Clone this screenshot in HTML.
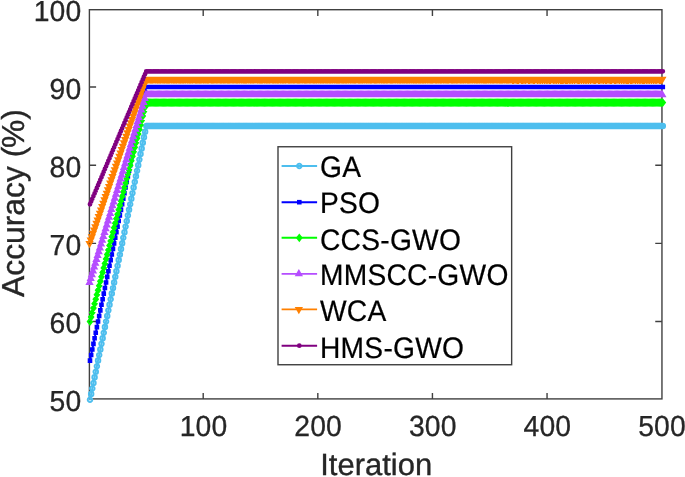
<!DOCTYPE html>
<html lang="en"><head><meta charset="utf-8"><title>Accuracy vs Iteration</title>
<style>html,body{margin:0;padding:0;background:#fff;}body{width:685px;height:477px;overflow:hidden;}svg{display:block;will-change:transform;filter:grayscale(0);}text{font-family:"Liberation Sans",sans-serif;text-rendering:geometricPrecision;}</style></head><body>
<svg width="685" height="477" viewBox="0 0 685 477">
<rect x="0" y="0" width="685" height="477" fill="#ffffff"/>
<defs>
<marker id="m0" markerUnits="userSpaceOnUse" markerWidth="12" markerHeight="12" viewBox="-6 -6 12 12" refX="0" refY="0" overflow="visible"><circle cx="0" cy="0" r="2.35" fill="#4DBEEE" fill-opacity="0.35" stroke="#4DBEEE" stroke-width="1.8"/></marker>
<marker id="m1" markerUnits="userSpaceOnUse" markerWidth="12" markerHeight="12" viewBox="-6 -6 12 12" refX="0" refY="0" overflow="visible"><rect x="-2.3" y="-2.3" width="4.6" height="4.6" fill="#0000FF"/></marker>
<marker id="m2" markerUnits="userSpaceOnUse" markerWidth="12" markerHeight="12" viewBox="-6 -6 12 12" refX="0" refY="0" overflow="visible"><path d="M0,-4.4 L3.4,0 L0,4.4 L-3.4,0 Z" fill="#00FF00"/></marker>
<marker id="m3" markerUnits="userSpaceOnUse" markerWidth="12" markerHeight="12" viewBox="-6 -6 12 12" refX="0" refY="0" overflow="visible"><path d="M-0.45,-4.85 L3.7,2.45 L-4.6,2.45 Z" fill="#B54DFF"/></marker>
<marker id="m4" markerUnits="userSpaceOnUse" markerWidth="12" markerHeight="12" viewBox="-6 -6 12 12" refX="0" refY="0" overflow="visible"><path d="M-0.45,4.85 L3.7,-2.45 L-4.6,-2.45 Z" fill="#FF8000"/></marker>
<marker id="m5" markerUnits="userSpaceOnUse" markerWidth="12" markerHeight="12" viewBox="-6 -6 12 12" refX="0" refY="0" overflow="visible"><circle cx="0" cy="0" r="2.35" fill="#800080"/></marker>
</defs>
<g stroke="#404040" stroke-width="1.4" fill="none">
<rect x="89.4" y="9.7" width="572.55" height="389.20"/>
<path d="M203.20,398.9 V393.10 M203.20,9.7 V16.10"/>
<path d="M317.82,398.9 V393.10 M317.82,9.7 V16.10"/>
<path d="M432.43,398.9 V393.10 M432.43,9.7 V16.10"/>
<path d="M547.05,398.9 V393.10 M547.05,9.7 V16.10"/>
<path d="M89.4,321.54 H96.10 M661.95,321.54 H655.25"/>
<path d="M89.4,243.37 H96.10 M661.95,243.37 H655.25"/>
<path d="M89.4,165.20 H96.10 M661.95,165.20 H655.25"/>
<path d="M89.4,87.03 H96.10 M661.95,87.03 H655.25"/>
</g>
<text transform="translate(203.50,436.30) scale(1,1.025)" style="font-size:28.3px;fill:#262626;text-anchor:middle;stroke:#262626;stroke-width:0.3px;letter-spacing:0.1px;">100</text>
<text transform="translate(318.12,436.30) scale(1,1.025)" style="font-size:28.3px;fill:#262626;text-anchor:middle;stroke:#262626;stroke-width:0.3px;letter-spacing:0.1px;">200</text>
<text transform="translate(432.73,436.30) scale(1,1.025)" style="font-size:28.3px;fill:#262626;text-anchor:middle;stroke:#262626;stroke-width:0.3px;letter-spacing:0.1px;">300</text>
<text transform="translate(547.35,436.30) scale(1,1.025)" style="font-size:28.3px;fill:#262626;text-anchor:middle;stroke:#262626;stroke-width:0.3px;letter-spacing:0.1px;">400</text>
<text transform="translate(661.97,436.30) scale(1,1.025)" style="font-size:28.3px;fill:#262626;text-anchor:middle;stroke:#262626;stroke-width:0.3px;letter-spacing:0.1px;">500</text>
<text transform="translate(81.30,411.00) scale(1,1.025)" style="font-size:28.3px;fill:#262626;text-anchor:end;stroke:#262626;stroke-width:0.3px;letter-spacing:0.1px;">50</text>
<text transform="translate(81.30,333.00) scale(1,1.025)" style="font-size:28.3px;fill:#262626;text-anchor:end;stroke:#262626;stroke-width:0.3px;letter-spacing:0.1px;">60</text>
<text transform="translate(81.30,255.00) scale(1,1.025)" style="font-size:28.3px;fill:#262626;text-anchor:end;stroke:#262626;stroke-width:0.3px;letter-spacing:0.1px;">70</text>
<text transform="translate(81.30,177.00) scale(1,1.025)" style="font-size:28.3px;fill:#262626;text-anchor:end;stroke:#262626;stroke-width:0.3px;letter-spacing:0.1px;">80</text>
<text transform="translate(81.30,99.00) scale(1,1.025)" style="font-size:28.3px;fill:#262626;text-anchor:end;stroke:#262626;stroke-width:0.3px;letter-spacing:0.1px;">90</text>
<text transform="translate(81.30,21.00) scale(1,1.025)" style="font-size:28.3px;fill:#262626;text-anchor:end;stroke:#262626;stroke-width:0.3px;letter-spacing:0.1px;">100</text>
<text transform="translate(376.20,475.20) scale(1,0.99)" style="font-size:31px;fill:#262626;text-anchor:middle;stroke:#262626;stroke-width:0.35px;">Iteration</text>
<text transform="translate(23.50,203.00) rotate(-90)" style="font-size:31.8px;fill:#262626;text-anchor:middle;stroke:#262626;stroke-width:0.35px;">Accuracy (<tspan dx="-1.2">%)</tspan></text>
<polyline fill="none" stroke="#4DBEEE" stroke-width="1.9" points="90.00,399.70 91.15,394.12 92.30,388.53 93.44,382.95 94.59,377.36 95.74,371.78 96.89,366.19 98.04,360.61 99.18,355.03 100.33,349.44 101.48,343.86 102.63,338.27 103.77,332.69 104.92,327.10 106.07,321.52 107.22,315.94 108.37,310.35 109.51,304.77 110.66,299.18 111.81,293.60 112.96,288.01 114.11,282.43 115.25,276.85 116.40,271.26 117.55,265.68 118.70,260.09 119.85,254.51 120.99,248.92 122.14,243.34 123.29,237.76 124.44,232.17 125.58,226.59 126.73,221.00 127.88,215.42 129.03,209.83 130.18,204.25 131.32,198.67 132.47,193.08 133.62,187.50 134.77,181.91 135.92,176.33 137.06,170.74 138.21,165.16 139.36,159.58 140.51,153.99 141.66,148.41 142.80,142.82 143.95,137.24 145.10,131.65 146.25,126.07 147.39,126.07 148.54,126.07 149.69,126.07 150.84,126.07 151.99,126.07 153.13,126.07 154.28,126.07 155.43,126.07 156.58,126.07 157.73,126.07 158.87,126.07 160.02,126.07 161.17,126.07 162.32,126.07 163.47,126.07 164.61,126.07 165.76,126.07 166.91,126.07 168.06,126.07 169.20,126.07 170.35,126.07 171.50,126.07 172.65,126.07 173.80,126.07 174.94,126.07 176.09,126.07 177.24,126.07 178.39,126.07 179.54,126.07 180.68,126.07 181.83,126.07 182.98,126.07 184.13,126.07 185.28,126.07 186.42,126.07 187.57,126.07 188.72,126.07 189.87,126.07 191.01,126.07 192.16,126.07 193.31,126.07 194.46,126.07 195.61,126.07 196.75,126.07 197.90,126.07 199.05,126.07 200.20,126.07 201.35,126.07 202.49,126.07 203.64,126.07 204.79,126.07 205.94,126.07 207.09,126.07 208.23,126.07 209.38,126.07 210.53,126.07 211.68,126.07 212.82,126.07 213.97,126.07 215.12,126.07 216.27,126.07 217.42,126.07 218.56,126.07 219.71,126.07 220.86,126.07 222.01,126.07 223.16,126.07 224.30,126.07 225.45,126.07 226.60,126.07 227.75,126.07 228.90,126.07 230.04,126.07 231.19,126.07 232.34,126.07 233.49,126.07 234.63,126.07 235.78,126.07 236.93,126.07 238.08,126.07 239.23,126.07 240.37,126.07 241.52,126.07 242.67,126.07 243.82,126.07 244.97,126.07 246.11,126.07 247.26,126.07 248.41,126.07 249.56,126.07 250.71,126.07 251.85,126.07 253.00,126.07 254.15,126.07 255.30,126.07 256.44,126.07 257.59,126.07 258.74,126.07 259.89,126.07 261.04,126.07 262.18,126.07 263.33,126.07 264.48,126.07 265.63,126.07 266.78,126.07 267.92,126.07 269.07,126.07 270.22,126.07 271.37,126.07 272.52,126.07 273.66,126.07 274.81,126.07 275.96,126.07 277.11,126.07 278.25,126.07 279.40,126.07 280.55,126.07 281.70,126.07 282.85,126.07 283.99,126.07 285.14,126.07 286.29,126.07 287.44,126.07 288.59,126.07 289.73,126.07 290.88,126.07 292.03,126.07 293.18,126.07 294.33,126.07 295.47,126.07 296.62,126.07 297.77,126.07 298.92,126.07 300.06,126.07 301.21,126.07 302.36,126.07 303.51,126.07 304.66,126.07 305.80,126.07 306.95,126.07 308.10,126.07 309.25,126.07 310.40,126.07 311.54,126.07 312.69,126.07 313.84,126.07 314.99,126.07 316.14,126.07 317.28,126.07 318.43,126.07 319.58,126.07 320.73,126.07 321.87,126.07 323.02,126.07 324.17,126.07 325.32,126.07 326.47,126.07 327.61,126.07 328.76,126.07 329.91,126.07 331.06,126.07 332.21,126.07 333.35,126.07 334.50,126.07 335.65,126.07 336.80,126.07 337.95,126.07 339.09,126.07 340.24,126.07 341.39,126.07 342.54,126.07 343.68,126.07 344.83,126.07 345.98,126.07 347.13,126.07 348.28,126.07 349.42,126.07 350.57,126.07 351.72,126.07 352.87,126.07 354.02,126.07 355.16,126.07 356.31,126.07 357.46,126.07 358.61,126.07 359.76,126.07 360.90,126.07 362.05,126.07 363.20,126.07 364.35,126.07 365.49,126.07 366.64,126.07 367.79,126.07 368.94,126.07 370.09,126.07 371.23,126.07 372.38,126.07 373.53,126.07 374.68,126.07 375.83,126.07 376.97,126.07 378.12,126.07 379.27,126.07 380.42,126.07 381.57,126.07 382.71,126.07 383.86,126.07 385.01,126.07 386.16,126.07 387.31,126.07 388.45,126.07 389.60,126.07 390.75,126.07 391.90,126.07 393.04,126.07 394.19,126.07 395.34,126.07 396.49,126.07 397.64,126.07 398.78,126.07 399.93,126.07 401.08,126.07 402.23,126.07 403.38,126.07 404.52,126.07 405.67,126.07 406.82,126.07 407.97,126.07 409.12,126.07 410.26,126.07 411.41,126.07 412.56,126.07 413.71,126.07 414.85,126.07 416.00,126.07 417.15,126.07 418.30,126.07 419.45,126.07 420.59,126.07 421.74,126.07 422.89,126.07 424.04,126.07 425.19,126.07 426.33,126.07 427.48,126.07 428.63,126.07 429.78,126.07 430.93,126.07 432.07,126.07 433.22,126.07 434.37,126.07 435.52,126.07 436.66,126.07 437.81,126.07 438.96,126.07 440.11,126.07 441.26,126.07 442.40,126.07 443.55,126.07 444.70,126.07 445.85,126.07 447.00,126.07 448.14,126.07 449.29,126.07 450.44,126.07 451.59,126.07 452.74,126.07 453.88,126.07 455.03,126.07 456.18,126.07 457.33,126.07 458.47,126.07 459.62,126.07 460.77,126.07 461.92,126.07 463.07,126.07 464.21,126.07 465.36,126.07 466.51,126.07 467.66,126.07 468.81,126.07 469.95,126.07 471.10,126.07 472.25,126.07 473.40,126.07 474.55,126.07 475.69,126.07 476.84,126.07 477.99,126.07 479.14,126.07 480.28,126.07 481.43,126.07 482.58,126.07 483.73,126.07 484.88,126.07 486.02,126.07 487.17,126.07 488.32,126.07 489.47,126.07 490.62,126.07 491.76,126.07 492.91,126.07 494.06,126.07 495.21,126.07 496.36,126.07 497.50,126.07 498.65,126.07 499.80,126.07 500.95,126.07 502.09,126.07 503.24,126.07 504.39,126.07 505.54,126.07 506.69,126.07 507.83,126.07 508.98,126.07 510.13,126.07 511.28,126.07 512.43,126.07 513.57,126.07 514.72,126.07 515.87,126.07 517.02,126.07 518.17,126.07 519.31,126.07 520.46,126.07 521.61,126.07 522.76,126.07 523.90,126.07 525.05,126.07 526.20,126.07 527.35,126.07 528.50,126.07 529.64,126.07 530.79,126.07 531.94,126.07 533.09,126.07 534.24,126.07 535.38,126.07 536.53,126.07 537.68,126.07 538.83,126.07 539.98,126.07 541.12,126.07 542.27,126.07 543.42,126.07 544.57,126.07 545.71,126.07 546.86,126.07 548.01,126.07 549.16,126.07 550.31,126.07 551.45,126.07 552.60,126.07 553.75,126.07 554.90,126.07 556.05,126.07 557.19,126.07 558.34,126.07 559.49,126.07 560.64,126.07 561.79,126.07 562.93,126.07 564.08,126.07 565.23,126.07 566.38,126.07 567.52,126.07 568.67,126.07 569.82,126.07 570.97,126.07 572.12,126.07 573.26,126.07 574.41,126.07 575.56,126.07 576.71,126.07 577.86,126.07 579.00,126.07 580.15,126.07 581.30,126.07 582.45,126.07 583.60,126.07 584.74,126.07 585.89,126.07 587.04,126.07 588.19,126.07 589.33,126.07 590.48,126.07 591.63,126.07 592.78,126.07 593.93,126.07 595.07,126.07 596.22,126.07 597.37,126.07 598.52,126.07 599.67,126.07 600.81,126.07 601.96,126.07 603.11,126.07 604.26,126.07 605.41,126.07 606.55,126.07 607.70,126.07 608.85,126.07 610.00,126.07 611.14,126.07 612.29,126.07 613.44,126.07 614.59,126.07 615.74,126.07 616.88,126.07 618.03,126.07 619.18,126.07 620.33,126.07 621.48,126.07 622.62,126.07 623.77,126.07 624.92,126.07 626.07,126.07 627.22,126.07 628.36,126.07 629.51,126.07 630.66,126.07 631.81,126.07 632.95,126.07 634.10,126.07 635.25,126.07 636.40,126.07 637.55,126.07 638.69,126.07 639.84,126.07 640.99,126.07 642.14,126.07 643.29,126.07 644.43,126.07 645.58,126.07 646.73,126.07 647.88,126.07 649.03,126.07 650.17,126.07 651.32,126.07 652.47,126.07 653.62,126.07 654.76,126.07 655.91,126.07 657.06,126.07 658.21,126.07 659.36,126.07 660.50,126.07 661.65,126.07 662.80,126.07"/>
<path fill="#4DBEEE" fill-opacity="0.35" stroke="#4DBEEE" stroke-width="1.8" d="M87.65,399.7a2.35,2.35 0 1,0 4.7,0a2.35,2.35 0 1,0 -4.7,0zM88.8,394.12a2.35,2.35 0 1,0 4.7,0a2.35,2.35 0 1,0 -4.7,0zM89.95,388.53a2.35,2.35 0 1,0 4.7,0a2.35,2.35 0 1,0 -4.7,0zM91.09,382.95a2.35,2.35 0 1,0 4.7,0a2.35,2.35 0 1,0 -4.7,0zM92.24,377.36a2.35,2.35 0 1,0 4.7,0a2.35,2.35 0 1,0 -4.7,0zM93.39,371.78a2.35,2.35 0 1,0 4.7,0a2.35,2.35 0 1,0 -4.7,0zM94.54,366.19a2.35,2.35 0 1,0 4.7,0a2.35,2.35 0 1,0 -4.7,0zM95.69,360.61a2.35,2.35 0 1,0 4.7,0a2.35,2.35 0 1,0 -4.7,0zM96.83,355.03a2.35,2.35 0 1,0 4.7,0a2.35,2.35 0 1,0 -4.7,0zM97.98,349.44a2.35,2.35 0 1,0 4.7,0a2.35,2.35 0 1,0 -4.7,0zM99.13,343.86a2.35,2.35 0 1,0 4.7,0a2.35,2.35 0 1,0 -4.7,0zM100.28,338.27a2.35,2.35 0 1,0 4.7,0a2.35,2.35 0 1,0 -4.7,0zM101.42,332.69a2.35,2.35 0 1,0 4.7,0a2.35,2.35 0 1,0 -4.7,0zM102.57,327.1a2.35,2.35 0 1,0 4.7,0a2.35,2.35 0 1,0 -4.7,0zM103.72,321.52a2.35,2.35 0 1,0 4.7,0a2.35,2.35 0 1,0 -4.7,0zM104.87,315.94a2.35,2.35 0 1,0 4.7,0a2.35,2.35 0 1,0 -4.7,0zM106.02,310.35a2.35,2.35 0 1,0 4.7,0a2.35,2.35 0 1,0 -4.7,0zM107.16,304.77a2.35,2.35 0 1,0 4.7,0a2.35,2.35 0 1,0 -4.7,0zM108.31,299.18a2.35,2.35 0 1,0 4.7,0a2.35,2.35 0 1,0 -4.7,0zM109.46,293.6a2.35,2.35 0 1,0 4.7,0a2.35,2.35 0 1,0 -4.7,0zM110.61,288.01a2.35,2.35 0 1,0 4.7,0a2.35,2.35 0 1,0 -4.7,0zM111.76,282.43a2.35,2.35 0 1,0 4.7,0a2.35,2.35 0 1,0 -4.7,0zM112.9,276.85a2.35,2.35 0 1,0 4.7,0a2.35,2.35 0 1,0 -4.7,0zM114.05,271.26a2.35,2.35 0 1,0 4.7,0a2.35,2.35 0 1,0 -4.7,0zM115.2,265.68a2.35,2.35 0 1,0 4.7,0a2.35,2.35 0 1,0 -4.7,0zM116.35,260.09a2.35,2.35 0 1,0 4.7,0a2.35,2.35 0 1,0 -4.7,0zM117.5,254.51a2.35,2.35 0 1,0 4.7,0a2.35,2.35 0 1,0 -4.7,0zM118.64,248.92a2.35,2.35 0 1,0 4.7,0a2.35,2.35 0 1,0 -4.7,0zM119.79,243.34a2.35,2.35 0 1,0 4.7,0a2.35,2.35 0 1,0 -4.7,0zM120.94,237.76a2.35,2.35 0 1,0 4.7,0a2.35,2.35 0 1,0 -4.7,0zM122.09,232.17a2.35,2.35 0 1,0 4.7,0a2.35,2.35 0 1,0 -4.7,0zM123.23,226.59a2.35,2.35 0 1,0 4.7,0a2.35,2.35 0 1,0 -4.7,0zM124.38,221a2.35,2.35 0 1,0 4.7,0a2.35,2.35 0 1,0 -4.7,0zM125.53,215.42a2.35,2.35 0 1,0 4.7,0a2.35,2.35 0 1,0 -4.7,0zM126.68,209.83a2.35,2.35 0 1,0 4.7,0a2.35,2.35 0 1,0 -4.7,0zM127.83,204.25a2.35,2.35 0 1,0 4.7,0a2.35,2.35 0 1,0 -4.7,0zM128.97,198.67a2.35,2.35 0 1,0 4.7,0a2.35,2.35 0 1,0 -4.7,0zM130.12,193.08a2.35,2.35 0 1,0 4.7,0a2.35,2.35 0 1,0 -4.7,0zM131.27,187.5a2.35,2.35 0 1,0 4.7,0a2.35,2.35 0 1,0 -4.7,0zM132.42,181.91a2.35,2.35 0 1,0 4.7,0a2.35,2.35 0 1,0 -4.7,0zM133.57,176.33a2.35,2.35 0 1,0 4.7,0a2.35,2.35 0 1,0 -4.7,0zM134.71,170.74a2.35,2.35 0 1,0 4.7,0a2.35,2.35 0 1,0 -4.7,0zM135.86,165.16a2.35,2.35 0 1,0 4.7,0a2.35,2.35 0 1,0 -4.7,0zM137.01,159.58a2.35,2.35 0 1,0 4.7,0a2.35,2.35 0 1,0 -4.7,0zM138.16,153.99a2.35,2.35 0 1,0 4.7,0a2.35,2.35 0 1,0 -4.7,0zM139.31,148.41a2.35,2.35 0 1,0 4.7,0a2.35,2.35 0 1,0 -4.7,0zM140.45,142.82a2.35,2.35 0 1,0 4.7,0a2.35,2.35 0 1,0 -4.7,0zM141.6,137.24a2.35,2.35 0 1,0 4.7,0a2.35,2.35 0 1,0 -4.7,0zM142.75,131.65a2.35,2.35 0 1,0 4.7,0a2.35,2.35 0 1,0 -4.7,0zM143.9,126.07a2.35,2.35 0 1,0 4.7,0a2.35,2.35 0 1,0 -4.7,0zM145.04,126.07a2.35,2.35 0 1,0 4.7,0a2.35,2.35 0 1,0 -4.7,0zM146.19,126.07a2.35,2.35 0 1,0 4.7,0a2.35,2.35 0 1,0 -4.7,0zM147.34,126.07a2.35,2.35 0 1,0 4.7,0a2.35,2.35 0 1,0 -4.7,0zM148.49,126.07a2.35,2.35 0 1,0 4.7,0a2.35,2.35 0 1,0 -4.7,0zM149.64,126.07a2.35,2.35 0 1,0 4.7,0a2.35,2.35 0 1,0 -4.7,0zM150.78,126.07a2.35,2.35 0 1,0 4.7,0a2.35,2.35 0 1,0 -4.7,0zM151.93,126.07a2.35,2.35 0 1,0 4.7,0a2.35,2.35 0 1,0 -4.7,0zM153.08,126.07a2.35,2.35 0 1,0 4.7,0a2.35,2.35 0 1,0 -4.7,0zM154.23,126.07a2.35,2.35 0 1,0 4.7,0a2.35,2.35 0 1,0 -4.7,0zM155.38,126.07a2.35,2.35 0 1,0 4.7,0a2.35,2.35 0 1,0 -4.7,0zM156.52,126.07a2.35,2.35 0 1,0 4.7,0a2.35,2.35 0 1,0 -4.7,0zM157.67,126.07a2.35,2.35 0 1,0 4.7,0a2.35,2.35 0 1,0 -4.7,0zM158.82,126.07a2.35,2.35 0 1,0 4.7,0a2.35,2.35 0 1,0 -4.7,0zM159.97,126.07a2.35,2.35 0 1,0 4.7,0a2.35,2.35 0 1,0 -4.7,0zM161.12,126.07a2.35,2.35 0 1,0 4.7,0a2.35,2.35 0 1,0 -4.7,0zM162.26,126.07a2.35,2.35 0 1,0 4.7,0a2.35,2.35 0 1,0 -4.7,0zM163.41,126.07a2.35,2.35 0 1,0 4.7,0a2.35,2.35 0 1,0 -4.7,0zM164.56,126.07a2.35,2.35 0 1,0 4.7,0a2.35,2.35 0 1,0 -4.7,0zM165.71,126.07a2.35,2.35 0 1,0 4.7,0a2.35,2.35 0 1,0 -4.7,0zM166.85,126.07a2.35,2.35 0 1,0 4.7,0a2.35,2.35 0 1,0 -4.7,0zM168,126.07a2.35,2.35 0 1,0 4.7,0a2.35,2.35 0 1,0 -4.7,0zM169.15,126.07a2.35,2.35 0 1,0 4.7,0a2.35,2.35 0 1,0 -4.7,0zM170.3,126.07a2.35,2.35 0 1,0 4.7,0a2.35,2.35 0 1,0 -4.7,0zM171.45,126.07a2.35,2.35 0 1,0 4.7,0a2.35,2.35 0 1,0 -4.7,0zM172.59,126.07a2.35,2.35 0 1,0 4.7,0a2.35,2.35 0 1,0 -4.7,0zM173.74,126.07a2.35,2.35 0 1,0 4.7,0a2.35,2.35 0 1,0 -4.7,0zM174.89,126.07a2.35,2.35 0 1,0 4.7,0a2.35,2.35 0 1,0 -4.7,0zM176.04,126.07a2.35,2.35 0 1,0 4.7,0a2.35,2.35 0 1,0 -4.7,0zM177.19,126.07a2.35,2.35 0 1,0 4.7,0a2.35,2.35 0 1,0 -4.7,0zM178.33,126.07a2.35,2.35 0 1,0 4.7,0a2.35,2.35 0 1,0 -4.7,0zM179.48,126.07a2.35,2.35 0 1,0 4.7,0a2.35,2.35 0 1,0 -4.7,0zM180.63,126.07a2.35,2.35 0 1,0 4.7,0a2.35,2.35 0 1,0 -4.7,0zM181.78,126.07a2.35,2.35 0 1,0 4.7,0a2.35,2.35 0 1,0 -4.7,0zM182.93,126.07a2.35,2.35 0 1,0 4.7,0a2.35,2.35 0 1,0 -4.7,0zM184.07,126.07a2.35,2.35 0 1,0 4.7,0a2.35,2.35 0 1,0 -4.7,0zM185.22,126.07a2.35,2.35 0 1,0 4.7,0a2.35,2.35 0 1,0 -4.7,0zM186.37,126.07a2.35,2.35 0 1,0 4.7,0a2.35,2.35 0 1,0 -4.7,0zM187.52,126.07a2.35,2.35 0 1,0 4.7,0a2.35,2.35 0 1,0 -4.7,0zM188.66,126.07a2.35,2.35 0 1,0 4.7,0a2.35,2.35 0 1,0 -4.7,0zM189.81,126.07a2.35,2.35 0 1,0 4.7,0a2.35,2.35 0 1,0 -4.7,0zM190.96,126.07a2.35,2.35 0 1,0 4.7,0a2.35,2.35 0 1,0 -4.7,0zM192.11,126.07a2.35,2.35 0 1,0 4.7,0a2.35,2.35 0 1,0 -4.7,0zM193.26,126.07a2.35,2.35 0 1,0 4.7,0a2.35,2.35 0 1,0 -4.7,0zM194.4,126.07a2.35,2.35 0 1,0 4.7,0a2.35,2.35 0 1,0 -4.7,0zM195.55,126.07a2.35,2.35 0 1,0 4.7,0a2.35,2.35 0 1,0 -4.7,0zM196.7,126.07a2.35,2.35 0 1,0 4.7,0a2.35,2.35 0 1,0 -4.7,0zM197.85,126.07a2.35,2.35 0 1,0 4.7,0a2.35,2.35 0 1,0 -4.7,0zM199,126.07a2.35,2.35 0 1,0 4.7,0a2.35,2.35 0 1,0 -4.7,0zM200.14,126.07a2.35,2.35 0 1,0 4.7,0a2.35,2.35 0 1,0 -4.7,0zM201.29,126.07a2.35,2.35 0 1,0 4.7,0a2.35,2.35 0 1,0 -4.7,0zM202.44,126.07a2.35,2.35 0 1,0 4.7,0a2.35,2.35 0 1,0 -4.7,0zM203.59,126.07a2.35,2.35 0 1,0 4.7,0a2.35,2.35 0 1,0 -4.7,0zM204.74,126.07a2.35,2.35 0 1,0 4.7,0a2.35,2.35 0 1,0 -4.7,0zM205.88,126.07a2.35,2.35 0 1,0 4.7,0a2.35,2.35 0 1,0 -4.7,0zM207.03,126.07a2.35,2.35 0 1,0 4.7,0a2.35,2.35 0 1,0 -4.7,0zM208.18,126.07a2.35,2.35 0 1,0 4.7,0a2.35,2.35 0 1,0 -4.7,0zM209.33,126.07a2.35,2.35 0 1,0 4.7,0a2.35,2.35 0 1,0 -4.7,0zM210.47,126.07a2.35,2.35 0 1,0 4.7,0a2.35,2.35 0 1,0 -4.7,0zM211.62,126.07a2.35,2.35 0 1,0 4.7,0a2.35,2.35 0 1,0 -4.7,0zM212.77,126.07a2.35,2.35 0 1,0 4.7,0a2.35,2.35 0 1,0 -4.7,0zM213.92,126.07a2.35,2.35 0 1,0 4.7,0a2.35,2.35 0 1,0 -4.7,0zM215.07,126.07a2.35,2.35 0 1,0 4.7,0a2.35,2.35 0 1,0 -4.7,0zM216.21,126.07a2.35,2.35 0 1,0 4.7,0a2.35,2.35 0 1,0 -4.7,0zM217.36,126.07a2.35,2.35 0 1,0 4.7,0a2.35,2.35 0 1,0 -4.7,0zM218.51,126.07a2.35,2.35 0 1,0 4.7,0a2.35,2.35 0 1,0 -4.7,0zM219.66,126.07a2.35,2.35 0 1,0 4.7,0a2.35,2.35 0 1,0 -4.7,0zM220.81,126.07a2.35,2.35 0 1,0 4.7,0a2.35,2.35 0 1,0 -4.7,0zM221.95,126.07a2.35,2.35 0 1,0 4.7,0a2.35,2.35 0 1,0 -4.7,0zM223.1,126.07a2.35,2.35 0 1,0 4.7,0a2.35,2.35 0 1,0 -4.7,0zM224.25,126.07a2.35,2.35 0 1,0 4.7,0a2.35,2.35 0 1,0 -4.7,0zM225.4,126.07a2.35,2.35 0 1,0 4.7,0a2.35,2.35 0 1,0 -4.7,0zM226.55,126.07a2.35,2.35 0 1,0 4.7,0a2.35,2.35 0 1,0 -4.7,0zM227.69,126.07a2.35,2.35 0 1,0 4.7,0a2.35,2.35 0 1,0 -4.7,0zM228.84,126.07a2.35,2.35 0 1,0 4.7,0a2.35,2.35 0 1,0 -4.7,0zM229.99,126.07a2.35,2.35 0 1,0 4.7,0a2.35,2.35 0 1,0 -4.7,0zM231.14,126.07a2.35,2.35 0 1,0 4.7,0a2.35,2.35 0 1,0 -4.7,0zM232.28,126.07a2.35,2.35 0 1,0 4.7,0a2.35,2.35 0 1,0 -4.7,0zM233.43,126.07a2.35,2.35 0 1,0 4.7,0a2.35,2.35 0 1,0 -4.7,0zM234.58,126.07a2.35,2.35 0 1,0 4.7,0a2.35,2.35 0 1,0 -4.7,0zM235.73,126.07a2.35,2.35 0 1,0 4.7,0a2.35,2.35 0 1,0 -4.7,0zM236.88,126.07a2.35,2.35 0 1,0 4.7,0a2.35,2.35 0 1,0 -4.7,0zM238.02,126.07a2.35,2.35 0 1,0 4.7,0a2.35,2.35 0 1,0 -4.7,0zM239.17,126.07a2.35,2.35 0 1,0 4.7,0a2.35,2.35 0 1,0 -4.7,0zM240.32,126.07a2.35,2.35 0 1,0 4.7,0a2.35,2.35 0 1,0 -4.7,0zM241.47,126.07a2.35,2.35 0 1,0 4.7,0a2.35,2.35 0 1,0 -4.7,0zM242.62,126.07a2.35,2.35 0 1,0 4.7,0a2.35,2.35 0 1,0 -4.7,0zM243.76,126.07a2.35,2.35 0 1,0 4.7,0a2.35,2.35 0 1,0 -4.7,0zM244.91,126.07a2.35,2.35 0 1,0 4.7,0a2.35,2.35 0 1,0 -4.7,0zM246.06,126.07a2.35,2.35 0 1,0 4.7,0a2.35,2.35 0 1,0 -4.7,0zM247.21,126.07a2.35,2.35 0 1,0 4.7,0a2.35,2.35 0 1,0 -4.7,0zM248.36,126.07a2.35,2.35 0 1,0 4.7,0a2.35,2.35 0 1,0 -4.7,0zM249.5,126.07a2.35,2.35 0 1,0 4.7,0a2.35,2.35 0 1,0 -4.7,0zM250.65,126.07a2.35,2.35 0 1,0 4.7,0a2.35,2.35 0 1,0 -4.7,0zM251.8,126.07a2.35,2.35 0 1,0 4.7,0a2.35,2.35 0 1,0 -4.7,0zM252.95,126.07a2.35,2.35 0 1,0 4.7,0a2.35,2.35 0 1,0 -4.7,0zM254.09,126.07a2.35,2.35 0 1,0 4.7,0a2.35,2.35 0 1,0 -4.7,0zM255.24,126.07a2.35,2.35 0 1,0 4.7,0a2.35,2.35 0 1,0 -4.7,0zM256.39,126.07a2.35,2.35 0 1,0 4.7,0a2.35,2.35 0 1,0 -4.7,0zM257.54,126.07a2.35,2.35 0 1,0 4.7,0a2.35,2.35 0 1,0 -4.7,0zM258.69,126.07a2.35,2.35 0 1,0 4.7,0a2.35,2.35 0 1,0 -4.7,0zM259.83,126.07a2.35,2.35 0 1,0 4.7,0a2.35,2.35 0 1,0 -4.7,0zM260.98,126.07a2.35,2.35 0 1,0 4.7,0a2.35,2.35 0 1,0 -4.7,0zM262.13,126.07a2.35,2.35 0 1,0 4.7,0a2.35,2.35 0 1,0 -4.7,0zM263.28,126.07a2.35,2.35 0 1,0 4.7,0a2.35,2.35 0 1,0 -4.7,0zM264.43,126.07a2.35,2.35 0 1,0 4.7,0a2.35,2.35 0 1,0 -4.7,0zM265.57,126.07a2.35,2.35 0 1,0 4.7,0a2.35,2.35 0 1,0 -4.7,0zM266.72,126.07a2.35,2.35 0 1,0 4.7,0a2.35,2.35 0 1,0 -4.7,0zM267.87,126.07a2.35,2.35 0 1,0 4.7,0a2.35,2.35 0 1,0 -4.7,0zM269.02,126.07a2.35,2.35 0 1,0 4.7,0a2.35,2.35 0 1,0 -4.7,0zM270.17,126.07a2.35,2.35 0 1,0 4.7,0a2.35,2.35 0 1,0 -4.7,0zM271.31,126.07a2.35,2.35 0 1,0 4.7,0a2.35,2.35 0 1,0 -4.7,0zM272.46,126.07a2.35,2.35 0 1,0 4.7,0a2.35,2.35 0 1,0 -4.7,0zM273.61,126.07a2.35,2.35 0 1,0 4.7,0a2.35,2.35 0 1,0 -4.7,0zM274.76,126.07a2.35,2.35 0 1,0 4.7,0a2.35,2.35 0 1,0 -4.7,0zM275.9,126.07a2.35,2.35 0 1,0 4.7,0a2.35,2.35 0 1,0 -4.7,0zM277.05,126.07a2.35,2.35 0 1,0 4.7,0a2.35,2.35 0 1,0 -4.7,0zM278.2,126.07a2.35,2.35 0 1,0 4.7,0a2.35,2.35 0 1,0 -4.7,0zM279.35,126.07a2.35,2.35 0 1,0 4.7,0a2.35,2.35 0 1,0 -4.7,0zM280.5,126.07a2.35,2.35 0 1,0 4.7,0a2.35,2.35 0 1,0 -4.7,0zM281.64,126.07a2.35,2.35 0 1,0 4.7,0a2.35,2.35 0 1,0 -4.7,0zM282.79,126.07a2.35,2.35 0 1,0 4.7,0a2.35,2.35 0 1,0 -4.7,0zM283.94,126.07a2.35,2.35 0 1,0 4.7,0a2.35,2.35 0 1,0 -4.7,0zM285.09,126.07a2.35,2.35 0 1,0 4.7,0a2.35,2.35 0 1,0 -4.7,0zM286.24,126.07a2.35,2.35 0 1,0 4.7,0a2.35,2.35 0 1,0 -4.7,0zM287.38,126.07a2.35,2.35 0 1,0 4.7,0a2.35,2.35 0 1,0 -4.7,0zM288.53,126.07a2.35,2.35 0 1,0 4.7,0a2.35,2.35 0 1,0 -4.7,0zM289.68,126.07a2.35,2.35 0 1,0 4.7,0a2.35,2.35 0 1,0 -4.7,0zM290.83,126.07a2.35,2.35 0 1,0 4.7,0a2.35,2.35 0 1,0 -4.7,0zM291.98,126.07a2.35,2.35 0 1,0 4.7,0a2.35,2.35 0 1,0 -4.7,0zM293.12,126.07a2.35,2.35 0 1,0 4.7,0a2.35,2.35 0 1,0 -4.7,0zM294.27,126.07a2.35,2.35 0 1,0 4.7,0a2.35,2.35 0 1,0 -4.7,0zM295.42,126.07a2.35,2.35 0 1,0 4.7,0a2.35,2.35 0 1,0 -4.7,0zM296.57,126.07a2.35,2.35 0 1,0 4.7,0a2.35,2.35 0 1,0 -4.7,0zM297.71,126.07a2.35,2.35 0 1,0 4.7,0a2.35,2.35 0 1,0 -4.7,0zM298.86,126.07a2.35,2.35 0 1,0 4.7,0a2.35,2.35 0 1,0 -4.7,0zM300.01,126.07a2.35,2.35 0 1,0 4.7,0a2.35,2.35 0 1,0 -4.7,0zM301.16,126.07a2.35,2.35 0 1,0 4.7,0a2.35,2.35 0 1,0 -4.7,0zM302.31,126.07a2.35,2.35 0 1,0 4.7,0a2.35,2.35 0 1,0 -4.7,0zM303.45,126.07a2.35,2.35 0 1,0 4.7,0a2.35,2.35 0 1,0 -4.7,0zM304.6,126.07a2.35,2.35 0 1,0 4.7,0a2.35,2.35 0 1,0 -4.7,0zM305.75,126.07a2.35,2.35 0 1,0 4.7,0a2.35,2.35 0 1,0 -4.7,0zM306.9,126.07a2.35,2.35 0 1,0 4.7,0a2.35,2.35 0 1,0 -4.7,0zM308.05,126.07a2.35,2.35 0 1,0 4.7,0a2.35,2.35 0 1,0 -4.7,0zM309.19,126.07a2.35,2.35 0 1,0 4.7,0a2.35,2.35 0 1,0 -4.7,0zM310.34,126.07a2.35,2.35 0 1,0 4.7,0a2.35,2.35 0 1,0 -4.7,0zM311.49,126.07a2.35,2.35 0 1,0 4.7,0a2.35,2.35 0 1,0 -4.7,0zM312.64,126.07a2.35,2.35 0 1,0 4.7,0a2.35,2.35 0 1,0 -4.7,0zM313.79,126.07a2.35,2.35 0 1,0 4.7,0a2.35,2.35 0 1,0 -4.7,0zM314.93,126.07a2.35,2.35 0 1,0 4.7,0a2.35,2.35 0 1,0 -4.7,0zM316.08,126.07a2.35,2.35 0 1,0 4.7,0a2.35,2.35 0 1,0 -4.7,0zM317.23,126.07a2.35,2.35 0 1,0 4.7,0a2.35,2.35 0 1,0 -4.7,0zM318.38,126.07a2.35,2.35 0 1,0 4.7,0a2.35,2.35 0 1,0 -4.7,0zM319.52,126.07a2.35,2.35 0 1,0 4.7,0a2.35,2.35 0 1,0 -4.7,0zM320.67,126.07a2.35,2.35 0 1,0 4.7,0a2.35,2.35 0 1,0 -4.7,0zM321.82,126.07a2.35,2.35 0 1,0 4.7,0a2.35,2.35 0 1,0 -4.7,0zM322.97,126.07a2.35,2.35 0 1,0 4.7,0a2.35,2.35 0 1,0 -4.7,0zM324.12,126.07a2.35,2.35 0 1,0 4.7,0a2.35,2.35 0 1,0 -4.7,0zM325.26,126.07a2.35,2.35 0 1,0 4.7,0a2.35,2.35 0 1,0 -4.7,0zM326.41,126.07a2.35,2.35 0 1,0 4.7,0a2.35,2.35 0 1,0 -4.7,0zM327.56,126.07a2.35,2.35 0 1,0 4.7,0a2.35,2.35 0 1,0 -4.7,0zM328.71,126.07a2.35,2.35 0 1,0 4.7,0a2.35,2.35 0 1,0 -4.7,0zM329.86,126.07a2.35,2.35 0 1,0 4.7,0a2.35,2.35 0 1,0 -4.7,0zM331,126.07a2.35,2.35 0 1,0 4.7,0a2.35,2.35 0 1,0 -4.7,0zM332.15,126.07a2.35,2.35 0 1,0 4.7,0a2.35,2.35 0 1,0 -4.7,0zM333.3,126.07a2.35,2.35 0 1,0 4.7,0a2.35,2.35 0 1,0 -4.7,0zM334.45,126.07a2.35,2.35 0 1,0 4.7,0a2.35,2.35 0 1,0 -4.7,0zM335.6,126.07a2.35,2.35 0 1,0 4.7,0a2.35,2.35 0 1,0 -4.7,0zM336.74,126.07a2.35,2.35 0 1,0 4.7,0a2.35,2.35 0 1,0 -4.7,0zM337.89,126.07a2.35,2.35 0 1,0 4.7,0a2.35,2.35 0 1,0 -4.7,0zM339.04,126.07a2.35,2.35 0 1,0 4.7,0a2.35,2.35 0 1,0 -4.7,0zM340.19,126.07a2.35,2.35 0 1,0 4.7,0a2.35,2.35 0 1,0 -4.7,0zM341.33,126.07a2.35,2.35 0 1,0 4.7,0a2.35,2.35 0 1,0 -4.7,0zM342.48,126.07a2.35,2.35 0 1,0 4.7,0a2.35,2.35 0 1,0 -4.7,0zM343.63,126.07a2.35,2.35 0 1,0 4.7,0a2.35,2.35 0 1,0 -4.7,0zM344.78,126.07a2.35,2.35 0 1,0 4.7,0a2.35,2.35 0 1,0 -4.7,0zM345.93,126.07a2.35,2.35 0 1,0 4.7,0a2.35,2.35 0 1,0 -4.7,0zM347.07,126.07a2.35,2.35 0 1,0 4.7,0a2.35,2.35 0 1,0 -4.7,0zM348.22,126.07a2.35,2.35 0 1,0 4.7,0a2.35,2.35 0 1,0 -4.7,0zM349.37,126.07a2.35,2.35 0 1,0 4.7,0a2.35,2.35 0 1,0 -4.7,0zM350.52,126.07a2.35,2.35 0 1,0 4.7,0a2.35,2.35 0 1,0 -4.7,0zM351.67,126.07a2.35,2.35 0 1,0 4.7,0a2.35,2.35 0 1,0 -4.7,0zM352.81,126.07a2.35,2.35 0 1,0 4.7,0a2.35,2.35 0 1,0 -4.7,0zM353.96,126.07a2.35,2.35 0 1,0 4.7,0a2.35,2.35 0 1,0 -4.7,0zM355.11,126.07a2.35,2.35 0 1,0 4.7,0a2.35,2.35 0 1,0 -4.7,0zM356.26,126.07a2.35,2.35 0 1,0 4.7,0a2.35,2.35 0 1,0 -4.7,0zM357.41,126.07a2.35,2.35 0 1,0 4.7,0a2.35,2.35 0 1,0 -4.7,0zM358.55,126.07a2.35,2.35 0 1,0 4.7,0a2.35,2.35 0 1,0 -4.7,0zM359.7,126.07a2.35,2.35 0 1,0 4.7,0a2.35,2.35 0 1,0 -4.7,0zM360.85,126.07a2.35,2.35 0 1,0 4.7,0a2.35,2.35 0 1,0 -4.7,0zM362,126.07a2.35,2.35 0 1,0 4.7,0a2.35,2.35 0 1,0 -4.7,0zM363.14,126.07a2.35,2.35 0 1,0 4.7,0a2.35,2.35 0 1,0 -4.7,0zM364.29,126.07a2.35,2.35 0 1,0 4.7,0a2.35,2.35 0 1,0 -4.7,0zM365.44,126.07a2.35,2.35 0 1,0 4.7,0a2.35,2.35 0 1,0 -4.7,0zM366.59,126.07a2.35,2.35 0 1,0 4.7,0a2.35,2.35 0 1,0 -4.7,0zM367.74,126.07a2.35,2.35 0 1,0 4.7,0a2.35,2.35 0 1,0 -4.7,0zM368.88,126.07a2.35,2.35 0 1,0 4.7,0a2.35,2.35 0 1,0 -4.7,0zM370.03,126.07a2.35,2.35 0 1,0 4.7,0a2.35,2.35 0 1,0 -4.7,0zM371.18,126.07a2.35,2.35 0 1,0 4.7,0a2.35,2.35 0 1,0 -4.7,0zM372.33,126.07a2.35,2.35 0 1,0 4.7,0a2.35,2.35 0 1,0 -4.7,0zM373.48,126.07a2.35,2.35 0 1,0 4.7,0a2.35,2.35 0 1,0 -4.7,0zM374.62,126.07a2.35,2.35 0 1,0 4.7,0a2.35,2.35 0 1,0 -4.7,0zM375.77,126.07a2.35,2.35 0 1,0 4.7,0a2.35,2.35 0 1,0 -4.7,0zM376.92,126.07a2.35,2.35 0 1,0 4.7,0a2.35,2.35 0 1,0 -4.7,0zM378.07,126.07a2.35,2.35 0 1,0 4.7,0a2.35,2.35 0 1,0 -4.7,0zM379.22,126.07a2.35,2.35 0 1,0 4.7,0a2.35,2.35 0 1,0 -4.7,0zM380.36,126.07a2.35,2.35 0 1,0 4.7,0a2.35,2.35 0 1,0 -4.7,0zM381.51,126.07a2.35,2.35 0 1,0 4.7,0a2.35,2.35 0 1,0 -4.7,0zM382.66,126.07a2.35,2.35 0 1,0 4.7,0a2.35,2.35 0 1,0 -4.7,0zM383.81,126.07a2.35,2.35 0 1,0 4.7,0a2.35,2.35 0 1,0 -4.7,0zM384.96,126.07a2.35,2.35 0 1,0 4.7,0a2.35,2.35 0 1,0 -4.7,0zM386.1,126.07a2.35,2.35 0 1,0 4.7,0a2.35,2.35 0 1,0 -4.7,0zM387.25,126.07a2.35,2.35 0 1,0 4.7,0a2.35,2.35 0 1,0 -4.7,0zM388.4,126.07a2.35,2.35 0 1,0 4.7,0a2.35,2.35 0 1,0 -4.7,0zM389.55,126.07a2.35,2.35 0 1,0 4.7,0a2.35,2.35 0 1,0 -4.7,0zM390.69,126.07a2.35,2.35 0 1,0 4.7,0a2.35,2.35 0 1,0 -4.7,0zM391.84,126.07a2.35,2.35 0 1,0 4.7,0a2.35,2.35 0 1,0 -4.7,0zM392.99,126.07a2.35,2.35 0 1,0 4.7,0a2.35,2.35 0 1,0 -4.7,0zM394.14,126.07a2.35,2.35 0 1,0 4.7,0a2.35,2.35 0 1,0 -4.7,0zM395.29,126.07a2.35,2.35 0 1,0 4.7,0a2.35,2.35 0 1,0 -4.7,0zM396.43,126.07a2.35,2.35 0 1,0 4.7,0a2.35,2.35 0 1,0 -4.7,0zM397.58,126.07a2.35,2.35 0 1,0 4.7,0a2.35,2.35 0 1,0 -4.7,0zM398.73,126.07a2.35,2.35 0 1,0 4.7,0a2.35,2.35 0 1,0 -4.7,0zM399.88,126.07a2.35,2.35 0 1,0 4.7,0a2.35,2.35 0 1,0 -4.7,0zM401.03,126.07a2.35,2.35 0 1,0 4.7,0a2.35,2.35 0 1,0 -4.7,0zM402.17,126.07a2.35,2.35 0 1,0 4.7,0a2.35,2.35 0 1,0 -4.7,0zM403.32,126.07a2.35,2.35 0 1,0 4.7,0a2.35,2.35 0 1,0 -4.7,0zM404.47,126.07a2.35,2.35 0 1,0 4.7,0a2.35,2.35 0 1,0 -4.7,0zM405.62,126.07a2.35,2.35 0 1,0 4.7,0a2.35,2.35 0 1,0 -4.7,0zM406.77,126.07a2.35,2.35 0 1,0 4.7,0a2.35,2.35 0 1,0 -4.7,0zM407.91,126.07a2.35,2.35 0 1,0 4.7,0a2.35,2.35 0 1,0 -4.7,0zM409.06,126.07a2.35,2.35 0 1,0 4.7,0a2.35,2.35 0 1,0 -4.7,0zM410.21,126.07a2.35,2.35 0 1,0 4.7,0a2.35,2.35 0 1,0 -4.7,0zM411.36,126.07a2.35,2.35 0 1,0 4.7,0a2.35,2.35 0 1,0 -4.7,0zM412.5,126.07a2.35,2.35 0 1,0 4.7,0a2.35,2.35 0 1,0 -4.7,0zM413.65,126.07a2.35,2.35 0 1,0 4.7,0a2.35,2.35 0 1,0 -4.7,0zM414.8,126.07a2.35,2.35 0 1,0 4.7,0a2.35,2.35 0 1,0 -4.7,0zM415.95,126.07a2.35,2.35 0 1,0 4.7,0a2.35,2.35 0 1,0 -4.7,0zM417.1,126.07a2.35,2.35 0 1,0 4.7,0a2.35,2.35 0 1,0 -4.7,0zM418.24,126.07a2.35,2.35 0 1,0 4.7,0a2.35,2.35 0 1,0 -4.7,0zM419.39,126.07a2.35,2.35 0 1,0 4.7,0a2.35,2.35 0 1,0 -4.7,0zM420.54,126.07a2.35,2.35 0 1,0 4.7,0a2.35,2.35 0 1,0 -4.7,0zM421.69,126.07a2.35,2.35 0 1,0 4.7,0a2.35,2.35 0 1,0 -4.7,0zM422.84,126.07a2.35,2.35 0 1,0 4.7,0a2.35,2.35 0 1,0 -4.7,0zM423.98,126.07a2.35,2.35 0 1,0 4.7,0a2.35,2.35 0 1,0 -4.7,0zM425.13,126.07a2.35,2.35 0 1,0 4.7,0a2.35,2.35 0 1,0 -4.7,0zM426.28,126.07a2.35,2.35 0 1,0 4.7,0a2.35,2.35 0 1,0 -4.7,0zM427.43,126.07a2.35,2.35 0 1,0 4.7,0a2.35,2.35 0 1,0 -4.7,0zM428.58,126.07a2.35,2.35 0 1,0 4.7,0a2.35,2.35 0 1,0 -4.7,0zM429.72,126.07a2.35,2.35 0 1,0 4.7,0a2.35,2.35 0 1,0 -4.7,0zM430.87,126.07a2.35,2.35 0 1,0 4.7,0a2.35,2.35 0 1,0 -4.7,0zM432.02,126.07a2.35,2.35 0 1,0 4.7,0a2.35,2.35 0 1,0 -4.7,0zM433.17,126.07a2.35,2.35 0 1,0 4.7,0a2.35,2.35 0 1,0 -4.7,0zM434.31,126.07a2.35,2.35 0 1,0 4.7,0a2.35,2.35 0 1,0 -4.7,0zM435.46,126.07a2.35,2.35 0 1,0 4.7,0a2.35,2.35 0 1,0 -4.7,0zM436.61,126.07a2.35,2.35 0 1,0 4.7,0a2.35,2.35 0 1,0 -4.7,0zM437.76,126.07a2.35,2.35 0 1,0 4.7,0a2.35,2.35 0 1,0 -4.7,0zM438.91,126.07a2.35,2.35 0 1,0 4.7,0a2.35,2.35 0 1,0 -4.7,0zM440.05,126.07a2.35,2.35 0 1,0 4.7,0a2.35,2.35 0 1,0 -4.7,0zM441.2,126.07a2.35,2.35 0 1,0 4.7,0a2.35,2.35 0 1,0 -4.7,0zM442.35,126.07a2.35,2.35 0 1,0 4.7,0a2.35,2.35 0 1,0 -4.7,0zM443.5,126.07a2.35,2.35 0 1,0 4.7,0a2.35,2.35 0 1,0 -4.7,0zM444.65,126.07a2.35,2.35 0 1,0 4.7,0a2.35,2.35 0 1,0 -4.7,0zM445.79,126.07a2.35,2.35 0 1,0 4.7,0a2.35,2.35 0 1,0 -4.7,0zM446.94,126.07a2.35,2.35 0 1,0 4.7,0a2.35,2.35 0 1,0 -4.7,0zM448.09,126.07a2.35,2.35 0 1,0 4.7,0a2.35,2.35 0 1,0 -4.7,0zM449.24,126.07a2.35,2.35 0 1,0 4.7,0a2.35,2.35 0 1,0 -4.7,0zM450.39,126.07a2.35,2.35 0 1,0 4.7,0a2.35,2.35 0 1,0 -4.7,0zM451.53,126.07a2.35,2.35 0 1,0 4.7,0a2.35,2.35 0 1,0 -4.7,0zM452.68,126.07a2.35,2.35 0 1,0 4.7,0a2.35,2.35 0 1,0 -4.7,0zM453.83,126.07a2.35,2.35 0 1,0 4.7,0a2.35,2.35 0 1,0 -4.7,0zM454.98,126.07a2.35,2.35 0 1,0 4.7,0a2.35,2.35 0 1,0 -4.7,0zM456.12,126.07a2.35,2.35 0 1,0 4.7,0a2.35,2.35 0 1,0 -4.7,0zM457.27,126.07a2.35,2.35 0 1,0 4.7,0a2.35,2.35 0 1,0 -4.7,0zM458.42,126.07a2.35,2.35 0 1,0 4.7,0a2.35,2.35 0 1,0 -4.7,0zM459.57,126.07a2.35,2.35 0 1,0 4.7,0a2.35,2.35 0 1,0 -4.7,0zM460.72,126.07a2.35,2.35 0 1,0 4.7,0a2.35,2.35 0 1,0 -4.7,0zM461.86,126.07a2.35,2.35 0 1,0 4.7,0a2.35,2.35 0 1,0 -4.7,0zM463.01,126.07a2.35,2.35 0 1,0 4.7,0a2.35,2.35 0 1,0 -4.7,0zM464.16,126.07a2.35,2.35 0 1,0 4.7,0a2.35,2.35 0 1,0 -4.7,0zM465.31,126.07a2.35,2.35 0 1,0 4.7,0a2.35,2.35 0 1,0 -4.7,0zM466.46,126.07a2.35,2.35 0 1,0 4.7,0a2.35,2.35 0 1,0 -4.7,0zM467.6,126.07a2.35,2.35 0 1,0 4.7,0a2.35,2.35 0 1,0 -4.7,0zM468.75,126.07a2.35,2.35 0 1,0 4.7,0a2.35,2.35 0 1,0 -4.7,0zM469.9,126.07a2.35,2.35 0 1,0 4.7,0a2.35,2.35 0 1,0 -4.7,0zM471.05,126.07a2.35,2.35 0 1,0 4.7,0a2.35,2.35 0 1,0 -4.7,0zM472.2,126.07a2.35,2.35 0 1,0 4.7,0a2.35,2.35 0 1,0 -4.7,0zM473.34,126.07a2.35,2.35 0 1,0 4.7,0a2.35,2.35 0 1,0 -4.7,0zM474.49,126.07a2.35,2.35 0 1,0 4.7,0a2.35,2.35 0 1,0 -4.7,0zM475.64,126.07a2.35,2.35 0 1,0 4.7,0a2.35,2.35 0 1,0 -4.7,0zM476.79,126.07a2.35,2.35 0 1,0 4.7,0a2.35,2.35 0 1,0 -4.7,0zM477.93,126.07a2.35,2.35 0 1,0 4.7,0a2.35,2.35 0 1,0 -4.7,0zM479.08,126.07a2.35,2.35 0 1,0 4.7,0a2.35,2.35 0 1,0 -4.7,0zM480.23,126.07a2.35,2.35 0 1,0 4.7,0a2.35,2.35 0 1,0 -4.7,0zM481.38,126.07a2.35,2.35 0 1,0 4.7,0a2.35,2.35 0 1,0 -4.7,0zM482.53,126.07a2.35,2.35 0 1,0 4.7,0a2.35,2.35 0 1,0 -4.7,0zM483.67,126.07a2.35,2.35 0 1,0 4.7,0a2.35,2.35 0 1,0 -4.7,0zM484.82,126.07a2.35,2.35 0 1,0 4.7,0a2.35,2.35 0 1,0 -4.7,0zM485.97,126.07a2.35,2.35 0 1,0 4.7,0a2.35,2.35 0 1,0 -4.7,0zM487.12,126.07a2.35,2.35 0 1,0 4.7,0a2.35,2.35 0 1,0 -4.7,0zM488.27,126.07a2.35,2.35 0 1,0 4.7,0a2.35,2.35 0 1,0 -4.7,0zM489.41,126.07a2.35,2.35 0 1,0 4.7,0a2.35,2.35 0 1,0 -4.7,0zM490.56,126.07a2.35,2.35 0 1,0 4.7,0a2.35,2.35 0 1,0 -4.7,0zM491.71,126.07a2.35,2.35 0 1,0 4.7,0a2.35,2.35 0 1,0 -4.7,0zM492.86,126.07a2.35,2.35 0 1,0 4.7,0a2.35,2.35 0 1,0 -4.7,0zM494.01,126.07a2.35,2.35 0 1,0 4.7,0a2.35,2.35 0 1,0 -4.7,0zM495.15,126.07a2.35,2.35 0 1,0 4.7,0a2.35,2.35 0 1,0 -4.7,0zM496.3,126.07a2.35,2.35 0 1,0 4.7,0a2.35,2.35 0 1,0 -4.7,0zM497.45,126.07a2.35,2.35 0 1,0 4.7,0a2.35,2.35 0 1,0 -4.7,0zM498.6,126.07a2.35,2.35 0 1,0 4.7,0a2.35,2.35 0 1,0 -4.7,0zM499.74,126.07a2.35,2.35 0 1,0 4.7,0a2.35,2.35 0 1,0 -4.7,0zM500.89,126.07a2.35,2.35 0 1,0 4.7,0a2.35,2.35 0 1,0 -4.7,0zM502.04,126.07a2.35,2.35 0 1,0 4.7,0a2.35,2.35 0 1,0 -4.7,0zM503.19,126.07a2.35,2.35 0 1,0 4.7,0a2.35,2.35 0 1,0 -4.7,0zM504.34,126.07a2.35,2.35 0 1,0 4.7,0a2.35,2.35 0 1,0 -4.7,0zM505.48,126.07a2.35,2.35 0 1,0 4.7,0a2.35,2.35 0 1,0 -4.7,0zM506.63,126.07a2.35,2.35 0 1,0 4.7,0a2.35,2.35 0 1,0 -4.7,0zM507.78,126.07a2.35,2.35 0 1,0 4.7,0a2.35,2.35 0 1,0 -4.7,0zM508.93,126.07a2.35,2.35 0 1,0 4.7,0a2.35,2.35 0 1,0 -4.7,0zM510.08,126.07a2.35,2.35 0 1,0 4.7,0a2.35,2.35 0 1,0 -4.7,0zM511.22,126.07a2.35,2.35 0 1,0 4.7,0a2.35,2.35 0 1,0 -4.7,0zM512.37,126.07a2.35,2.35 0 1,0 4.7,0a2.35,2.35 0 1,0 -4.7,0zM513.52,126.07a2.35,2.35 0 1,0 4.7,0a2.35,2.35 0 1,0 -4.7,0zM514.67,126.07a2.35,2.35 0 1,0 4.7,0a2.35,2.35 0 1,0 -4.7,0zM515.82,126.07a2.35,2.35 0 1,0 4.7,0a2.35,2.35 0 1,0 -4.7,0zM516.96,126.07a2.35,2.35 0 1,0 4.7,0a2.35,2.35 0 1,0 -4.7,0zM518.11,126.07a2.35,2.35 0 1,0 4.7,0a2.35,2.35 0 1,0 -4.7,0zM519.26,126.07a2.35,2.35 0 1,0 4.7,0a2.35,2.35 0 1,0 -4.7,0zM520.41,126.07a2.35,2.35 0 1,0 4.7,0a2.35,2.35 0 1,0 -4.7,0zM521.55,126.07a2.35,2.35 0 1,0 4.7,0a2.35,2.35 0 1,0 -4.7,0zM522.7,126.07a2.35,2.35 0 1,0 4.7,0a2.35,2.35 0 1,0 -4.7,0zM523.85,126.07a2.35,2.35 0 1,0 4.7,0a2.35,2.35 0 1,0 -4.7,0zM525,126.07a2.35,2.35 0 1,0 4.7,0a2.35,2.35 0 1,0 -4.7,0zM526.15,126.07a2.35,2.35 0 1,0 4.7,0a2.35,2.35 0 1,0 -4.7,0zM527.29,126.07a2.35,2.35 0 1,0 4.7,0a2.35,2.35 0 1,0 -4.7,0zM528.44,126.07a2.35,2.35 0 1,0 4.7,0a2.35,2.35 0 1,0 -4.7,0zM529.59,126.07a2.35,2.35 0 1,0 4.7,0a2.35,2.35 0 1,0 -4.7,0zM530.74,126.07a2.35,2.35 0 1,0 4.7,0a2.35,2.35 0 1,0 -4.7,0zM531.89,126.07a2.35,2.35 0 1,0 4.7,0a2.35,2.35 0 1,0 -4.7,0zM533.03,126.07a2.35,2.35 0 1,0 4.7,0a2.35,2.35 0 1,0 -4.7,0zM534.18,126.07a2.35,2.35 0 1,0 4.7,0a2.35,2.35 0 1,0 -4.7,0zM535.33,126.07a2.35,2.35 0 1,0 4.7,0a2.35,2.35 0 1,0 -4.7,0zM536.48,126.07a2.35,2.35 0 1,0 4.7,0a2.35,2.35 0 1,0 -4.7,0zM537.63,126.07a2.35,2.35 0 1,0 4.7,0a2.35,2.35 0 1,0 -4.7,0zM538.77,126.07a2.35,2.35 0 1,0 4.7,0a2.35,2.35 0 1,0 -4.7,0zM539.92,126.07a2.35,2.35 0 1,0 4.7,0a2.35,2.35 0 1,0 -4.7,0zM541.07,126.07a2.35,2.35 0 1,0 4.7,0a2.35,2.35 0 1,0 -4.7,0zM542.22,126.07a2.35,2.35 0 1,0 4.7,0a2.35,2.35 0 1,0 -4.7,0zM543.36,126.07a2.35,2.35 0 1,0 4.7,0a2.35,2.35 0 1,0 -4.7,0zM544.51,126.07a2.35,2.35 0 1,0 4.7,0a2.35,2.35 0 1,0 -4.7,0zM545.66,126.07a2.35,2.35 0 1,0 4.7,0a2.35,2.35 0 1,0 -4.7,0zM546.81,126.07a2.35,2.35 0 1,0 4.7,0a2.35,2.35 0 1,0 -4.7,0zM547.96,126.07a2.35,2.35 0 1,0 4.7,0a2.35,2.35 0 1,0 -4.7,0zM549.1,126.07a2.35,2.35 0 1,0 4.7,0a2.35,2.35 0 1,0 -4.7,0zM550.25,126.07a2.35,2.35 0 1,0 4.7,0a2.35,2.35 0 1,0 -4.7,0zM551.4,126.07a2.35,2.35 0 1,0 4.7,0a2.35,2.35 0 1,0 -4.7,0zM552.55,126.07a2.35,2.35 0 1,0 4.7,0a2.35,2.35 0 1,0 -4.7,0zM553.7,126.07a2.35,2.35 0 1,0 4.7,0a2.35,2.35 0 1,0 -4.7,0zM554.84,126.07a2.35,2.35 0 1,0 4.7,0a2.35,2.35 0 1,0 -4.7,0zM555.99,126.07a2.35,2.35 0 1,0 4.7,0a2.35,2.35 0 1,0 -4.7,0zM557.14,126.07a2.35,2.35 0 1,0 4.7,0a2.35,2.35 0 1,0 -4.7,0zM558.29,126.07a2.35,2.35 0 1,0 4.7,0a2.35,2.35 0 1,0 -4.7,0zM559.44,126.07a2.35,2.35 0 1,0 4.7,0a2.35,2.35 0 1,0 -4.7,0zM560.58,126.07a2.35,2.35 0 1,0 4.7,0a2.35,2.35 0 1,0 -4.7,0zM561.73,126.07a2.35,2.35 0 1,0 4.7,0a2.35,2.35 0 1,0 -4.7,0zM562.88,126.07a2.35,2.35 0 1,0 4.7,0a2.35,2.35 0 1,0 -4.7,0zM564.03,126.07a2.35,2.35 0 1,0 4.7,0a2.35,2.35 0 1,0 -4.7,0zM565.17,126.07a2.35,2.35 0 1,0 4.7,0a2.35,2.35 0 1,0 -4.7,0zM566.32,126.07a2.35,2.35 0 1,0 4.7,0a2.35,2.35 0 1,0 -4.7,0zM567.47,126.07a2.35,2.35 0 1,0 4.7,0a2.35,2.35 0 1,0 -4.7,0zM568.62,126.07a2.35,2.35 0 1,0 4.7,0a2.35,2.35 0 1,0 -4.7,0zM569.77,126.07a2.35,2.35 0 1,0 4.7,0a2.35,2.35 0 1,0 -4.7,0zM570.91,126.07a2.35,2.35 0 1,0 4.7,0a2.35,2.35 0 1,0 -4.7,0zM572.06,126.07a2.35,2.35 0 1,0 4.7,0a2.35,2.35 0 1,0 -4.7,0zM573.21,126.07a2.35,2.35 0 1,0 4.7,0a2.35,2.35 0 1,0 -4.7,0zM574.36,126.07a2.35,2.35 0 1,0 4.7,0a2.35,2.35 0 1,0 -4.7,0zM575.51,126.07a2.35,2.35 0 1,0 4.7,0a2.35,2.35 0 1,0 -4.7,0zM576.65,126.07a2.35,2.35 0 1,0 4.7,0a2.35,2.35 0 1,0 -4.7,0zM577.8,126.07a2.35,2.35 0 1,0 4.7,0a2.35,2.35 0 1,0 -4.7,0zM578.95,126.07a2.35,2.35 0 1,0 4.7,0a2.35,2.35 0 1,0 -4.7,0zM580.1,126.07a2.35,2.35 0 1,0 4.7,0a2.35,2.35 0 1,0 -4.7,0zM581.25,126.07a2.35,2.35 0 1,0 4.7,0a2.35,2.35 0 1,0 -4.7,0zM582.39,126.07a2.35,2.35 0 1,0 4.7,0a2.35,2.35 0 1,0 -4.7,0zM583.54,126.07a2.35,2.35 0 1,0 4.7,0a2.35,2.35 0 1,0 -4.7,0zM584.69,126.07a2.35,2.35 0 1,0 4.7,0a2.35,2.35 0 1,0 -4.7,0zM585.84,126.07a2.35,2.35 0 1,0 4.7,0a2.35,2.35 0 1,0 -4.7,0zM586.98,126.07a2.35,2.35 0 1,0 4.7,0a2.35,2.35 0 1,0 -4.7,0zM588.13,126.07a2.35,2.35 0 1,0 4.7,0a2.35,2.35 0 1,0 -4.7,0zM589.28,126.07a2.35,2.35 0 1,0 4.7,0a2.35,2.35 0 1,0 -4.7,0zM590.43,126.07a2.35,2.35 0 1,0 4.7,0a2.35,2.35 0 1,0 -4.7,0zM591.58,126.07a2.35,2.35 0 1,0 4.7,0a2.35,2.35 0 1,0 -4.7,0zM592.72,126.07a2.35,2.35 0 1,0 4.7,0a2.35,2.35 0 1,0 -4.7,0zM593.87,126.07a2.35,2.35 0 1,0 4.7,0a2.35,2.35 0 1,0 -4.7,0zM595.02,126.07a2.35,2.35 0 1,0 4.7,0a2.35,2.35 0 1,0 -4.7,0zM596.17,126.07a2.35,2.35 0 1,0 4.7,0a2.35,2.35 0 1,0 -4.7,0zM597.32,126.07a2.35,2.35 0 1,0 4.7,0a2.35,2.35 0 1,0 -4.7,0zM598.46,126.07a2.35,2.35 0 1,0 4.7,0a2.35,2.35 0 1,0 -4.7,0zM599.61,126.07a2.35,2.35 0 1,0 4.7,0a2.35,2.35 0 1,0 -4.7,0zM600.76,126.07a2.35,2.35 0 1,0 4.7,0a2.35,2.35 0 1,0 -4.7,0zM601.91,126.07a2.35,2.35 0 1,0 4.7,0a2.35,2.35 0 1,0 -4.7,0zM603.06,126.07a2.35,2.35 0 1,0 4.7,0a2.35,2.35 0 1,0 -4.7,0zM604.2,126.07a2.35,2.35 0 1,0 4.7,0a2.35,2.35 0 1,0 -4.7,0zM605.35,126.07a2.35,2.35 0 1,0 4.7,0a2.35,2.35 0 1,0 -4.7,0zM606.5,126.07a2.35,2.35 0 1,0 4.7,0a2.35,2.35 0 1,0 -4.7,0zM607.65,126.07a2.35,2.35 0 1,0 4.7,0a2.35,2.35 0 1,0 -4.7,0zM608.79,126.07a2.35,2.35 0 1,0 4.7,0a2.35,2.35 0 1,0 -4.7,0zM609.94,126.07a2.35,2.35 0 1,0 4.7,0a2.35,2.35 0 1,0 -4.7,0zM611.09,126.07a2.35,2.35 0 1,0 4.7,0a2.35,2.35 0 1,0 -4.7,0zM612.24,126.07a2.35,2.35 0 1,0 4.7,0a2.35,2.35 0 1,0 -4.7,0zM613.39,126.07a2.35,2.35 0 1,0 4.7,0a2.35,2.35 0 1,0 -4.7,0zM614.53,126.07a2.35,2.35 0 1,0 4.7,0a2.35,2.35 0 1,0 -4.7,0zM615.68,126.07a2.35,2.35 0 1,0 4.7,0a2.35,2.35 0 1,0 -4.7,0zM616.83,126.07a2.35,2.35 0 1,0 4.7,0a2.35,2.35 0 1,0 -4.7,0zM617.98,126.07a2.35,2.35 0 1,0 4.7,0a2.35,2.35 0 1,0 -4.7,0zM619.13,126.07a2.35,2.35 0 1,0 4.7,0a2.35,2.35 0 1,0 -4.7,0zM620.27,126.07a2.35,2.35 0 1,0 4.7,0a2.35,2.35 0 1,0 -4.7,0zM621.42,126.07a2.35,2.35 0 1,0 4.7,0a2.35,2.35 0 1,0 -4.7,0zM622.57,126.07a2.35,2.35 0 1,0 4.7,0a2.35,2.35 0 1,0 -4.7,0zM623.72,126.07a2.35,2.35 0 1,0 4.7,0a2.35,2.35 0 1,0 -4.7,0zM624.87,126.07a2.35,2.35 0 1,0 4.7,0a2.35,2.35 0 1,0 -4.7,0zM626.01,126.07a2.35,2.35 0 1,0 4.7,0a2.35,2.35 0 1,0 -4.7,0zM627.16,126.07a2.35,2.35 0 1,0 4.7,0a2.35,2.35 0 1,0 -4.7,0zM628.31,126.07a2.35,2.35 0 1,0 4.7,0a2.35,2.35 0 1,0 -4.7,0zM629.46,126.07a2.35,2.35 0 1,0 4.7,0a2.35,2.35 0 1,0 -4.7,0zM630.6,126.07a2.35,2.35 0 1,0 4.7,0a2.35,2.35 0 1,0 -4.7,0zM631.75,126.07a2.35,2.35 0 1,0 4.7,0a2.35,2.35 0 1,0 -4.7,0zM632.9,126.07a2.35,2.35 0 1,0 4.7,0a2.35,2.35 0 1,0 -4.7,0zM634.05,126.07a2.35,2.35 0 1,0 4.7,0a2.35,2.35 0 1,0 -4.7,0zM635.2,126.07a2.35,2.35 0 1,0 4.7,0a2.35,2.35 0 1,0 -4.7,0zM636.34,126.07a2.35,2.35 0 1,0 4.7,0a2.35,2.35 0 1,0 -4.7,0zM637.49,126.07a2.35,2.35 0 1,0 4.7,0a2.35,2.35 0 1,0 -4.7,0zM638.64,126.07a2.35,2.35 0 1,0 4.7,0a2.35,2.35 0 1,0 -4.7,0zM639.79,126.07a2.35,2.35 0 1,0 4.7,0a2.35,2.35 0 1,0 -4.7,0zM640.94,126.07a2.35,2.35 0 1,0 4.7,0a2.35,2.35 0 1,0 -4.7,0zM642.08,126.07a2.35,2.35 0 1,0 4.7,0a2.35,2.35 0 1,0 -4.7,0zM643.23,126.07a2.35,2.35 0 1,0 4.7,0a2.35,2.35 0 1,0 -4.7,0zM644.38,126.07a2.35,2.35 0 1,0 4.7,0a2.35,2.35 0 1,0 -4.7,0zM645.53,126.07a2.35,2.35 0 1,0 4.7,0a2.35,2.35 0 1,0 -4.7,0zM646.68,126.07a2.35,2.35 0 1,0 4.7,0a2.35,2.35 0 1,0 -4.7,0zM647.82,126.07a2.35,2.35 0 1,0 4.7,0a2.35,2.35 0 1,0 -4.7,0zM648.97,126.07a2.35,2.35 0 1,0 4.7,0a2.35,2.35 0 1,0 -4.7,0zM650.12,126.07a2.35,2.35 0 1,0 4.7,0a2.35,2.35 0 1,0 -4.7,0zM651.27,126.07a2.35,2.35 0 1,0 4.7,0a2.35,2.35 0 1,0 -4.7,0zM652.41,126.07a2.35,2.35 0 1,0 4.7,0a2.35,2.35 0 1,0 -4.7,0zM653.56,126.07a2.35,2.35 0 1,0 4.7,0a2.35,2.35 0 1,0 -4.7,0zM654.71,126.07a2.35,2.35 0 1,0 4.7,0a2.35,2.35 0 1,0 -4.7,0zM655.86,126.07a2.35,2.35 0 1,0 4.7,0a2.35,2.35 0 1,0 -4.7,0zM657.01,126.07a2.35,2.35 0 1,0 4.7,0a2.35,2.35 0 1,0 -4.7,0zM658.15,126.07a2.35,2.35 0 1,0 4.7,0a2.35,2.35 0 1,0 -4.7,0zM659.3,126.07a2.35,2.35 0 1,0 4.7,0a2.35,2.35 0 1,0 -4.7,0zM660.45,126.07a2.35,2.35 0 1,0 4.7,0a2.35,2.35 0 1,0 -4.7,0z"/>
<polyline fill="none" stroke="#0000FF" stroke-width="1.9" points="90.00,360.61 91.15,355.03 92.30,349.44 93.44,343.86 94.59,338.27 95.74,332.69 96.89,327.10 98.04,321.52 99.18,315.94 100.33,310.35 101.48,304.77 102.63,299.18 103.77,293.60 104.92,288.01 106.07,282.43 107.22,276.85 108.37,271.26 109.51,265.68 110.66,260.09 111.81,254.51 112.96,248.92 114.11,243.34 115.25,237.76 116.40,232.17 117.55,226.59 118.70,221.00 119.85,215.42 120.99,209.83 122.14,204.25 123.29,198.67 124.44,193.08 125.58,187.50 126.73,181.91 127.88,176.33 129.03,170.74 130.18,165.16 131.32,159.58 132.47,153.99 133.62,148.41 134.77,142.82 135.92,137.24 137.06,131.65 138.21,126.07 139.36,120.49 140.51,114.90 141.66,109.32 142.80,103.73 143.95,98.15 145.10,92.56 146.25,86.98 147.39,86.98 148.54,86.98 149.69,86.98 150.84,86.98 151.99,86.98 153.13,86.98 154.28,86.98 155.43,86.98 156.58,86.98 157.73,86.98 158.87,86.98 160.02,86.98 161.17,86.98 162.32,86.98 163.47,86.98 164.61,86.98 165.76,86.98 166.91,86.98 168.06,86.98 169.20,86.98 170.35,86.98 171.50,86.98 172.65,86.98 173.80,86.98 174.94,86.98 176.09,86.98 177.24,86.98 178.39,86.98 179.54,86.98 180.68,86.98 181.83,86.98 182.98,86.98 184.13,86.98 185.28,86.98 186.42,86.98 187.57,86.98 188.72,86.98 189.87,86.98 191.01,86.98 192.16,86.98 193.31,86.98 194.46,86.98 195.61,86.98 196.75,86.98 197.90,86.98 199.05,86.98 200.20,86.98 201.35,86.98 202.49,86.98 203.64,86.98 204.79,86.98 205.94,86.98 207.09,86.98 208.23,86.98 209.38,86.98 210.53,86.98 211.68,86.98 212.82,86.98 213.97,86.98 215.12,86.98 216.27,86.98 217.42,86.98 218.56,86.98 219.71,86.98 220.86,86.98 222.01,86.98 223.16,86.98 224.30,86.98 225.45,86.98 226.60,86.98 227.75,86.98 228.90,86.98 230.04,86.98 231.19,86.98 232.34,86.98 233.49,86.98 234.63,86.98 235.78,86.98 236.93,86.98 238.08,86.98 239.23,86.98 240.37,86.98 241.52,86.98 242.67,86.98 243.82,86.98 244.97,86.98 246.11,86.98 247.26,86.98 248.41,86.98 249.56,86.98 250.71,86.98 251.85,86.98 253.00,86.98 254.15,86.98 255.30,86.98 256.44,86.98 257.59,86.98 258.74,86.98 259.89,86.98 261.04,86.98 262.18,86.98 263.33,86.98 264.48,86.98 265.63,86.98 266.78,86.98 267.92,86.98 269.07,86.98 270.22,86.98 271.37,86.98 272.52,86.98 273.66,86.98 274.81,86.98 275.96,86.98 277.11,86.98 278.25,86.98 279.40,86.98 280.55,86.98 281.70,86.98 282.85,86.98 283.99,86.98 285.14,86.98 286.29,86.98 287.44,86.98 288.59,86.98 289.73,86.98 290.88,86.98 292.03,86.98 293.18,86.98 294.33,86.98 295.47,86.98 296.62,86.98 297.77,86.98 298.92,86.98 300.06,86.98 301.21,86.98 302.36,86.98 303.51,86.98 304.66,86.98 305.80,86.98 306.95,86.98 308.10,86.98 309.25,86.98 310.40,86.98 311.54,86.98 312.69,86.98 313.84,86.98 314.99,86.98 316.14,86.98 317.28,86.98 318.43,86.98 319.58,86.98 320.73,86.98 321.87,86.98 323.02,86.98 324.17,86.98 325.32,86.98 326.47,86.98 327.61,86.98 328.76,86.98 329.91,86.98 331.06,86.98 332.21,86.98 333.35,86.98 334.50,86.98 335.65,86.98 336.80,86.98 337.95,86.98 339.09,86.98 340.24,86.98 341.39,86.98 342.54,86.98 343.68,86.98 344.83,86.98 345.98,86.98 347.13,86.98 348.28,86.98 349.42,86.98 350.57,86.98 351.72,86.98 352.87,86.98 354.02,86.98 355.16,86.98 356.31,86.98 357.46,86.98 358.61,86.98 359.76,86.98 360.90,86.98 362.05,86.98 363.20,86.98 364.35,86.98 365.49,86.98 366.64,86.98 367.79,86.98 368.94,86.98 370.09,86.98 371.23,86.98 372.38,86.98 373.53,86.98 374.68,86.98 375.83,86.98 376.97,86.98 378.12,86.98 379.27,86.98 380.42,86.98 381.57,86.98 382.71,86.98 383.86,86.98 385.01,86.98 386.16,86.98 387.31,86.98 388.45,86.98 389.60,86.98 390.75,86.98 391.90,86.98 393.04,86.98 394.19,86.98 395.34,86.98 396.49,86.98 397.64,86.98 398.78,86.98 399.93,86.98 401.08,86.98 402.23,86.98 403.38,86.98 404.52,86.98 405.67,86.98 406.82,86.98 407.97,86.98 409.12,86.98 410.26,86.98 411.41,86.98 412.56,86.98 413.71,86.98 414.85,86.98 416.00,86.98 417.15,86.98 418.30,86.98 419.45,86.98 420.59,86.98 421.74,86.98 422.89,86.98 424.04,86.98 425.19,86.98 426.33,86.98 427.48,86.98 428.63,86.98 429.78,86.98 430.93,86.98 432.07,86.98 433.22,86.98 434.37,86.98 435.52,86.98 436.66,86.98 437.81,86.98 438.96,86.98 440.11,86.98 441.26,86.98 442.40,86.98 443.55,86.98 444.70,86.98 445.85,86.98 447.00,86.98 448.14,86.98 449.29,86.98 450.44,86.98 451.59,86.98 452.74,86.98 453.88,86.98 455.03,86.98 456.18,86.98 457.33,86.98 458.47,86.98 459.62,86.98 460.77,86.98 461.92,86.98 463.07,86.98 464.21,86.98 465.36,86.98 466.51,86.98 467.66,86.98 468.81,86.98 469.95,86.98 471.10,86.98 472.25,86.98 473.40,86.98 474.55,86.98 475.69,86.98 476.84,86.98 477.99,86.98 479.14,86.98 480.28,86.98 481.43,86.98 482.58,86.98 483.73,86.98 484.88,86.98 486.02,86.98 487.17,86.98 488.32,86.98 489.47,86.98 490.62,86.98 491.76,86.98 492.91,86.98 494.06,86.98 495.21,86.98 496.36,86.98 497.50,86.98 498.65,86.98 499.80,86.98 500.95,86.98 502.09,86.98 503.24,86.98 504.39,86.98 505.54,86.98 506.69,86.98 507.83,86.98 508.98,86.98 510.13,86.98 511.28,86.98 512.43,86.98 513.57,86.98 514.72,86.98 515.87,86.98 517.02,86.98 518.17,86.98 519.31,86.98 520.46,86.98 521.61,86.98 522.76,86.98 523.90,86.98 525.05,86.98 526.20,86.98 527.35,86.98 528.50,86.98 529.64,86.98 530.79,86.98 531.94,86.98 533.09,86.98 534.24,86.98 535.38,86.98 536.53,86.98 537.68,86.98 538.83,86.98 539.98,86.98 541.12,86.98 542.27,86.98 543.42,86.98 544.57,86.98 545.71,86.98 546.86,86.98 548.01,86.98 549.16,86.98 550.31,86.98 551.45,86.98 552.60,86.98 553.75,86.98 554.90,86.98 556.05,86.98 557.19,86.98 558.34,86.98 559.49,86.98 560.64,86.98 561.79,86.98 562.93,86.98 564.08,86.98 565.23,86.98 566.38,86.98 567.52,86.98 568.67,86.98 569.82,86.98 570.97,86.98 572.12,86.98 573.26,86.98 574.41,86.98 575.56,86.98 576.71,86.98 577.86,86.98 579.00,86.98 580.15,86.98 581.30,86.98 582.45,86.98 583.60,86.98 584.74,86.98 585.89,86.98 587.04,86.98 588.19,86.98 589.33,86.98 590.48,86.98 591.63,86.98 592.78,86.98 593.93,86.98 595.07,86.98 596.22,86.98 597.37,86.98 598.52,86.98 599.67,86.98 600.81,86.98 601.96,86.98 603.11,86.98 604.26,86.98 605.41,86.98 606.55,86.98 607.70,86.98 608.85,86.98 610.00,86.98 611.14,86.98 612.29,86.98 613.44,86.98 614.59,86.98 615.74,86.98 616.88,86.98 618.03,86.98 619.18,86.98 620.33,86.98 621.48,86.98 622.62,86.98 623.77,86.98 624.92,86.98 626.07,86.98 627.22,86.98 628.36,86.98 629.51,86.98 630.66,86.98 631.81,86.98 632.95,86.98 634.10,86.98 635.25,86.98 636.40,86.98 637.55,86.98 638.69,86.98 639.84,86.98 640.99,86.98 642.14,86.98 643.29,86.98 644.43,86.98 645.58,86.98 646.73,86.98 647.88,86.98 649.03,86.98 650.17,86.98 651.32,86.98 652.47,86.98 653.62,86.98 654.76,86.98 655.91,86.98 657.06,86.98 658.21,86.98 659.36,86.98 660.50,86.98 661.65,86.98 662.80,86.98"/>
<path fill="#0000FF" d="M87.7,358.31h4.6v4.6h-4.6zM88.85,352.73h4.6v4.6h-4.6zM90,347.14h4.6v4.6h-4.6zM91.14,341.56h4.6v4.6h-4.6zM92.29,335.97h4.6v4.6h-4.6zM93.44,330.39h4.6v4.6h-4.6zM94.59,324.8h4.6v4.6h-4.6zM95.74,319.22h4.6v4.6h-4.6zM96.88,313.64h4.6v4.6h-4.6zM98.03,308.05h4.6v4.6h-4.6zM99.18,302.47h4.6v4.6h-4.6zM100.33,296.88h4.6v4.6h-4.6zM101.47,291.3h4.6v4.6h-4.6zM102.62,285.71h4.6v4.6h-4.6zM103.77,280.13h4.6v4.6h-4.6zM104.92,274.55h4.6v4.6h-4.6zM106.07,268.96h4.6v4.6h-4.6zM107.21,263.38h4.6v4.6h-4.6zM108.36,257.79h4.6v4.6h-4.6zM109.51,252.21h4.6v4.6h-4.6zM110.66,246.62h4.6v4.6h-4.6zM111.81,241.04h4.6v4.6h-4.6zM112.95,235.46h4.6v4.6h-4.6zM114.1,229.87h4.6v4.6h-4.6zM115.25,224.29h4.6v4.6h-4.6zM116.4,218.7h4.6v4.6h-4.6zM117.55,213.12h4.6v4.6h-4.6zM118.69,207.53h4.6v4.6h-4.6zM119.84,201.95h4.6v4.6h-4.6zM120.99,196.37h4.6v4.6h-4.6zM122.14,190.78h4.6v4.6h-4.6zM123.28,185.2h4.6v4.6h-4.6zM124.43,179.61h4.6v4.6h-4.6zM125.58,174.03h4.6v4.6h-4.6zM126.73,168.44h4.6v4.6h-4.6zM127.88,162.86h4.6v4.6h-4.6zM129.02,157.28h4.6v4.6h-4.6zM130.17,151.69h4.6v4.6h-4.6zM131.32,146.11h4.6v4.6h-4.6zM132.47,140.52h4.6v4.6h-4.6zM133.62,134.94h4.6v4.6h-4.6zM134.76,129.35h4.6v4.6h-4.6zM135.91,123.77h4.6v4.6h-4.6zM137.06,118.19h4.6v4.6h-4.6zM138.21,112.6h4.6v4.6h-4.6zM139.36,107.02h4.6v4.6h-4.6zM140.5,101.43h4.6v4.6h-4.6zM141.65,95.85h4.6v4.6h-4.6zM142.8,90.26h4.6v4.6h-4.6zM143.95,84.68h4.6v4.6h-4.6zM145.09,84.68h4.6v4.6h-4.6zM146.24,84.68h4.6v4.6h-4.6zM147.39,84.68h4.6v4.6h-4.6zM148.54,84.68h4.6v4.6h-4.6zM149.69,84.68h4.6v4.6h-4.6zM150.83,84.68h4.6v4.6h-4.6zM151.98,84.68h4.6v4.6h-4.6zM153.13,84.68h4.6v4.6h-4.6zM154.28,84.68h4.6v4.6h-4.6zM155.43,84.68h4.6v4.6h-4.6zM156.57,84.68h4.6v4.6h-4.6zM157.72,84.68h4.6v4.6h-4.6zM158.87,84.68h4.6v4.6h-4.6zM160.02,84.68h4.6v4.6h-4.6zM161.17,84.68h4.6v4.6h-4.6zM162.31,84.68h4.6v4.6h-4.6zM163.46,84.68h4.6v4.6h-4.6zM164.61,84.68h4.6v4.6h-4.6zM165.76,84.68h4.6v4.6h-4.6zM166.9,84.68h4.6v4.6h-4.6zM168.05,84.68h4.6v4.6h-4.6zM169.2,84.68h4.6v4.6h-4.6zM170.35,84.68h4.6v4.6h-4.6zM171.5,84.68h4.6v4.6h-4.6zM172.64,84.68h4.6v4.6h-4.6zM173.79,84.68h4.6v4.6h-4.6zM174.94,84.68h4.6v4.6h-4.6zM176.09,84.68h4.6v4.6h-4.6zM177.24,84.68h4.6v4.6h-4.6zM178.38,84.68h4.6v4.6h-4.6zM179.53,84.68h4.6v4.6h-4.6zM180.68,84.68h4.6v4.6h-4.6zM181.83,84.68h4.6v4.6h-4.6zM182.98,84.68h4.6v4.6h-4.6zM184.12,84.68h4.6v4.6h-4.6zM185.27,84.68h4.6v4.6h-4.6zM186.42,84.68h4.6v4.6h-4.6zM187.57,84.68h4.6v4.6h-4.6zM188.71,84.68h4.6v4.6h-4.6zM189.86,84.68h4.6v4.6h-4.6zM191.01,84.68h4.6v4.6h-4.6zM192.16,84.68h4.6v4.6h-4.6zM193.31,84.68h4.6v4.6h-4.6zM194.45,84.68h4.6v4.6h-4.6zM195.6,84.68h4.6v4.6h-4.6zM196.75,84.68h4.6v4.6h-4.6zM197.9,84.68h4.6v4.6h-4.6zM199.05,84.68h4.6v4.6h-4.6zM200.19,84.68h4.6v4.6h-4.6zM201.34,84.68h4.6v4.6h-4.6zM202.49,84.68h4.6v4.6h-4.6zM203.64,84.68h4.6v4.6h-4.6zM204.79,84.68h4.6v4.6h-4.6zM205.93,84.68h4.6v4.6h-4.6zM207.08,84.68h4.6v4.6h-4.6zM208.23,84.68h4.6v4.6h-4.6zM209.38,84.68h4.6v4.6h-4.6zM210.52,84.68h4.6v4.6h-4.6zM211.67,84.68h4.6v4.6h-4.6zM212.82,84.68h4.6v4.6h-4.6zM213.97,84.68h4.6v4.6h-4.6zM215.12,84.68h4.6v4.6h-4.6zM216.26,84.68h4.6v4.6h-4.6zM217.41,84.68h4.6v4.6h-4.6zM218.56,84.68h4.6v4.6h-4.6zM219.71,84.68h4.6v4.6h-4.6zM220.86,84.68h4.6v4.6h-4.6zM222,84.68h4.6v4.6h-4.6zM223.15,84.68h4.6v4.6h-4.6zM224.3,84.68h4.6v4.6h-4.6zM225.45,84.68h4.6v4.6h-4.6zM226.6,84.68h4.6v4.6h-4.6zM227.74,84.68h4.6v4.6h-4.6zM228.89,84.68h4.6v4.6h-4.6zM230.04,84.68h4.6v4.6h-4.6zM231.19,84.68h4.6v4.6h-4.6zM232.33,84.68h4.6v4.6h-4.6zM233.48,84.68h4.6v4.6h-4.6zM234.63,84.68h4.6v4.6h-4.6zM235.78,84.68h4.6v4.6h-4.6zM236.93,84.68h4.6v4.6h-4.6zM238.07,84.68h4.6v4.6h-4.6zM239.22,84.68h4.6v4.6h-4.6zM240.37,84.68h4.6v4.6h-4.6zM241.52,84.68h4.6v4.6h-4.6zM242.67,84.68h4.6v4.6h-4.6zM243.81,84.68h4.6v4.6h-4.6zM244.96,84.68h4.6v4.6h-4.6zM246.11,84.68h4.6v4.6h-4.6zM247.26,84.68h4.6v4.6h-4.6zM248.41,84.68h4.6v4.6h-4.6zM249.55,84.68h4.6v4.6h-4.6zM250.7,84.68h4.6v4.6h-4.6zM251.85,84.68h4.6v4.6h-4.6zM253,84.68h4.6v4.6h-4.6zM254.14,84.68h4.6v4.6h-4.6zM255.29,84.68h4.6v4.6h-4.6zM256.44,84.68h4.6v4.6h-4.6zM257.59,84.68h4.6v4.6h-4.6zM258.74,84.68h4.6v4.6h-4.6zM259.88,84.68h4.6v4.6h-4.6zM261.03,84.68h4.6v4.6h-4.6zM262.18,84.68h4.6v4.6h-4.6zM263.33,84.68h4.6v4.6h-4.6zM264.48,84.68h4.6v4.6h-4.6zM265.62,84.68h4.6v4.6h-4.6zM266.77,84.68h4.6v4.6h-4.6zM267.92,84.68h4.6v4.6h-4.6zM269.07,84.68h4.6v4.6h-4.6zM270.22,84.68h4.6v4.6h-4.6zM271.36,84.68h4.6v4.6h-4.6zM272.51,84.68h4.6v4.6h-4.6zM273.66,84.68h4.6v4.6h-4.6zM274.81,84.68h4.6v4.6h-4.6zM275.95,84.68h4.6v4.6h-4.6zM277.1,84.68h4.6v4.6h-4.6zM278.25,84.68h4.6v4.6h-4.6zM279.4,84.68h4.6v4.6h-4.6zM280.55,84.68h4.6v4.6h-4.6zM281.69,84.68h4.6v4.6h-4.6zM282.84,84.68h4.6v4.6h-4.6zM283.99,84.68h4.6v4.6h-4.6zM285.14,84.68h4.6v4.6h-4.6zM286.29,84.68h4.6v4.6h-4.6zM287.43,84.68h4.6v4.6h-4.6zM288.58,84.68h4.6v4.6h-4.6zM289.73,84.68h4.6v4.6h-4.6zM290.88,84.68h4.6v4.6h-4.6zM292.03,84.68h4.6v4.6h-4.6zM293.17,84.68h4.6v4.6h-4.6zM294.32,84.68h4.6v4.6h-4.6zM295.47,84.68h4.6v4.6h-4.6zM296.62,84.68h4.6v4.6h-4.6zM297.76,84.68h4.6v4.6h-4.6zM298.91,84.68h4.6v4.6h-4.6zM300.06,84.68h4.6v4.6h-4.6zM301.21,84.68h4.6v4.6h-4.6zM302.36,84.68h4.6v4.6h-4.6zM303.5,84.68h4.6v4.6h-4.6zM304.65,84.68h4.6v4.6h-4.6zM305.8,84.68h4.6v4.6h-4.6zM306.95,84.68h4.6v4.6h-4.6zM308.1,84.68h4.6v4.6h-4.6zM309.24,84.68h4.6v4.6h-4.6zM310.39,84.68h4.6v4.6h-4.6zM311.54,84.68h4.6v4.6h-4.6zM312.69,84.68h4.6v4.6h-4.6zM313.84,84.68h4.6v4.6h-4.6zM314.98,84.68h4.6v4.6h-4.6zM316.13,84.68h4.6v4.6h-4.6zM317.28,84.68h4.6v4.6h-4.6zM318.43,84.68h4.6v4.6h-4.6zM319.57,84.68h4.6v4.6h-4.6zM320.72,84.68h4.6v4.6h-4.6zM321.87,84.68h4.6v4.6h-4.6zM323.02,84.68h4.6v4.6h-4.6zM324.17,84.68h4.6v4.6h-4.6zM325.31,84.68h4.6v4.6h-4.6zM326.46,84.68h4.6v4.6h-4.6zM327.61,84.68h4.6v4.6h-4.6zM328.76,84.68h4.6v4.6h-4.6zM329.91,84.68h4.6v4.6h-4.6zM331.05,84.68h4.6v4.6h-4.6zM332.2,84.68h4.6v4.6h-4.6zM333.35,84.68h4.6v4.6h-4.6zM334.5,84.68h4.6v4.6h-4.6zM335.65,84.68h4.6v4.6h-4.6zM336.79,84.68h4.6v4.6h-4.6zM337.94,84.68h4.6v4.6h-4.6zM339.09,84.68h4.6v4.6h-4.6zM340.24,84.68h4.6v4.6h-4.6zM341.38,84.68h4.6v4.6h-4.6zM342.53,84.68h4.6v4.6h-4.6zM343.68,84.68h4.6v4.6h-4.6zM344.83,84.68h4.6v4.6h-4.6zM345.98,84.68h4.6v4.6h-4.6zM347.12,84.68h4.6v4.6h-4.6zM348.27,84.68h4.6v4.6h-4.6zM349.42,84.68h4.6v4.6h-4.6zM350.57,84.68h4.6v4.6h-4.6zM351.72,84.68h4.6v4.6h-4.6zM352.86,84.68h4.6v4.6h-4.6zM354.01,84.68h4.6v4.6h-4.6zM355.16,84.68h4.6v4.6h-4.6zM356.31,84.68h4.6v4.6h-4.6zM357.46,84.68h4.6v4.6h-4.6zM358.6,84.68h4.6v4.6h-4.6zM359.75,84.68h4.6v4.6h-4.6zM360.9,84.68h4.6v4.6h-4.6zM362.05,84.68h4.6v4.6h-4.6zM363.19,84.68h4.6v4.6h-4.6zM364.34,84.68h4.6v4.6h-4.6zM365.49,84.68h4.6v4.6h-4.6zM366.64,84.68h4.6v4.6h-4.6zM367.79,84.68h4.6v4.6h-4.6zM368.93,84.68h4.6v4.6h-4.6zM370.08,84.68h4.6v4.6h-4.6zM371.23,84.68h4.6v4.6h-4.6zM372.38,84.68h4.6v4.6h-4.6zM373.53,84.68h4.6v4.6h-4.6zM374.67,84.68h4.6v4.6h-4.6zM375.82,84.68h4.6v4.6h-4.6zM376.97,84.68h4.6v4.6h-4.6zM378.12,84.68h4.6v4.6h-4.6zM379.27,84.68h4.6v4.6h-4.6zM380.41,84.68h4.6v4.6h-4.6zM381.56,84.68h4.6v4.6h-4.6zM382.71,84.68h4.6v4.6h-4.6zM383.86,84.68h4.6v4.6h-4.6zM385.01,84.68h4.6v4.6h-4.6zM386.15,84.68h4.6v4.6h-4.6zM387.3,84.68h4.6v4.6h-4.6zM388.45,84.68h4.6v4.6h-4.6zM389.6,84.68h4.6v4.6h-4.6zM390.74,84.68h4.6v4.6h-4.6zM391.89,84.68h4.6v4.6h-4.6zM393.04,84.68h4.6v4.6h-4.6zM394.19,84.68h4.6v4.6h-4.6zM395.34,84.68h4.6v4.6h-4.6zM396.48,84.68h4.6v4.6h-4.6zM397.63,84.68h4.6v4.6h-4.6zM398.78,84.68h4.6v4.6h-4.6zM399.93,84.68h4.6v4.6h-4.6zM401.08,84.68h4.6v4.6h-4.6zM402.22,84.68h4.6v4.6h-4.6zM403.37,84.68h4.6v4.6h-4.6zM404.52,84.68h4.6v4.6h-4.6zM405.67,84.68h4.6v4.6h-4.6zM406.82,84.68h4.6v4.6h-4.6zM407.96,84.68h4.6v4.6h-4.6zM409.11,84.68h4.6v4.6h-4.6zM410.26,84.68h4.6v4.6h-4.6zM411.41,84.68h4.6v4.6h-4.6zM412.55,84.68h4.6v4.6h-4.6zM413.7,84.68h4.6v4.6h-4.6zM414.85,84.68h4.6v4.6h-4.6zM416,84.68h4.6v4.6h-4.6zM417.15,84.68h4.6v4.6h-4.6zM418.29,84.68h4.6v4.6h-4.6zM419.44,84.68h4.6v4.6h-4.6zM420.59,84.68h4.6v4.6h-4.6zM421.74,84.68h4.6v4.6h-4.6zM422.89,84.68h4.6v4.6h-4.6zM424.03,84.68h4.6v4.6h-4.6zM425.18,84.68h4.6v4.6h-4.6zM426.33,84.68h4.6v4.6h-4.6zM427.48,84.68h4.6v4.6h-4.6zM428.63,84.68h4.6v4.6h-4.6zM429.77,84.68h4.6v4.6h-4.6zM430.92,84.68h4.6v4.6h-4.6zM432.07,84.68h4.6v4.6h-4.6zM433.22,84.68h4.6v4.6h-4.6zM434.36,84.68h4.6v4.6h-4.6zM435.51,84.68h4.6v4.6h-4.6zM436.66,84.68h4.6v4.6h-4.6zM437.81,84.68h4.6v4.6h-4.6zM438.96,84.68h4.6v4.6h-4.6zM440.1,84.68h4.6v4.6h-4.6zM441.25,84.68h4.6v4.6h-4.6zM442.4,84.68h4.6v4.6h-4.6zM443.55,84.68h4.6v4.6h-4.6zM444.7,84.68h4.6v4.6h-4.6zM445.84,84.68h4.6v4.6h-4.6zM446.99,84.68h4.6v4.6h-4.6zM448.14,84.68h4.6v4.6h-4.6zM449.29,84.68h4.6v4.6h-4.6zM450.44,84.68h4.6v4.6h-4.6zM451.58,84.68h4.6v4.6h-4.6zM452.73,84.68h4.6v4.6h-4.6zM453.88,84.68h4.6v4.6h-4.6zM455.03,84.68h4.6v4.6h-4.6zM456.17,84.68h4.6v4.6h-4.6zM457.32,84.68h4.6v4.6h-4.6zM458.47,84.68h4.6v4.6h-4.6zM459.62,84.68h4.6v4.6h-4.6zM460.77,84.68h4.6v4.6h-4.6zM461.91,84.68h4.6v4.6h-4.6zM463.06,84.68h4.6v4.6h-4.6zM464.21,84.68h4.6v4.6h-4.6zM465.36,84.68h4.6v4.6h-4.6zM466.51,84.68h4.6v4.6h-4.6zM467.65,84.68h4.6v4.6h-4.6zM468.8,84.68h4.6v4.6h-4.6zM469.95,84.68h4.6v4.6h-4.6zM471.1,84.68h4.6v4.6h-4.6zM472.25,84.68h4.6v4.6h-4.6zM473.39,84.68h4.6v4.6h-4.6zM474.54,84.68h4.6v4.6h-4.6zM475.69,84.68h4.6v4.6h-4.6zM476.84,84.68h4.6v4.6h-4.6zM477.98,84.68h4.6v4.6h-4.6zM479.13,84.68h4.6v4.6h-4.6zM480.28,84.68h4.6v4.6h-4.6zM481.43,84.68h4.6v4.6h-4.6zM482.58,84.68h4.6v4.6h-4.6zM483.72,84.68h4.6v4.6h-4.6zM484.87,84.68h4.6v4.6h-4.6zM486.02,84.68h4.6v4.6h-4.6zM487.17,84.68h4.6v4.6h-4.6zM488.32,84.68h4.6v4.6h-4.6zM489.46,84.68h4.6v4.6h-4.6zM490.61,84.68h4.6v4.6h-4.6zM491.76,84.68h4.6v4.6h-4.6zM492.91,84.68h4.6v4.6h-4.6zM494.06,84.68h4.6v4.6h-4.6zM495.2,84.68h4.6v4.6h-4.6zM496.35,84.68h4.6v4.6h-4.6zM497.5,84.68h4.6v4.6h-4.6zM498.65,84.68h4.6v4.6h-4.6zM499.79,84.68h4.6v4.6h-4.6zM500.94,84.68h4.6v4.6h-4.6zM502.09,84.68h4.6v4.6h-4.6zM503.24,84.68h4.6v4.6h-4.6zM504.39,84.68h4.6v4.6h-4.6zM505.53,84.68h4.6v4.6h-4.6zM506.68,84.68h4.6v4.6h-4.6zM507.83,84.68h4.6v4.6h-4.6zM508.98,84.68h4.6v4.6h-4.6zM510.13,84.68h4.6v4.6h-4.6zM511.27,84.68h4.6v4.6h-4.6zM512.42,84.68h4.6v4.6h-4.6zM513.57,84.68h4.6v4.6h-4.6zM514.72,84.68h4.6v4.6h-4.6zM515.87,84.68h4.6v4.6h-4.6zM517.01,84.68h4.6v4.6h-4.6zM518.16,84.68h4.6v4.6h-4.6zM519.31,84.68h4.6v4.6h-4.6zM520.46,84.68h4.6v4.6h-4.6zM521.6,84.68h4.6v4.6h-4.6zM522.75,84.68h4.6v4.6h-4.6zM523.9,84.68h4.6v4.6h-4.6zM525.05,84.68h4.6v4.6h-4.6zM526.2,84.68h4.6v4.6h-4.6zM527.34,84.68h4.6v4.6h-4.6zM528.49,84.68h4.6v4.6h-4.6zM529.64,84.68h4.6v4.6h-4.6zM530.79,84.68h4.6v4.6h-4.6zM531.94,84.68h4.6v4.6h-4.6zM533.08,84.68h4.6v4.6h-4.6zM534.23,84.68h4.6v4.6h-4.6zM535.38,84.68h4.6v4.6h-4.6zM536.53,84.68h4.6v4.6h-4.6zM537.68,84.68h4.6v4.6h-4.6zM538.82,84.68h4.6v4.6h-4.6zM539.97,84.68h4.6v4.6h-4.6zM541.12,84.68h4.6v4.6h-4.6zM542.27,84.68h4.6v4.6h-4.6zM543.41,84.68h4.6v4.6h-4.6zM544.56,84.68h4.6v4.6h-4.6zM545.71,84.68h4.6v4.6h-4.6zM546.86,84.68h4.6v4.6h-4.6zM548.01,84.68h4.6v4.6h-4.6zM549.15,84.68h4.6v4.6h-4.6zM550.3,84.68h4.6v4.6h-4.6zM551.45,84.68h4.6v4.6h-4.6zM552.6,84.68h4.6v4.6h-4.6zM553.75,84.68h4.6v4.6h-4.6zM554.89,84.68h4.6v4.6h-4.6zM556.04,84.68h4.6v4.6h-4.6zM557.19,84.68h4.6v4.6h-4.6zM558.34,84.68h4.6v4.6h-4.6zM559.49,84.68h4.6v4.6h-4.6zM560.63,84.68h4.6v4.6h-4.6zM561.78,84.68h4.6v4.6h-4.6zM562.93,84.68h4.6v4.6h-4.6zM564.08,84.68h4.6v4.6h-4.6zM565.22,84.68h4.6v4.6h-4.6zM566.37,84.68h4.6v4.6h-4.6zM567.52,84.68h4.6v4.6h-4.6zM568.67,84.68h4.6v4.6h-4.6zM569.82,84.68h4.6v4.6h-4.6zM570.96,84.68h4.6v4.6h-4.6zM572.11,84.68h4.6v4.6h-4.6zM573.26,84.68h4.6v4.6h-4.6zM574.41,84.68h4.6v4.6h-4.6zM575.56,84.68h4.6v4.6h-4.6zM576.7,84.68h4.6v4.6h-4.6zM577.85,84.68h4.6v4.6h-4.6zM579,84.68h4.6v4.6h-4.6zM580.15,84.68h4.6v4.6h-4.6zM581.3,84.68h4.6v4.6h-4.6zM582.44,84.68h4.6v4.6h-4.6zM583.59,84.68h4.6v4.6h-4.6zM584.74,84.68h4.6v4.6h-4.6zM585.89,84.68h4.6v4.6h-4.6zM587.03,84.68h4.6v4.6h-4.6zM588.18,84.68h4.6v4.6h-4.6zM589.33,84.68h4.6v4.6h-4.6zM590.48,84.68h4.6v4.6h-4.6zM591.63,84.68h4.6v4.6h-4.6zM592.77,84.68h4.6v4.6h-4.6zM593.92,84.68h4.6v4.6h-4.6zM595.07,84.68h4.6v4.6h-4.6zM596.22,84.68h4.6v4.6h-4.6zM597.37,84.68h4.6v4.6h-4.6zM598.51,84.68h4.6v4.6h-4.6zM599.66,84.68h4.6v4.6h-4.6zM600.81,84.68h4.6v4.6h-4.6zM601.96,84.68h4.6v4.6h-4.6zM603.11,84.68h4.6v4.6h-4.6zM604.25,84.68h4.6v4.6h-4.6zM605.4,84.68h4.6v4.6h-4.6zM606.55,84.68h4.6v4.6h-4.6zM607.7,84.68h4.6v4.6h-4.6zM608.84,84.68h4.6v4.6h-4.6zM609.99,84.68h4.6v4.6h-4.6zM611.14,84.68h4.6v4.6h-4.6zM612.29,84.68h4.6v4.6h-4.6zM613.44,84.68h4.6v4.6h-4.6zM614.58,84.68h4.6v4.6h-4.6zM615.73,84.68h4.6v4.6h-4.6zM616.88,84.68h4.6v4.6h-4.6zM618.03,84.68h4.6v4.6h-4.6zM619.18,84.68h4.6v4.6h-4.6zM620.32,84.68h4.6v4.6h-4.6zM621.47,84.68h4.6v4.6h-4.6zM622.62,84.68h4.6v4.6h-4.6zM623.77,84.68h4.6v4.6h-4.6zM624.92,84.68h4.6v4.6h-4.6zM626.06,84.68h4.6v4.6h-4.6zM627.21,84.68h4.6v4.6h-4.6zM628.36,84.68h4.6v4.6h-4.6zM629.51,84.68h4.6v4.6h-4.6zM630.65,84.68h4.6v4.6h-4.6zM631.8,84.68h4.6v4.6h-4.6zM632.95,84.68h4.6v4.6h-4.6zM634.1,84.68h4.6v4.6h-4.6zM635.25,84.68h4.6v4.6h-4.6zM636.39,84.68h4.6v4.6h-4.6zM637.54,84.68h4.6v4.6h-4.6zM638.69,84.68h4.6v4.6h-4.6zM639.84,84.68h4.6v4.6h-4.6zM640.99,84.68h4.6v4.6h-4.6zM642.13,84.68h4.6v4.6h-4.6zM643.28,84.68h4.6v4.6h-4.6zM644.43,84.68h4.6v4.6h-4.6zM645.58,84.68h4.6v4.6h-4.6zM646.73,84.68h4.6v4.6h-4.6zM647.87,84.68h4.6v4.6h-4.6zM649.02,84.68h4.6v4.6h-4.6zM650.17,84.68h4.6v4.6h-4.6zM651.32,84.68h4.6v4.6h-4.6zM652.46,84.68h4.6v4.6h-4.6zM653.61,84.68h4.6v4.6h-4.6zM654.76,84.68h4.6v4.6h-4.6zM655.91,84.68h4.6v4.6h-4.6zM657.06,84.68h4.6v4.6h-4.6zM658.2,84.68h4.6v4.6h-4.6zM659.35,84.68h4.6v4.6h-4.6zM660.5,84.68h4.6v4.6h-4.6z"/>
<polyline fill="none" stroke="#00FF00" stroke-width="1.9" points="90.00,321.52 91.15,317.05 92.30,312.59 93.44,308.12 94.59,303.65 95.74,299.18 96.89,294.72 98.04,290.25 99.18,285.78 100.33,281.31 101.48,276.85 102.63,272.38 103.77,267.91 104.92,263.44 106.07,258.98 107.22,254.51 108.37,250.04 109.51,245.57 110.66,241.11 111.81,236.64 112.96,232.17 114.11,227.70 115.25,223.24 116.40,218.77 117.55,214.30 118.70,209.83 119.85,205.37 120.99,200.90 122.14,196.43 123.29,191.96 124.44,187.50 125.58,183.03 126.73,178.56 127.88,174.09 129.03,169.63 130.18,165.16 131.32,160.69 132.47,156.23 133.62,151.76 134.77,147.29 135.92,142.82 137.06,138.36 138.21,133.89 139.36,129.42 140.51,124.95 141.66,120.49 142.80,116.02 143.95,111.55 145.10,107.08 146.25,102.62 147.39,102.62 148.54,102.62 149.69,102.62 150.84,102.62 151.99,102.62 153.13,102.62 154.28,102.62 155.43,102.62 156.58,102.62 157.73,102.62 158.87,102.62 160.02,102.62 161.17,102.62 162.32,102.62 163.47,102.62 164.61,102.62 165.76,102.62 166.91,102.62 168.06,102.62 169.20,102.62 170.35,102.62 171.50,102.62 172.65,102.62 173.80,102.62 174.94,102.62 176.09,102.62 177.24,102.62 178.39,102.62 179.54,102.62 180.68,102.62 181.83,102.62 182.98,102.62 184.13,102.62 185.28,102.62 186.42,102.62 187.57,102.62 188.72,102.62 189.87,102.62 191.01,102.62 192.16,102.62 193.31,102.62 194.46,102.62 195.61,102.62 196.75,102.62 197.90,102.62 199.05,102.62 200.20,102.62 201.35,102.62 202.49,102.62 203.64,102.62 204.79,102.62 205.94,102.62 207.09,102.62 208.23,102.62 209.38,102.62 210.53,102.62 211.68,102.62 212.82,102.62 213.97,102.62 215.12,102.62 216.27,102.62 217.42,102.62 218.56,102.62 219.71,102.62 220.86,102.62 222.01,102.62 223.16,102.62 224.30,102.62 225.45,102.62 226.60,102.62 227.75,102.62 228.90,102.62 230.04,102.62 231.19,102.62 232.34,102.62 233.49,102.62 234.63,102.62 235.78,102.62 236.93,102.62 238.08,102.62 239.23,102.62 240.37,102.62 241.52,102.62 242.67,102.62 243.82,102.62 244.97,102.62 246.11,102.62 247.26,102.62 248.41,102.62 249.56,102.62 250.71,102.62 251.85,102.62 253.00,102.62 254.15,102.62 255.30,102.62 256.44,102.62 257.59,102.62 258.74,102.62 259.89,102.62 261.04,102.62 262.18,102.62 263.33,102.62 264.48,102.62 265.63,102.62 266.78,102.62 267.92,102.62 269.07,102.62 270.22,102.62 271.37,102.62 272.52,102.62 273.66,102.62 274.81,102.62 275.96,102.62 277.11,102.62 278.25,102.62 279.40,102.62 280.55,102.62 281.70,102.62 282.85,102.62 283.99,102.62 285.14,102.62 286.29,102.62 287.44,102.62 288.59,102.62 289.73,102.62 290.88,102.62 292.03,102.62 293.18,102.62 294.33,102.62 295.47,102.62 296.62,102.62 297.77,102.62 298.92,102.62 300.06,102.62 301.21,102.62 302.36,102.62 303.51,102.62 304.66,102.62 305.80,102.62 306.95,102.62 308.10,102.62 309.25,102.62 310.40,102.62 311.54,102.62 312.69,102.62 313.84,102.62 314.99,102.62 316.14,102.62 317.28,102.62 318.43,102.62 319.58,102.62 320.73,102.62 321.87,102.62 323.02,102.62 324.17,102.62 325.32,102.62 326.47,102.62 327.61,102.62 328.76,102.62 329.91,102.62 331.06,102.62 332.21,102.62 333.35,102.62 334.50,102.62 335.65,102.62 336.80,102.62 337.95,102.62 339.09,102.62 340.24,102.62 341.39,102.62 342.54,102.62 343.68,102.62 344.83,102.62 345.98,102.62 347.13,102.62 348.28,102.62 349.42,102.62 350.57,102.62 351.72,102.62 352.87,102.62 354.02,102.62 355.16,102.62 356.31,102.62 357.46,102.62 358.61,102.62 359.76,102.62 360.90,102.62 362.05,102.62 363.20,102.62 364.35,102.62 365.49,102.62 366.64,102.62 367.79,102.62 368.94,102.62 370.09,102.62 371.23,102.62 372.38,102.62 373.53,102.62 374.68,102.62 375.83,102.62 376.97,102.62 378.12,102.62 379.27,102.62 380.42,102.62 381.57,102.62 382.71,102.62 383.86,102.62 385.01,102.62 386.16,102.62 387.31,102.62 388.45,102.62 389.60,102.62 390.75,102.62 391.90,102.62 393.04,102.62 394.19,102.62 395.34,102.62 396.49,102.62 397.64,102.62 398.78,102.62 399.93,102.62 401.08,102.62 402.23,102.62 403.38,102.62 404.52,102.62 405.67,102.62 406.82,102.62 407.97,102.62 409.12,102.62 410.26,102.62 411.41,102.62 412.56,102.62 413.71,102.62 414.85,102.62 416.00,102.62 417.15,102.62 418.30,102.62 419.45,102.62 420.59,102.62 421.74,102.62 422.89,102.62 424.04,102.62 425.19,102.62 426.33,102.62 427.48,102.62 428.63,102.62 429.78,102.62 430.93,102.62 432.07,102.62 433.22,102.62 434.37,102.62 435.52,102.62 436.66,102.62 437.81,102.62 438.96,102.62 440.11,102.62 441.26,102.62 442.40,102.62 443.55,102.62 444.70,102.62 445.85,102.62 447.00,102.62 448.14,102.62 449.29,102.62 450.44,102.62 451.59,102.62 452.74,102.62 453.88,102.62 455.03,102.62 456.18,102.62 457.33,102.62 458.47,102.62 459.62,102.62 460.77,102.62 461.92,102.62 463.07,102.62 464.21,102.62 465.36,102.62 466.51,102.62 467.66,102.62 468.81,102.62 469.95,102.62 471.10,102.62 472.25,102.62 473.40,102.62 474.55,102.62 475.69,102.62 476.84,102.62 477.99,102.62 479.14,102.62 480.28,102.62 481.43,102.62 482.58,102.62 483.73,102.62 484.88,102.62 486.02,102.62 487.17,102.62 488.32,102.62 489.47,102.62 490.62,102.62 491.76,102.62 492.91,102.62 494.06,102.62 495.21,102.62 496.36,102.62 497.50,102.62 498.65,102.62 499.80,102.62 500.95,102.62 502.09,102.62 503.24,102.62 504.39,102.62 505.54,102.62 506.69,102.62 507.83,102.62 508.98,102.62 510.13,102.62 511.28,102.62 512.43,102.62 513.57,102.62 514.72,102.62 515.87,102.62 517.02,102.62 518.17,102.62 519.31,102.62 520.46,102.62 521.61,102.62 522.76,102.62 523.90,102.62 525.05,102.62 526.20,102.62 527.35,102.62 528.50,102.62 529.64,102.62 530.79,102.62 531.94,102.62 533.09,102.62 534.24,102.62 535.38,102.62 536.53,102.62 537.68,102.62 538.83,102.62 539.98,102.62 541.12,102.62 542.27,102.62 543.42,102.62 544.57,102.62 545.71,102.62 546.86,102.62 548.01,102.62 549.16,102.62 550.31,102.62 551.45,102.62 552.60,102.62 553.75,102.62 554.90,102.62 556.05,102.62 557.19,102.62 558.34,102.62 559.49,102.62 560.64,102.62 561.79,102.62 562.93,102.62 564.08,102.62 565.23,102.62 566.38,102.62 567.52,102.62 568.67,102.62 569.82,102.62 570.97,102.62 572.12,102.62 573.26,102.62 574.41,102.62 575.56,102.62 576.71,102.62 577.86,102.62 579.00,102.62 580.15,102.62 581.30,102.62 582.45,102.62 583.60,102.62 584.74,102.62 585.89,102.62 587.04,102.62 588.19,102.62 589.33,102.62 590.48,102.62 591.63,102.62 592.78,102.62 593.93,102.62 595.07,102.62 596.22,102.62 597.37,102.62 598.52,102.62 599.67,102.62 600.81,102.62 601.96,102.62 603.11,102.62 604.26,102.62 605.41,102.62 606.55,102.62 607.70,102.62 608.85,102.62 610.00,102.62 611.14,102.62 612.29,102.62 613.44,102.62 614.59,102.62 615.74,102.62 616.88,102.62 618.03,102.62 619.18,102.62 620.33,102.62 621.48,102.62 622.62,102.62 623.77,102.62 624.92,102.62 626.07,102.62 627.22,102.62 628.36,102.62 629.51,102.62 630.66,102.62 631.81,102.62 632.95,102.62 634.10,102.62 635.25,102.62 636.40,102.62 637.55,102.62 638.69,102.62 639.84,102.62 640.99,102.62 642.14,102.62 643.29,102.62 644.43,102.62 645.58,102.62 646.73,102.62 647.88,102.62 649.03,102.62 650.17,102.62 651.32,102.62 652.47,102.62 653.62,102.62 654.76,102.62 655.91,102.62 657.06,102.62 658.21,102.62 659.36,102.62 660.50,102.62 661.65,102.62 662.80,102.62"/>
<path fill="#00FF00" d="M90,317.12l3.4,4.4l-3.4,4.4l-3.4,-4.4zM91.15,312.65l3.4,4.4l-3.4,4.4l-3.4,-4.4zM92.3,308.19l3.4,4.4l-3.4,4.4l-3.4,-4.4zM93.44,303.72l3.4,4.4l-3.4,4.4l-3.4,-4.4zM94.59,299.25l3.4,4.4l-3.4,4.4l-3.4,-4.4zM95.74,294.78l3.4,4.4l-3.4,4.4l-3.4,-4.4zM96.89,290.32l3.4,4.4l-3.4,4.4l-3.4,-4.4zM98.04,285.85l3.4,4.4l-3.4,4.4l-3.4,-4.4zM99.18,281.38l3.4,4.4l-3.4,4.4l-3.4,-4.4zM100.33,276.91l3.4,4.4l-3.4,4.4l-3.4,-4.4zM101.48,272.45l3.4,4.4l-3.4,4.4l-3.4,-4.4zM102.63,267.98l3.4,4.4l-3.4,4.4l-3.4,-4.4zM103.77,263.51l3.4,4.4l-3.4,4.4l-3.4,-4.4zM104.92,259.04l3.4,4.4l-3.4,4.4l-3.4,-4.4zM106.07,254.58l3.4,4.4l-3.4,4.4l-3.4,-4.4zM107.22,250.11l3.4,4.4l-3.4,4.4l-3.4,-4.4zM108.37,245.64l3.4,4.4l-3.4,4.4l-3.4,-4.4zM109.51,241.17l3.4,4.4l-3.4,4.4l-3.4,-4.4zM110.66,236.71l3.4,4.4l-3.4,4.4l-3.4,-4.4zM111.81,232.24l3.4,4.4l-3.4,4.4l-3.4,-4.4zM112.96,227.77l3.4,4.4l-3.4,4.4l-3.4,-4.4zM114.11,223.3l3.4,4.4l-3.4,4.4l-3.4,-4.4zM115.25,218.84l3.4,4.4l-3.4,4.4l-3.4,-4.4zM116.4,214.37l3.4,4.4l-3.4,4.4l-3.4,-4.4zM117.55,209.9l3.4,4.4l-3.4,4.4l-3.4,-4.4zM118.7,205.43l3.4,4.4l-3.4,4.4l-3.4,-4.4zM119.85,200.97l3.4,4.4l-3.4,4.4l-3.4,-4.4zM120.99,196.5l3.4,4.4l-3.4,4.4l-3.4,-4.4zM122.14,192.03l3.4,4.4l-3.4,4.4l-3.4,-4.4zM123.29,187.56l3.4,4.4l-3.4,4.4l-3.4,-4.4zM124.44,183.1l3.4,4.4l-3.4,4.4l-3.4,-4.4zM125.58,178.63l3.4,4.4l-3.4,4.4l-3.4,-4.4zM126.73,174.16l3.4,4.4l-3.4,4.4l-3.4,-4.4zM127.88,169.69l3.4,4.4l-3.4,4.4l-3.4,-4.4zM129.03,165.23l3.4,4.4l-3.4,4.4l-3.4,-4.4zM130.18,160.76l3.4,4.4l-3.4,4.4l-3.4,-4.4zM131.32,156.29l3.4,4.4l-3.4,4.4l-3.4,-4.4zM132.47,151.83l3.4,4.4l-3.4,4.4l-3.4,-4.4zM133.62,147.36l3.4,4.4l-3.4,4.4l-3.4,-4.4zM134.77,142.89l3.4,4.4l-3.4,4.4l-3.4,-4.4zM135.92,138.42l3.4,4.4l-3.4,4.4l-3.4,-4.4zM137.06,133.96l3.4,4.4l-3.4,4.4l-3.4,-4.4zM138.21,129.49l3.4,4.4l-3.4,4.4l-3.4,-4.4zM139.36,125.02l3.4,4.4l-3.4,4.4l-3.4,-4.4zM140.51,120.55l3.4,4.4l-3.4,4.4l-3.4,-4.4zM141.66,116.09l3.4,4.4l-3.4,4.4l-3.4,-4.4zM142.8,111.62l3.4,4.4l-3.4,4.4l-3.4,-4.4zM143.95,107.15l3.4,4.4l-3.4,4.4l-3.4,-4.4zM145.1,102.68l3.4,4.4l-3.4,4.4l-3.4,-4.4zM146.25,98.22l3.4,4.4l-3.4,4.4l-3.4,-4.4zM147.39,98.22l3.4,4.4l-3.4,4.4l-3.4,-4.4zM148.54,98.22l3.4,4.4l-3.4,4.4l-3.4,-4.4zM149.69,98.22l3.4,4.4l-3.4,4.4l-3.4,-4.4zM150.84,98.22l3.4,4.4l-3.4,4.4l-3.4,-4.4zM151.99,98.22l3.4,4.4l-3.4,4.4l-3.4,-4.4zM153.13,98.22l3.4,4.4l-3.4,4.4l-3.4,-4.4zM154.28,98.22l3.4,4.4l-3.4,4.4l-3.4,-4.4zM155.43,98.22l3.4,4.4l-3.4,4.4l-3.4,-4.4zM156.58,98.22l3.4,4.4l-3.4,4.4l-3.4,-4.4zM157.73,98.22l3.4,4.4l-3.4,4.4l-3.4,-4.4zM158.87,98.22l3.4,4.4l-3.4,4.4l-3.4,-4.4zM160.02,98.22l3.4,4.4l-3.4,4.4l-3.4,-4.4zM161.17,98.22l3.4,4.4l-3.4,4.4l-3.4,-4.4zM162.32,98.22l3.4,4.4l-3.4,4.4l-3.4,-4.4zM163.47,98.22l3.4,4.4l-3.4,4.4l-3.4,-4.4zM164.61,98.22l3.4,4.4l-3.4,4.4l-3.4,-4.4zM165.76,98.22l3.4,4.4l-3.4,4.4l-3.4,-4.4zM166.91,98.22l3.4,4.4l-3.4,4.4l-3.4,-4.4zM168.06,98.22l3.4,4.4l-3.4,4.4l-3.4,-4.4zM169.2,98.22l3.4,4.4l-3.4,4.4l-3.4,-4.4zM170.35,98.22l3.4,4.4l-3.4,4.4l-3.4,-4.4zM171.5,98.22l3.4,4.4l-3.4,4.4l-3.4,-4.4zM172.65,98.22l3.4,4.4l-3.4,4.4l-3.4,-4.4zM173.8,98.22l3.4,4.4l-3.4,4.4l-3.4,-4.4zM174.94,98.22l3.4,4.4l-3.4,4.4l-3.4,-4.4zM176.09,98.22l3.4,4.4l-3.4,4.4l-3.4,-4.4zM177.24,98.22l3.4,4.4l-3.4,4.4l-3.4,-4.4zM178.39,98.22l3.4,4.4l-3.4,4.4l-3.4,-4.4zM179.54,98.22l3.4,4.4l-3.4,4.4l-3.4,-4.4zM180.68,98.22l3.4,4.4l-3.4,4.4l-3.4,-4.4zM181.83,98.22l3.4,4.4l-3.4,4.4l-3.4,-4.4zM182.98,98.22l3.4,4.4l-3.4,4.4l-3.4,-4.4zM184.13,98.22l3.4,4.4l-3.4,4.4l-3.4,-4.4zM185.28,98.22l3.4,4.4l-3.4,4.4l-3.4,-4.4zM186.42,98.22l3.4,4.4l-3.4,4.4l-3.4,-4.4zM187.57,98.22l3.4,4.4l-3.4,4.4l-3.4,-4.4zM188.72,98.22l3.4,4.4l-3.4,4.4l-3.4,-4.4zM189.87,98.22l3.4,4.4l-3.4,4.4l-3.4,-4.4zM191.01,98.22l3.4,4.4l-3.4,4.4l-3.4,-4.4zM192.16,98.22l3.4,4.4l-3.4,4.4l-3.4,-4.4zM193.31,98.22l3.4,4.4l-3.4,4.4l-3.4,-4.4zM194.46,98.22l3.4,4.4l-3.4,4.4l-3.4,-4.4zM195.61,98.22l3.4,4.4l-3.4,4.4l-3.4,-4.4zM196.75,98.22l3.4,4.4l-3.4,4.4l-3.4,-4.4zM197.9,98.22l3.4,4.4l-3.4,4.4l-3.4,-4.4zM199.05,98.22l3.4,4.4l-3.4,4.4l-3.4,-4.4zM200.2,98.22l3.4,4.4l-3.4,4.4l-3.4,-4.4zM201.35,98.22l3.4,4.4l-3.4,4.4l-3.4,-4.4zM202.49,98.22l3.4,4.4l-3.4,4.4l-3.4,-4.4zM203.64,98.22l3.4,4.4l-3.4,4.4l-3.4,-4.4zM204.79,98.22l3.4,4.4l-3.4,4.4l-3.4,-4.4zM205.94,98.22l3.4,4.4l-3.4,4.4l-3.4,-4.4zM207.09,98.22l3.4,4.4l-3.4,4.4l-3.4,-4.4zM208.23,98.22l3.4,4.4l-3.4,4.4l-3.4,-4.4zM209.38,98.22l3.4,4.4l-3.4,4.4l-3.4,-4.4zM210.53,98.22l3.4,4.4l-3.4,4.4l-3.4,-4.4zM211.68,98.22l3.4,4.4l-3.4,4.4l-3.4,-4.4zM212.82,98.22l3.4,4.4l-3.4,4.4l-3.4,-4.4zM213.97,98.22l3.4,4.4l-3.4,4.4l-3.4,-4.4zM215.12,98.22l3.4,4.4l-3.4,4.4l-3.4,-4.4zM216.27,98.22l3.4,4.4l-3.4,4.4l-3.4,-4.4zM217.42,98.22l3.4,4.4l-3.4,4.4l-3.4,-4.4zM218.56,98.22l3.4,4.4l-3.4,4.4l-3.4,-4.4zM219.71,98.22l3.4,4.4l-3.4,4.4l-3.4,-4.4zM220.86,98.22l3.4,4.4l-3.4,4.4l-3.4,-4.4zM222.01,98.22l3.4,4.4l-3.4,4.4l-3.4,-4.4zM223.16,98.22l3.4,4.4l-3.4,4.4l-3.4,-4.4zM224.3,98.22l3.4,4.4l-3.4,4.4l-3.4,-4.4zM225.45,98.22l3.4,4.4l-3.4,4.4l-3.4,-4.4zM226.6,98.22l3.4,4.4l-3.4,4.4l-3.4,-4.4zM227.75,98.22l3.4,4.4l-3.4,4.4l-3.4,-4.4zM228.9,98.22l3.4,4.4l-3.4,4.4l-3.4,-4.4zM230.04,98.22l3.4,4.4l-3.4,4.4l-3.4,-4.4zM231.19,98.22l3.4,4.4l-3.4,4.4l-3.4,-4.4zM232.34,98.22l3.4,4.4l-3.4,4.4l-3.4,-4.4zM233.49,98.22l3.4,4.4l-3.4,4.4l-3.4,-4.4zM234.63,98.22l3.4,4.4l-3.4,4.4l-3.4,-4.4zM235.78,98.22l3.4,4.4l-3.4,4.4l-3.4,-4.4zM236.93,98.22l3.4,4.4l-3.4,4.4l-3.4,-4.4zM238.08,98.22l3.4,4.4l-3.4,4.4l-3.4,-4.4zM239.23,98.22l3.4,4.4l-3.4,4.4l-3.4,-4.4zM240.37,98.22l3.4,4.4l-3.4,4.4l-3.4,-4.4zM241.52,98.22l3.4,4.4l-3.4,4.4l-3.4,-4.4zM242.67,98.22l3.4,4.4l-3.4,4.4l-3.4,-4.4zM243.82,98.22l3.4,4.4l-3.4,4.4l-3.4,-4.4zM244.97,98.22l3.4,4.4l-3.4,4.4l-3.4,-4.4zM246.11,98.22l3.4,4.4l-3.4,4.4l-3.4,-4.4zM247.26,98.22l3.4,4.4l-3.4,4.4l-3.4,-4.4zM248.41,98.22l3.4,4.4l-3.4,4.4l-3.4,-4.4zM249.56,98.22l3.4,4.4l-3.4,4.4l-3.4,-4.4zM250.71,98.22l3.4,4.4l-3.4,4.4l-3.4,-4.4zM251.85,98.22l3.4,4.4l-3.4,4.4l-3.4,-4.4zM253,98.22l3.4,4.4l-3.4,4.4l-3.4,-4.4zM254.15,98.22l3.4,4.4l-3.4,4.4l-3.4,-4.4zM255.3,98.22l3.4,4.4l-3.4,4.4l-3.4,-4.4zM256.44,98.22l3.4,4.4l-3.4,4.4l-3.4,-4.4zM257.59,98.22l3.4,4.4l-3.4,4.4l-3.4,-4.4zM258.74,98.22l3.4,4.4l-3.4,4.4l-3.4,-4.4zM259.89,98.22l3.4,4.4l-3.4,4.4l-3.4,-4.4zM261.04,98.22l3.4,4.4l-3.4,4.4l-3.4,-4.4zM262.18,98.22l3.4,4.4l-3.4,4.4l-3.4,-4.4zM263.33,98.22l3.4,4.4l-3.4,4.4l-3.4,-4.4zM264.48,98.22l3.4,4.4l-3.4,4.4l-3.4,-4.4zM265.63,98.22l3.4,4.4l-3.4,4.4l-3.4,-4.4zM266.78,98.22l3.4,4.4l-3.4,4.4l-3.4,-4.4zM267.92,98.22l3.4,4.4l-3.4,4.4l-3.4,-4.4zM269.07,98.22l3.4,4.4l-3.4,4.4l-3.4,-4.4zM270.22,98.22l3.4,4.4l-3.4,4.4l-3.4,-4.4zM271.37,98.22l3.4,4.4l-3.4,4.4l-3.4,-4.4zM272.52,98.22l3.4,4.4l-3.4,4.4l-3.4,-4.4zM273.66,98.22l3.4,4.4l-3.4,4.4l-3.4,-4.4zM274.81,98.22l3.4,4.4l-3.4,4.4l-3.4,-4.4zM275.96,98.22l3.4,4.4l-3.4,4.4l-3.4,-4.4zM277.11,98.22l3.4,4.4l-3.4,4.4l-3.4,-4.4zM278.25,98.22l3.4,4.4l-3.4,4.4l-3.4,-4.4zM279.4,98.22l3.4,4.4l-3.4,4.4l-3.4,-4.4zM280.55,98.22l3.4,4.4l-3.4,4.4l-3.4,-4.4zM281.7,98.22l3.4,4.4l-3.4,4.4l-3.4,-4.4zM282.85,98.22l3.4,4.4l-3.4,4.4l-3.4,-4.4zM283.99,98.22l3.4,4.4l-3.4,4.4l-3.4,-4.4zM285.14,98.22l3.4,4.4l-3.4,4.4l-3.4,-4.4zM286.29,98.22l3.4,4.4l-3.4,4.4l-3.4,-4.4zM287.44,98.22l3.4,4.4l-3.4,4.4l-3.4,-4.4zM288.59,98.22l3.4,4.4l-3.4,4.4l-3.4,-4.4zM289.73,98.22l3.4,4.4l-3.4,4.4l-3.4,-4.4zM290.88,98.22l3.4,4.4l-3.4,4.4l-3.4,-4.4zM292.03,98.22l3.4,4.4l-3.4,4.4l-3.4,-4.4zM293.18,98.22l3.4,4.4l-3.4,4.4l-3.4,-4.4zM294.33,98.22l3.4,4.4l-3.4,4.4l-3.4,-4.4zM295.47,98.22l3.4,4.4l-3.4,4.4l-3.4,-4.4zM296.62,98.22l3.4,4.4l-3.4,4.4l-3.4,-4.4zM297.77,98.22l3.4,4.4l-3.4,4.4l-3.4,-4.4zM298.92,98.22l3.4,4.4l-3.4,4.4l-3.4,-4.4zM300.06,98.22l3.4,4.4l-3.4,4.4l-3.4,-4.4zM301.21,98.22l3.4,4.4l-3.4,4.4l-3.4,-4.4zM302.36,98.22l3.4,4.4l-3.4,4.4l-3.4,-4.4zM303.51,98.22l3.4,4.4l-3.4,4.4l-3.4,-4.4zM304.66,98.22l3.4,4.4l-3.4,4.4l-3.4,-4.4zM305.8,98.22l3.4,4.4l-3.4,4.4l-3.4,-4.4zM306.95,98.22l3.4,4.4l-3.4,4.4l-3.4,-4.4zM308.1,98.22l3.4,4.4l-3.4,4.4l-3.4,-4.4zM309.25,98.22l3.4,4.4l-3.4,4.4l-3.4,-4.4zM310.4,98.22l3.4,4.4l-3.4,4.4l-3.4,-4.4zM311.54,98.22l3.4,4.4l-3.4,4.4l-3.4,-4.4zM312.69,98.22l3.4,4.4l-3.4,4.4l-3.4,-4.4zM313.84,98.22l3.4,4.4l-3.4,4.4l-3.4,-4.4zM314.99,98.22l3.4,4.4l-3.4,4.4l-3.4,-4.4zM316.14,98.22l3.4,4.4l-3.4,4.4l-3.4,-4.4zM317.28,98.22l3.4,4.4l-3.4,4.4l-3.4,-4.4zM318.43,98.22l3.4,4.4l-3.4,4.4l-3.4,-4.4zM319.58,98.22l3.4,4.4l-3.4,4.4l-3.4,-4.4zM320.73,98.22l3.4,4.4l-3.4,4.4l-3.4,-4.4zM321.87,98.22l3.4,4.4l-3.4,4.4l-3.4,-4.4zM323.02,98.22l3.4,4.4l-3.4,4.4l-3.4,-4.4zM324.17,98.22l3.4,4.4l-3.4,4.4l-3.4,-4.4zM325.32,98.22l3.4,4.4l-3.4,4.4l-3.4,-4.4zM326.47,98.22l3.4,4.4l-3.4,4.4l-3.4,-4.4zM327.61,98.22l3.4,4.4l-3.4,4.4l-3.4,-4.4zM328.76,98.22l3.4,4.4l-3.4,4.4l-3.4,-4.4zM329.91,98.22l3.4,4.4l-3.4,4.4l-3.4,-4.4zM331.06,98.22l3.4,4.4l-3.4,4.4l-3.4,-4.4zM332.21,98.22l3.4,4.4l-3.4,4.4l-3.4,-4.4zM333.35,98.22l3.4,4.4l-3.4,4.4l-3.4,-4.4zM334.5,98.22l3.4,4.4l-3.4,4.4l-3.4,-4.4zM335.65,98.22l3.4,4.4l-3.4,4.4l-3.4,-4.4zM336.8,98.22l3.4,4.4l-3.4,4.4l-3.4,-4.4zM337.95,98.22l3.4,4.4l-3.4,4.4l-3.4,-4.4zM339.09,98.22l3.4,4.4l-3.4,4.4l-3.4,-4.4zM340.24,98.22l3.4,4.4l-3.4,4.4l-3.4,-4.4zM341.39,98.22l3.4,4.4l-3.4,4.4l-3.4,-4.4zM342.54,98.22l3.4,4.4l-3.4,4.4l-3.4,-4.4zM343.68,98.22l3.4,4.4l-3.4,4.4l-3.4,-4.4zM344.83,98.22l3.4,4.4l-3.4,4.4l-3.4,-4.4zM345.98,98.22l3.4,4.4l-3.4,4.4l-3.4,-4.4zM347.13,98.22l3.4,4.4l-3.4,4.4l-3.4,-4.4zM348.28,98.22l3.4,4.4l-3.4,4.4l-3.4,-4.4zM349.42,98.22l3.4,4.4l-3.4,4.4l-3.4,-4.4zM350.57,98.22l3.4,4.4l-3.4,4.4l-3.4,-4.4zM351.72,98.22l3.4,4.4l-3.4,4.4l-3.4,-4.4zM352.87,98.22l3.4,4.4l-3.4,4.4l-3.4,-4.4zM354.02,98.22l3.4,4.4l-3.4,4.4l-3.4,-4.4zM355.16,98.22l3.4,4.4l-3.4,4.4l-3.4,-4.4zM356.31,98.22l3.4,4.4l-3.4,4.4l-3.4,-4.4zM357.46,98.22l3.4,4.4l-3.4,4.4l-3.4,-4.4zM358.61,98.22l3.4,4.4l-3.4,4.4l-3.4,-4.4zM359.76,98.22l3.4,4.4l-3.4,4.4l-3.4,-4.4zM360.9,98.22l3.4,4.4l-3.4,4.4l-3.4,-4.4zM362.05,98.22l3.4,4.4l-3.4,4.4l-3.4,-4.4zM363.2,98.22l3.4,4.4l-3.4,4.4l-3.4,-4.4zM364.35,98.22l3.4,4.4l-3.4,4.4l-3.4,-4.4zM365.49,98.22l3.4,4.4l-3.4,4.4l-3.4,-4.4zM366.64,98.22l3.4,4.4l-3.4,4.4l-3.4,-4.4zM367.79,98.22l3.4,4.4l-3.4,4.4l-3.4,-4.4zM368.94,98.22l3.4,4.4l-3.4,4.4l-3.4,-4.4zM370.09,98.22l3.4,4.4l-3.4,4.4l-3.4,-4.4zM371.23,98.22l3.4,4.4l-3.4,4.4l-3.4,-4.4zM372.38,98.22l3.4,4.4l-3.4,4.4l-3.4,-4.4zM373.53,98.22l3.4,4.4l-3.4,4.4l-3.4,-4.4zM374.68,98.22l3.4,4.4l-3.4,4.4l-3.4,-4.4zM375.83,98.22l3.4,4.4l-3.4,4.4l-3.4,-4.4zM376.97,98.22l3.4,4.4l-3.4,4.4l-3.4,-4.4zM378.12,98.22l3.4,4.4l-3.4,4.4l-3.4,-4.4zM379.27,98.22l3.4,4.4l-3.4,4.4l-3.4,-4.4zM380.42,98.22l3.4,4.4l-3.4,4.4l-3.4,-4.4zM381.57,98.22l3.4,4.4l-3.4,4.4l-3.4,-4.4zM382.71,98.22l3.4,4.4l-3.4,4.4l-3.4,-4.4zM383.86,98.22l3.4,4.4l-3.4,4.4l-3.4,-4.4zM385.01,98.22l3.4,4.4l-3.4,4.4l-3.4,-4.4zM386.16,98.22l3.4,4.4l-3.4,4.4l-3.4,-4.4zM387.31,98.22l3.4,4.4l-3.4,4.4l-3.4,-4.4zM388.45,98.22l3.4,4.4l-3.4,4.4l-3.4,-4.4zM389.6,98.22l3.4,4.4l-3.4,4.4l-3.4,-4.4zM390.75,98.22l3.4,4.4l-3.4,4.4l-3.4,-4.4zM391.9,98.22l3.4,4.4l-3.4,4.4l-3.4,-4.4zM393.04,98.22l3.4,4.4l-3.4,4.4l-3.4,-4.4zM394.19,98.22l3.4,4.4l-3.4,4.4l-3.4,-4.4zM395.34,98.22l3.4,4.4l-3.4,4.4l-3.4,-4.4zM396.49,98.22l3.4,4.4l-3.4,4.4l-3.4,-4.4zM397.64,98.22l3.4,4.4l-3.4,4.4l-3.4,-4.4zM398.78,98.22l3.4,4.4l-3.4,4.4l-3.4,-4.4zM399.93,98.22l3.4,4.4l-3.4,4.4l-3.4,-4.4zM401.08,98.22l3.4,4.4l-3.4,4.4l-3.4,-4.4zM402.23,98.22l3.4,4.4l-3.4,4.4l-3.4,-4.4zM403.38,98.22l3.4,4.4l-3.4,4.4l-3.4,-4.4zM404.52,98.22l3.4,4.4l-3.4,4.4l-3.4,-4.4zM405.67,98.22l3.4,4.4l-3.4,4.4l-3.4,-4.4zM406.82,98.22l3.4,4.4l-3.4,4.4l-3.4,-4.4zM407.97,98.22l3.4,4.4l-3.4,4.4l-3.4,-4.4zM409.12,98.22l3.4,4.4l-3.4,4.4l-3.4,-4.4zM410.26,98.22l3.4,4.4l-3.4,4.4l-3.4,-4.4zM411.41,98.22l3.4,4.4l-3.4,4.4l-3.4,-4.4zM412.56,98.22l3.4,4.4l-3.4,4.4l-3.4,-4.4zM413.71,98.22l3.4,4.4l-3.4,4.4l-3.4,-4.4zM414.85,98.22l3.4,4.4l-3.4,4.4l-3.4,-4.4zM416,98.22l3.4,4.4l-3.4,4.4l-3.4,-4.4zM417.15,98.22l3.4,4.4l-3.4,4.4l-3.4,-4.4zM418.3,98.22l3.4,4.4l-3.4,4.4l-3.4,-4.4zM419.45,98.22l3.4,4.4l-3.4,4.4l-3.4,-4.4zM420.59,98.22l3.4,4.4l-3.4,4.4l-3.4,-4.4zM421.74,98.22l3.4,4.4l-3.4,4.4l-3.4,-4.4zM422.89,98.22l3.4,4.4l-3.4,4.4l-3.4,-4.4zM424.04,98.22l3.4,4.4l-3.4,4.4l-3.4,-4.4zM425.19,98.22l3.4,4.4l-3.4,4.4l-3.4,-4.4zM426.33,98.22l3.4,4.4l-3.4,4.4l-3.4,-4.4zM427.48,98.22l3.4,4.4l-3.4,4.4l-3.4,-4.4zM428.63,98.22l3.4,4.4l-3.4,4.4l-3.4,-4.4zM429.78,98.22l3.4,4.4l-3.4,4.4l-3.4,-4.4zM430.93,98.22l3.4,4.4l-3.4,4.4l-3.4,-4.4zM432.07,98.22l3.4,4.4l-3.4,4.4l-3.4,-4.4zM433.22,98.22l3.4,4.4l-3.4,4.4l-3.4,-4.4zM434.37,98.22l3.4,4.4l-3.4,4.4l-3.4,-4.4zM435.52,98.22l3.4,4.4l-3.4,4.4l-3.4,-4.4zM436.66,98.22l3.4,4.4l-3.4,4.4l-3.4,-4.4zM437.81,98.22l3.4,4.4l-3.4,4.4l-3.4,-4.4zM438.96,98.22l3.4,4.4l-3.4,4.4l-3.4,-4.4zM440.11,98.22l3.4,4.4l-3.4,4.4l-3.4,-4.4zM441.26,98.22l3.4,4.4l-3.4,4.4l-3.4,-4.4zM442.4,98.22l3.4,4.4l-3.4,4.4l-3.4,-4.4zM443.55,98.22l3.4,4.4l-3.4,4.4l-3.4,-4.4zM444.7,98.22l3.4,4.4l-3.4,4.4l-3.4,-4.4zM445.85,98.22l3.4,4.4l-3.4,4.4l-3.4,-4.4zM447,98.22l3.4,4.4l-3.4,4.4l-3.4,-4.4zM448.14,98.22l3.4,4.4l-3.4,4.4l-3.4,-4.4zM449.29,98.22l3.4,4.4l-3.4,4.4l-3.4,-4.4zM450.44,98.22l3.4,4.4l-3.4,4.4l-3.4,-4.4zM451.59,98.22l3.4,4.4l-3.4,4.4l-3.4,-4.4zM452.74,98.22l3.4,4.4l-3.4,4.4l-3.4,-4.4zM453.88,98.22l3.4,4.4l-3.4,4.4l-3.4,-4.4zM455.03,98.22l3.4,4.4l-3.4,4.4l-3.4,-4.4zM456.18,98.22l3.4,4.4l-3.4,4.4l-3.4,-4.4zM457.33,98.22l3.4,4.4l-3.4,4.4l-3.4,-4.4zM458.47,98.22l3.4,4.4l-3.4,4.4l-3.4,-4.4zM459.62,98.22l3.4,4.4l-3.4,4.4l-3.4,-4.4zM460.77,98.22l3.4,4.4l-3.4,4.4l-3.4,-4.4zM461.92,98.22l3.4,4.4l-3.4,4.4l-3.4,-4.4zM463.07,98.22l3.4,4.4l-3.4,4.4l-3.4,-4.4zM464.21,98.22l3.4,4.4l-3.4,4.4l-3.4,-4.4zM465.36,98.22l3.4,4.4l-3.4,4.4l-3.4,-4.4zM466.51,98.22l3.4,4.4l-3.4,4.4l-3.4,-4.4zM467.66,98.22l3.4,4.4l-3.4,4.4l-3.4,-4.4zM468.81,98.22l3.4,4.4l-3.4,4.4l-3.4,-4.4zM469.95,98.22l3.4,4.4l-3.4,4.4l-3.4,-4.4zM471.1,98.22l3.4,4.4l-3.4,4.4l-3.4,-4.4zM472.25,98.22l3.4,4.4l-3.4,4.4l-3.4,-4.4zM473.4,98.22l3.4,4.4l-3.4,4.4l-3.4,-4.4zM474.55,98.22l3.4,4.4l-3.4,4.4l-3.4,-4.4zM475.69,98.22l3.4,4.4l-3.4,4.4l-3.4,-4.4zM476.84,98.22l3.4,4.4l-3.4,4.4l-3.4,-4.4zM477.99,98.22l3.4,4.4l-3.4,4.4l-3.4,-4.4zM479.14,98.22l3.4,4.4l-3.4,4.4l-3.4,-4.4zM480.28,98.22l3.4,4.4l-3.4,4.4l-3.4,-4.4zM481.43,98.22l3.4,4.4l-3.4,4.4l-3.4,-4.4zM482.58,98.22l3.4,4.4l-3.4,4.4l-3.4,-4.4zM483.73,98.22l3.4,4.4l-3.4,4.4l-3.4,-4.4zM484.88,98.22l3.4,4.4l-3.4,4.4l-3.4,-4.4zM486.02,98.22l3.4,4.4l-3.4,4.4l-3.4,-4.4zM487.17,98.22l3.4,4.4l-3.4,4.4l-3.4,-4.4zM488.32,98.22l3.4,4.4l-3.4,4.4l-3.4,-4.4zM489.47,98.22l3.4,4.4l-3.4,4.4l-3.4,-4.4zM490.62,98.22l3.4,4.4l-3.4,4.4l-3.4,-4.4zM491.76,98.22l3.4,4.4l-3.4,4.4l-3.4,-4.4zM492.91,98.22l3.4,4.4l-3.4,4.4l-3.4,-4.4zM494.06,98.22l3.4,4.4l-3.4,4.4l-3.4,-4.4zM495.21,98.22l3.4,4.4l-3.4,4.4l-3.4,-4.4zM496.36,98.22l3.4,4.4l-3.4,4.4l-3.4,-4.4zM497.5,98.22l3.4,4.4l-3.4,4.4l-3.4,-4.4zM498.65,98.22l3.4,4.4l-3.4,4.4l-3.4,-4.4zM499.8,98.22l3.4,4.4l-3.4,4.4l-3.4,-4.4zM500.95,98.22l3.4,4.4l-3.4,4.4l-3.4,-4.4zM502.09,98.22l3.4,4.4l-3.4,4.4l-3.4,-4.4zM503.24,98.22l3.4,4.4l-3.4,4.4l-3.4,-4.4zM504.39,98.22l3.4,4.4l-3.4,4.4l-3.4,-4.4zM505.54,98.22l3.4,4.4l-3.4,4.4l-3.4,-4.4zM506.69,98.22l3.4,4.4l-3.4,4.4l-3.4,-4.4zM507.83,98.22l3.4,4.4l-3.4,4.4l-3.4,-4.4zM508.98,98.22l3.4,4.4l-3.4,4.4l-3.4,-4.4zM510.13,98.22l3.4,4.4l-3.4,4.4l-3.4,-4.4zM511.28,98.22l3.4,4.4l-3.4,4.4l-3.4,-4.4zM512.43,98.22l3.4,4.4l-3.4,4.4l-3.4,-4.4zM513.57,98.22l3.4,4.4l-3.4,4.4l-3.4,-4.4zM514.72,98.22l3.4,4.4l-3.4,4.4l-3.4,-4.4zM515.87,98.22l3.4,4.4l-3.4,4.4l-3.4,-4.4zM517.02,98.22l3.4,4.4l-3.4,4.4l-3.4,-4.4zM518.17,98.22l3.4,4.4l-3.4,4.4l-3.4,-4.4zM519.31,98.22l3.4,4.4l-3.4,4.4l-3.4,-4.4zM520.46,98.22l3.4,4.4l-3.4,4.4l-3.4,-4.4zM521.61,98.22l3.4,4.4l-3.4,4.4l-3.4,-4.4zM522.76,98.22l3.4,4.4l-3.4,4.4l-3.4,-4.4zM523.9,98.22l3.4,4.4l-3.4,4.4l-3.4,-4.4zM525.05,98.22l3.4,4.4l-3.4,4.4l-3.4,-4.4zM526.2,98.22l3.4,4.4l-3.4,4.4l-3.4,-4.4zM527.35,98.22l3.4,4.4l-3.4,4.4l-3.4,-4.4zM528.5,98.22l3.4,4.4l-3.4,4.4l-3.4,-4.4zM529.64,98.22l3.4,4.4l-3.4,4.4l-3.4,-4.4zM530.79,98.22l3.4,4.4l-3.4,4.4l-3.4,-4.4zM531.94,98.22l3.4,4.4l-3.4,4.4l-3.4,-4.4zM533.09,98.22l3.4,4.4l-3.4,4.4l-3.4,-4.4zM534.24,98.22l3.4,4.4l-3.4,4.4l-3.4,-4.4zM535.38,98.22l3.4,4.4l-3.4,4.4l-3.4,-4.4zM536.53,98.22l3.4,4.4l-3.4,4.4l-3.4,-4.4zM537.68,98.22l3.4,4.4l-3.4,4.4l-3.4,-4.4zM538.83,98.22l3.4,4.4l-3.4,4.4l-3.4,-4.4zM539.98,98.22l3.4,4.4l-3.4,4.4l-3.4,-4.4zM541.12,98.22l3.4,4.4l-3.4,4.4l-3.4,-4.4zM542.27,98.22l3.4,4.4l-3.4,4.4l-3.4,-4.4zM543.42,98.22l3.4,4.4l-3.4,4.4l-3.4,-4.4zM544.57,98.22l3.4,4.4l-3.4,4.4l-3.4,-4.4zM545.71,98.22l3.4,4.4l-3.4,4.4l-3.4,-4.4zM546.86,98.22l3.4,4.4l-3.4,4.4l-3.4,-4.4zM548.01,98.22l3.4,4.4l-3.4,4.4l-3.4,-4.4zM549.16,98.22l3.4,4.4l-3.4,4.4l-3.4,-4.4zM550.31,98.22l3.4,4.4l-3.4,4.4l-3.4,-4.4zM551.45,98.22l3.4,4.4l-3.4,4.4l-3.4,-4.4zM552.6,98.22l3.4,4.4l-3.4,4.4l-3.4,-4.4zM553.75,98.22l3.4,4.4l-3.4,4.4l-3.4,-4.4zM554.9,98.22l3.4,4.4l-3.4,4.4l-3.4,-4.4zM556.05,98.22l3.4,4.4l-3.4,4.4l-3.4,-4.4zM557.19,98.22l3.4,4.4l-3.4,4.4l-3.4,-4.4zM558.34,98.22l3.4,4.4l-3.4,4.4l-3.4,-4.4zM559.49,98.22l3.4,4.4l-3.4,4.4l-3.4,-4.4zM560.64,98.22l3.4,4.4l-3.4,4.4l-3.4,-4.4zM561.79,98.22l3.4,4.4l-3.4,4.4l-3.4,-4.4zM562.93,98.22l3.4,4.4l-3.4,4.4l-3.4,-4.4zM564.08,98.22l3.4,4.4l-3.4,4.4l-3.4,-4.4zM565.23,98.22l3.4,4.4l-3.4,4.4l-3.4,-4.4zM566.38,98.22l3.4,4.4l-3.4,4.4l-3.4,-4.4zM567.52,98.22l3.4,4.4l-3.4,4.4l-3.4,-4.4zM568.67,98.22l3.4,4.4l-3.4,4.4l-3.4,-4.4zM569.82,98.22l3.4,4.4l-3.4,4.4l-3.4,-4.4zM570.97,98.22l3.4,4.4l-3.4,4.4l-3.4,-4.4zM572.12,98.22l3.4,4.4l-3.4,4.4l-3.4,-4.4zM573.26,98.22l3.4,4.4l-3.4,4.4l-3.4,-4.4zM574.41,98.22l3.4,4.4l-3.4,4.4l-3.4,-4.4zM575.56,98.22l3.4,4.4l-3.4,4.4l-3.4,-4.4zM576.71,98.22l3.4,4.4l-3.4,4.4l-3.4,-4.4zM577.86,98.22l3.4,4.4l-3.4,4.4l-3.4,-4.4zM579,98.22l3.4,4.4l-3.4,4.4l-3.4,-4.4zM580.15,98.22l3.4,4.4l-3.4,4.4l-3.4,-4.4zM581.3,98.22l3.4,4.4l-3.4,4.4l-3.4,-4.4zM582.45,98.22l3.4,4.4l-3.4,4.4l-3.4,-4.4zM583.6,98.22l3.4,4.4l-3.4,4.4l-3.4,-4.4zM584.74,98.22l3.4,4.4l-3.4,4.4l-3.4,-4.4zM585.89,98.22l3.4,4.4l-3.4,4.4l-3.4,-4.4zM587.04,98.22l3.4,4.4l-3.4,4.4l-3.4,-4.4zM588.19,98.22l3.4,4.4l-3.4,4.4l-3.4,-4.4zM589.33,98.22l3.4,4.4l-3.4,4.4l-3.4,-4.4zM590.48,98.22l3.4,4.4l-3.4,4.4l-3.4,-4.4zM591.63,98.22l3.4,4.4l-3.4,4.4l-3.4,-4.4zM592.78,98.22l3.4,4.4l-3.4,4.4l-3.4,-4.4zM593.93,98.22l3.4,4.4l-3.4,4.4l-3.4,-4.4zM595.07,98.22l3.4,4.4l-3.4,4.4l-3.4,-4.4zM596.22,98.22l3.4,4.4l-3.4,4.4l-3.4,-4.4zM597.37,98.22l3.4,4.4l-3.4,4.4l-3.4,-4.4zM598.52,98.22l3.4,4.4l-3.4,4.4l-3.4,-4.4zM599.67,98.22l3.4,4.4l-3.4,4.4l-3.4,-4.4zM600.81,98.22l3.4,4.4l-3.4,4.4l-3.4,-4.4zM601.96,98.22l3.4,4.4l-3.4,4.4l-3.4,-4.4zM603.11,98.22l3.4,4.4l-3.4,4.4l-3.4,-4.4zM604.26,98.22l3.4,4.4l-3.4,4.4l-3.4,-4.4zM605.41,98.22l3.4,4.4l-3.4,4.4l-3.4,-4.4zM606.55,98.22l3.4,4.4l-3.4,4.4l-3.4,-4.4zM607.7,98.22l3.4,4.4l-3.4,4.4l-3.4,-4.4zM608.85,98.22l3.4,4.4l-3.4,4.4l-3.4,-4.4zM610,98.22l3.4,4.4l-3.4,4.4l-3.4,-4.4zM611.14,98.22l3.4,4.4l-3.4,4.4l-3.4,-4.4zM612.29,98.22l3.4,4.4l-3.4,4.4l-3.4,-4.4zM613.44,98.22l3.4,4.4l-3.4,4.4l-3.4,-4.4zM614.59,98.22l3.4,4.4l-3.4,4.4l-3.4,-4.4zM615.74,98.22l3.4,4.4l-3.4,4.4l-3.4,-4.4zM616.88,98.22l3.4,4.4l-3.4,4.4l-3.4,-4.4zM618.03,98.22l3.4,4.4l-3.4,4.4l-3.4,-4.4zM619.18,98.22l3.4,4.4l-3.4,4.4l-3.4,-4.4zM620.33,98.22l3.4,4.4l-3.4,4.4l-3.4,-4.4zM621.48,98.22l3.4,4.4l-3.4,4.4l-3.4,-4.4zM622.62,98.22l3.4,4.4l-3.4,4.4l-3.4,-4.4zM623.77,98.22l3.4,4.4l-3.4,4.4l-3.4,-4.4zM624.92,98.22l3.4,4.4l-3.4,4.4l-3.4,-4.4zM626.07,98.22l3.4,4.4l-3.4,4.4l-3.4,-4.4zM627.22,98.22l3.4,4.4l-3.4,4.4l-3.4,-4.4zM628.36,98.22l3.4,4.4l-3.4,4.4l-3.4,-4.4zM629.51,98.22l3.4,4.4l-3.4,4.4l-3.4,-4.4zM630.66,98.22l3.4,4.4l-3.4,4.4l-3.4,-4.4zM631.81,98.22l3.4,4.4l-3.4,4.4l-3.4,-4.4zM632.95,98.22l3.4,4.4l-3.4,4.4l-3.4,-4.4zM634.1,98.22l3.4,4.4l-3.4,4.4l-3.4,-4.4zM635.25,98.22l3.4,4.4l-3.4,4.4l-3.4,-4.4zM636.4,98.22l3.4,4.4l-3.4,4.4l-3.4,-4.4zM637.55,98.22l3.4,4.4l-3.4,4.4l-3.4,-4.4zM638.69,98.22l3.4,4.4l-3.4,4.4l-3.4,-4.4zM639.84,98.22l3.4,4.4l-3.4,4.4l-3.4,-4.4zM640.99,98.22l3.4,4.4l-3.4,4.4l-3.4,-4.4zM642.14,98.22l3.4,4.4l-3.4,4.4l-3.4,-4.4zM643.29,98.22l3.4,4.4l-3.4,4.4l-3.4,-4.4zM644.43,98.22l3.4,4.4l-3.4,4.4l-3.4,-4.4zM645.58,98.22l3.4,4.4l-3.4,4.4l-3.4,-4.4zM646.73,98.22l3.4,4.4l-3.4,4.4l-3.4,-4.4zM647.88,98.22l3.4,4.4l-3.4,4.4l-3.4,-4.4zM649.03,98.22l3.4,4.4l-3.4,4.4l-3.4,-4.4zM650.17,98.22l3.4,4.4l-3.4,4.4l-3.4,-4.4zM651.32,98.22l3.4,4.4l-3.4,4.4l-3.4,-4.4zM652.47,98.22l3.4,4.4l-3.4,4.4l-3.4,-4.4zM653.62,98.22l3.4,4.4l-3.4,4.4l-3.4,-4.4zM654.76,98.22l3.4,4.4l-3.4,4.4l-3.4,-4.4zM655.91,98.22l3.4,4.4l-3.4,4.4l-3.4,-4.4zM657.06,98.22l3.4,4.4l-3.4,4.4l-3.4,-4.4zM658.21,98.22l3.4,4.4l-3.4,4.4l-3.4,-4.4zM659.36,98.22l3.4,4.4l-3.4,4.4l-3.4,-4.4zM660.5,98.22l3.4,4.4l-3.4,4.4l-3.4,-4.4zM661.65,98.22l3.4,4.4l-3.4,4.4l-3.4,-4.4zM662.8,98.22l3.4,4.4l-3.4,4.4l-3.4,-4.4z"/>
<polyline fill="none" stroke="#B54DFF" stroke-width="1.9" points="90.00,282.43 91.15,278.60 92.30,274.77 93.44,270.94 94.59,267.11 95.74,263.28 96.89,259.45 98.04,255.63 99.18,251.80 100.33,247.97 101.48,244.14 102.63,240.31 103.77,236.48 104.92,232.65 106.07,228.82 107.22,224.99 108.37,221.16 109.51,217.33 110.66,213.50 111.81,209.67 112.96,205.85 114.11,202.02 115.25,198.19 116.40,194.36 117.55,190.53 118.70,186.70 119.85,182.87 120.99,179.04 122.14,175.21 123.29,171.38 124.44,167.55 125.58,163.72 126.73,159.89 127.88,156.07 129.03,152.24 130.18,148.41 131.32,144.58 132.47,140.75 133.62,136.92 134.77,133.09 135.92,129.26 137.06,125.43 138.21,121.60 139.36,117.77 140.51,113.94 141.66,110.11 142.80,106.29 143.95,102.46 145.10,98.63 146.25,94.80 147.39,94.80 148.54,94.80 149.69,94.80 150.84,94.80 151.99,94.80 153.13,94.80 154.28,94.80 155.43,94.80 156.58,94.80 157.73,94.80 158.87,94.80 160.02,94.80 161.17,94.80 162.32,94.80 163.47,94.80 164.61,94.80 165.76,94.80 166.91,94.80 168.06,94.80 169.20,94.80 170.35,94.80 171.50,94.80 172.65,94.80 173.80,94.80 174.94,94.80 176.09,94.80 177.24,94.80 178.39,94.80 179.54,94.80 180.68,94.80 181.83,94.80 182.98,94.80 184.13,94.80 185.28,94.80 186.42,94.80 187.57,94.80 188.72,94.80 189.87,94.80 191.01,94.80 192.16,94.80 193.31,94.80 194.46,94.80 195.61,94.80 196.75,94.80 197.90,94.80 199.05,94.80 200.20,94.80 201.35,94.80 202.49,94.80 203.64,94.80 204.79,94.80 205.94,94.80 207.09,94.80 208.23,94.80 209.38,94.80 210.53,94.80 211.68,94.80 212.82,94.80 213.97,94.80 215.12,94.80 216.27,94.80 217.42,94.80 218.56,94.80 219.71,94.80 220.86,94.80 222.01,94.80 223.16,94.80 224.30,94.80 225.45,94.80 226.60,94.80 227.75,94.80 228.90,94.80 230.04,94.80 231.19,94.80 232.34,94.80 233.49,94.80 234.63,94.80 235.78,94.80 236.93,94.80 238.08,94.80 239.23,94.80 240.37,94.80 241.52,94.80 242.67,94.80 243.82,94.80 244.97,94.80 246.11,94.80 247.26,94.80 248.41,94.80 249.56,94.80 250.71,94.80 251.85,94.80 253.00,94.80 254.15,94.80 255.30,94.80 256.44,94.80 257.59,94.80 258.74,94.80 259.89,94.80 261.04,94.80 262.18,94.80 263.33,94.80 264.48,94.80 265.63,94.80 266.78,94.80 267.92,94.80 269.07,94.80 270.22,94.80 271.37,94.80 272.52,94.80 273.66,94.80 274.81,94.80 275.96,94.80 277.11,94.80 278.25,94.80 279.40,94.80 280.55,94.80 281.70,94.80 282.85,94.80 283.99,94.80 285.14,94.80 286.29,94.80 287.44,94.80 288.59,94.80 289.73,94.80 290.88,94.80 292.03,94.80 293.18,94.80 294.33,94.80 295.47,94.80 296.62,94.80 297.77,94.80 298.92,94.80 300.06,94.80 301.21,94.80 302.36,94.80 303.51,94.80 304.66,94.80 305.80,94.80 306.95,94.80 308.10,94.80 309.25,94.80 310.40,94.80 311.54,94.80 312.69,94.80 313.84,94.80 314.99,94.80 316.14,94.80 317.28,94.80 318.43,94.80 319.58,94.80 320.73,94.80 321.87,94.80 323.02,94.80 324.17,94.80 325.32,94.80 326.47,94.80 327.61,94.80 328.76,94.80 329.91,94.80 331.06,94.80 332.21,94.80 333.35,94.80 334.50,94.80 335.65,94.80 336.80,94.80 337.95,94.80 339.09,94.80 340.24,94.80 341.39,94.80 342.54,94.80 343.68,94.80 344.83,94.80 345.98,94.80 347.13,94.80 348.28,94.80 349.42,94.80 350.57,94.80 351.72,94.80 352.87,94.80 354.02,94.80 355.16,94.80 356.31,94.80 357.46,94.80 358.61,94.80 359.76,94.80 360.90,94.80 362.05,94.80 363.20,94.80 364.35,94.80 365.49,94.80 366.64,94.80 367.79,94.80 368.94,94.80 370.09,94.80 371.23,94.80 372.38,94.80 373.53,94.80 374.68,94.80 375.83,94.80 376.97,94.80 378.12,94.80 379.27,94.80 380.42,94.80 381.57,94.80 382.71,94.80 383.86,94.80 385.01,94.80 386.16,94.80 387.31,94.80 388.45,94.80 389.60,94.80 390.75,94.80 391.90,94.80 393.04,94.80 394.19,94.80 395.34,94.80 396.49,94.80 397.64,94.80 398.78,94.80 399.93,94.80 401.08,94.80 402.23,94.80 403.38,94.80 404.52,94.80 405.67,94.80 406.82,94.80 407.97,94.80 409.12,94.80 410.26,94.80 411.41,94.80 412.56,94.80 413.71,94.80 414.85,94.80 416.00,94.80 417.15,94.80 418.30,94.80 419.45,94.80 420.59,94.80 421.74,94.80 422.89,94.80 424.04,94.80 425.19,94.80 426.33,94.80 427.48,94.80 428.63,94.80 429.78,94.80 430.93,94.80 432.07,94.80 433.22,94.80 434.37,94.80 435.52,94.80 436.66,94.80 437.81,94.80 438.96,94.80 440.11,94.80 441.26,94.80 442.40,94.80 443.55,94.80 444.70,94.80 445.85,94.80 447.00,94.80 448.14,94.80 449.29,94.80 450.44,94.80 451.59,94.80 452.74,94.80 453.88,94.80 455.03,94.80 456.18,94.80 457.33,94.80 458.47,94.80 459.62,94.80 460.77,94.80 461.92,94.80 463.07,94.80 464.21,94.80 465.36,94.80 466.51,94.80 467.66,94.80 468.81,94.80 469.95,94.80 471.10,94.80 472.25,94.80 473.40,94.80 474.55,94.80 475.69,94.80 476.84,94.80 477.99,94.80 479.14,94.80 480.28,94.80 481.43,94.80 482.58,94.80 483.73,94.80 484.88,94.80 486.02,94.80 487.17,94.80 488.32,94.80 489.47,94.80 490.62,94.80 491.76,94.80 492.91,94.80 494.06,94.80 495.21,94.80 496.36,94.80 497.50,94.80 498.65,94.80 499.80,94.80 500.95,94.80 502.09,94.80 503.24,94.80 504.39,94.80 505.54,94.80 506.69,94.80 507.83,94.80 508.98,94.80 510.13,94.80 511.28,94.80 512.43,94.80 513.57,94.80 514.72,94.80 515.87,94.80 517.02,94.80 518.17,94.80 519.31,94.80 520.46,94.80 521.61,94.80 522.76,94.80 523.90,94.80 525.05,94.80 526.20,94.80 527.35,94.80 528.50,94.80 529.64,94.80 530.79,94.80 531.94,94.80 533.09,94.80 534.24,94.80 535.38,94.80 536.53,94.80 537.68,94.80 538.83,94.80 539.98,94.80 541.12,94.80 542.27,94.80 543.42,94.80 544.57,94.80 545.71,94.80 546.86,94.80 548.01,94.80 549.16,94.80 550.31,94.80 551.45,94.80 552.60,94.80 553.75,94.80 554.90,94.80 556.05,94.80 557.19,94.80 558.34,94.80 559.49,94.80 560.64,94.80 561.79,94.80 562.93,94.80 564.08,94.80 565.23,94.80 566.38,94.80 567.52,94.80 568.67,94.80 569.82,94.80 570.97,94.80 572.12,94.80 573.26,94.80 574.41,94.80 575.56,94.80 576.71,94.80 577.86,94.80 579.00,94.80 580.15,94.80 581.30,94.80 582.45,94.80 583.60,94.80 584.74,94.80 585.89,94.80 587.04,94.80 588.19,94.80 589.33,94.80 590.48,94.80 591.63,94.80 592.78,94.80 593.93,94.80 595.07,94.80 596.22,94.80 597.37,94.80 598.52,94.80 599.67,94.80 600.81,94.80 601.96,94.80 603.11,94.80 604.26,94.80 605.41,94.80 606.55,94.80 607.70,94.80 608.85,94.80 610.00,94.80 611.14,94.80 612.29,94.80 613.44,94.80 614.59,94.80 615.74,94.80 616.88,94.80 618.03,94.80 619.18,94.80 620.33,94.80 621.48,94.80 622.62,94.80 623.77,94.80 624.92,94.80 626.07,94.80 627.22,94.80 628.36,94.80 629.51,94.80 630.66,94.80 631.81,94.80 632.95,94.80 634.10,94.80 635.25,94.80 636.40,94.80 637.55,94.80 638.69,94.80 639.84,94.80 640.99,94.80 642.14,94.80 643.29,94.80 644.43,94.80 645.58,94.80 646.73,94.80 647.88,94.80 649.03,94.80 650.17,94.80 651.32,94.80 652.47,94.80 653.62,94.80 654.76,94.80 655.91,94.80 657.06,94.80 658.21,94.80 659.36,94.80 660.50,94.80 661.65,94.80 662.80,94.80"/>
<path fill="#B54DFF" d="M89.55,277.58l4.15,7.3h-8.3zM90.7,273.75l4.15,7.3h-8.3zM91.85,269.92l4.15,7.3h-8.3zM92.99,266.09l4.15,7.3h-8.3zM94.14,262.26l4.15,7.3h-8.3zM95.29,258.43l4.15,7.3h-8.3zM96.44,254.6l4.15,7.3h-8.3zM97.59,250.78l4.15,7.3h-8.3zM98.73,246.95l4.15,7.3h-8.3zM99.88,243.12l4.15,7.3h-8.3zM101.03,239.29l4.15,7.3h-8.3zM102.18,235.46l4.15,7.3h-8.3zM103.32,231.63l4.15,7.3h-8.3zM104.47,227.8l4.15,7.3h-8.3zM105.62,223.97l4.15,7.3h-8.3zM106.77,220.14l4.15,7.3h-8.3zM107.92,216.31l4.15,7.3h-8.3zM109.06,212.48l4.15,7.3h-8.3zM110.21,208.65l4.15,7.3h-8.3zM111.36,204.82l4.15,7.3h-8.3zM112.51,201l4.15,7.3h-8.3zM113.66,197.17l4.15,7.3h-8.3zM114.8,193.34l4.15,7.3h-8.3zM115.95,189.51l4.15,7.3h-8.3zM117.1,185.68l4.15,7.3h-8.3zM118.25,181.85l4.15,7.3h-8.3zM119.4,178.02l4.15,7.3h-8.3zM120.54,174.19l4.15,7.3h-8.3zM121.69,170.36l4.15,7.3h-8.3zM122.84,166.53l4.15,7.3h-8.3zM123.99,162.7l4.15,7.3h-8.3zM125.13,158.87l4.15,7.3h-8.3zM126.28,155.04l4.15,7.3h-8.3zM127.43,151.22l4.15,7.3h-8.3zM128.58,147.39l4.15,7.3h-8.3zM129.73,143.56l4.15,7.3h-8.3zM130.87,139.73l4.15,7.3h-8.3zM132.02,135.9l4.15,7.3h-8.3zM133.17,132.07l4.15,7.3h-8.3zM134.32,128.24l4.15,7.3h-8.3zM135.47,124.41l4.15,7.3h-8.3zM136.61,120.58l4.15,7.3h-8.3zM137.76,116.75l4.15,7.3h-8.3zM138.91,112.92l4.15,7.3h-8.3zM140.06,109.09l4.15,7.3h-8.3zM141.21,105.26l4.15,7.3h-8.3zM142.35,101.44l4.15,7.3h-8.3zM143.5,97.61l4.15,7.3h-8.3zM144.65,93.78l4.15,7.3h-8.3zM145.8,89.95l4.15,7.3h-8.3zM146.94,89.95l4.15,7.3h-8.3zM148.09,89.95l4.15,7.3h-8.3zM149.24,89.95l4.15,7.3h-8.3zM150.39,89.95l4.15,7.3h-8.3zM151.54,89.95l4.15,7.3h-8.3zM152.68,89.95l4.15,7.3h-8.3zM153.83,89.95l4.15,7.3h-8.3zM154.98,89.95l4.15,7.3h-8.3zM156.13,89.95l4.15,7.3h-8.3zM157.28,89.95l4.15,7.3h-8.3zM158.42,89.95l4.15,7.3h-8.3zM159.57,89.95l4.15,7.3h-8.3zM160.72,89.95l4.15,7.3h-8.3zM161.87,89.95l4.15,7.3h-8.3zM163.02,89.95l4.15,7.3h-8.3zM164.16,89.95l4.15,7.3h-8.3zM165.31,89.95l4.15,7.3h-8.3zM166.46,89.95l4.15,7.3h-8.3zM167.61,89.95l4.15,7.3h-8.3zM168.75,89.95l4.15,7.3h-8.3zM169.9,89.95l4.15,7.3h-8.3zM171.05,89.95l4.15,7.3h-8.3zM172.2,89.95l4.15,7.3h-8.3zM173.35,89.95l4.15,7.3h-8.3zM174.49,89.95l4.15,7.3h-8.3zM175.64,89.95l4.15,7.3h-8.3zM176.79,89.95l4.15,7.3h-8.3zM177.94,89.95l4.15,7.3h-8.3zM179.09,89.95l4.15,7.3h-8.3zM180.23,89.95l4.15,7.3h-8.3zM181.38,89.95l4.15,7.3h-8.3zM182.53,89.95l4.15,7.3h-8.3zM183.68,89.95l4.15,7.3h-8.3zM184.83,89.95l4.15,7.3h-8.3zM185.97,89.95l4.15,7.3h-8.3zM187.12,89.95l4.15,7.3h-8.3zM188.27,89.95l4.15,7.3h-8.3zM189.42,89.95l4.15,7.3h-8.3zM190.56,89.95l4.15,7.3h-8.3zM191.71,89.95l4.15,7.3h-8.3zM192.86,89.95l4.15,7.3h-8.3zM194.01,89.95l4.15,7.3h-8.3zM195.16,89.95l4.15,7.3h-8.3zM196.3,89.95l4.15,7.3h-8.3zM197.45,89.95l4.15,7.3h-8.3zM198.6,89.95l4.15,7.3h-8.3zM199.75,89.95l4.15,7.3h-8.3zM200.9,89.95l4.15,7.3h-8.3zM202.04,89.95l4.15,7.3h-8.3zM203.19,89.95l4.15,7.3h-8.3zM204.34,89.95l4.15,7.3h-8.3zM205.49,89.95l4.15,7.3h-8.3zM206.64,89.95l4.15,7.3h-8.3zM207.78,89.95l4.15,7.3h-8.3zM208.93,89.95l4.15,7.3h-8.3zM210.08,89.95l4.15,7.3h-8.3zM211.23,89.95l4.15,7.3h-8.3zM212.37,89.95l4.15,7.3h-8.3zM213.52,89.95l4.15,7.3h-8.3zM214.67,89.95l4.15,7.3h-8.3zM215.82,89.95l4.15,7.3h-8.3zM216.97,89.95l4.15,7.3h-8.3zM218.11,89.95l4.15,7.3h-8.3zM219.26,89.95l4.15,7.3h-8.3zM220.41,89.95l4.15,7.3h-8.3zM221.56,89.95l4.15,7.3h-8.3zM222.71,89.95l4.15,7.3h-8.3zM223.85,89.95l4.15,7.3h-8.3zM225,89.95l4.15,7.3h-8.3zM226.15,89.95l4.15,7.3h-8.3zM227.3,89.95l4.15,7.3h-8.3zM228.45,89.95l4.15,7.3h-8.3zM229.59,89.95l4.15,7.3h-8.3zM230.74,89.95l4.15,7.3h-8.3zM231.89,89.95l4.15,7.3h-8.3zM233.04,89.95l4.15,7.3h-8.3zM234.18,89.95l4.15,7.3h-8.3zM235.33,89.95l4.15,7.3h-8.3zM236.48,89.95l4.15,7.3h-8.3zM237.63,89.95l4.15,7.3h-8.3zM238.78,89.95l4.15,7.3h-8.3zM239.92,89.95l4.15,7.3h-8.3zM241.07,89.95l4.15,7.3h-8.3zM242.22,89.95l4.15,7.3h-8.3zM243.37,89.95l4.15,7.3h-8.3zM244.52,89.95l4.15,7.3h-8.3zM245.66,89.95l4.15,7.3h-8.3zM246.81,89.95l4.15,7.3h-8.3zM247.96,89.95l4.15,7.3h-8.3zM249.11,89.95l4.15,7.3h-8.3zM250.26,89.95l4.15,7.3h-8.3zM251.4,89.95l4.15,7.3h-8.3zM252.55,89.95l4.15,7.3h-8.3zM253.7,89.95l4.15,7.3h-8.3zM254.85,89.95l4.15,7.3h-8.3zM255.99,89.95l4.15,7.3h-8.3zM257.14,89.95l4.15,7.3h-8.3zM258.29,89.95l4.15,7.3h-8.3zM259.44,89.95l4.15,7.3h-8.3zM260.59,89.95l4.15,7.3h-8.3zM261.73,89.95l4.15,7.3h-8.3zM262.88,89.95l4.15,7.3h-8.3zM264.03,89.95l4.15,7.3h-8.3zM265.18,89.95l4.15,7.3h-8.3zM266.33,89.95l4.15,7.3h-8.3zM267.47,89.95l4.15,7.3h-8.3zM268.62,89.95l4.15,7.3h-8.3zM269.77,89.95l4.15,7.3h-8.3zM270.92,89.95l4.15,7.3h-8.3zM272.07,89.95l4.15,7.3h-8.3zM273.21,89.95l4.15,7.3h-8.3zM274.36,89.95l4.15,7.3h-8.3zM275.51,89.95l4.15,7.3h-8.3zM276.66,89.95l4.15,7.3h-8.3zM277.8,89.95l4.15,7.3h-8.3zM278.95,89.95l4.15,7.3h-8.3zM280.1,89.95l4.15,7.3h-8.3zM281.25,89.95l4.15,7.3h-8.3zM282.4,89.95l4.15,7.3h-8.3zM283.54,89.95l4.15,7.3h-8.3zM284.69,89.95l4.15,7.3h-8.3zM285.84,89.95l4.15,7.3h-8.3zM286.99,89.95l4.15,7.3h-8.3zM288.14,89.95l4.15,7.3h-8.3zM289.28,89.95l4.15,7.3h-8.3zM290.43,89.95l4.15,7.3h-8.3zM291.58,89.95l4.15,7.3h-8.3zM292.73,89.95l4.15,7.3h-8.3zM293.88,89.95l4.15,7.3h-8.3zM295.02,89.95l4.15,7.3h-8.3zM296.17,89.95l4.15,7.3h-8.3zM297.32,89.95l4.15,7.3h-8.3zM298.47,89.95l4.15,7.3h-8.3zM299.61,89.95l4.15,7.3h-8.3zM300.76,89.95l4.15,7.3h-8.3zM301.91,89.95l4.15,7.3h-8.3zM303.06,89.95l4.15,7.3h-8.3zM304.21,89.95l4.15,7.3h-8.3zM305.35,89.95l4.15,7.3h-8.3zM306.5,89.95l4.15,7.3h-8.3zM307.65,89.95l4.15,7.3h-8.3zM308.8,89.95l4.15,7.3h-8.3zM309.95,89.95l4.15,7.3h-8.3zM311.09,89.95l4.15,7.3h-8.3zM312.24,89.95l4.15,7.3h-8.3zM313.39,89.95l4.15,7.3h-8.3zM314.54,89.95l4.15,7.3h-8.3zM315.69,89.95l4.15,7.3h-8.3zM316.83,89.95l4.15,7.3h-8.3zM317.98,89.95l4.15,7.3h-8.3zM319.13,89.95l4.15,7.3h-8.3zM320.28,89.95l4.15,7.3h-8.3zM321.42,89.95l4.15,7.3h-8.3zM322.57,89.95l4.15,7.3h-8.3zM323.72,89.95l4.15,7.3h-8.3zM324.87,89.95l4.15,7.3h-8.3zM326.02,89.95l4.15,7.3h-8.3zM327.16,89.95l4.15,7.3h-8.3zM328.31,89.95l4.15,7.3h-8.3zM329.46,89.95l4.15,7.3h-8.3zM330.61,89.95l4.15,7.3h-8.3zM331.76,89.95l4.15,7.3h-8.3zM332.9,89.95l4.15,7.3h-8.3zM334.05,89.95l4.15,7.3h-8.3zM335.2,89.95l4.15,7.3h-8.3zM336.35,89.95l4.15,7.3h-8.3zM337.5,89.95l4.15,7.3h-8.3zM338.64,89.95l4.15,7.3h-8.3zM339.79,89.95l4.15,7.3h-8.3zM340.94,89.95l4.15,7.3h-8.3zM342.09,89.95l4.15,7.3h-8.3zM343.23,89.95l4.15,7.3h-8.3zM344.38,89.95l4.15,7.3h-8.3zM345.53,89.95l4.15,7.3h-8.3zM346.68,89.95l4.15,7.3h-8.3zM347.83,89.95l4.15,7.3h-8.3zM348.97,89.95l4.15,7.3h-8.3zM350.12,89.95l4.15,7.3h-8.3zM351.27,89.95l4.15,7.3h-8.3zM352.42,89.95l4.15,7.3h-8.3zM353.57,89.95l4.15,7.3h-8.3zM354.71,89.95l4.15,7.3h-8.3zM355.86,89.95l4.15,7.3h-8.3zM357.01,89.95l4.15,7.3h-8.3zM358.16,89.95l4.15,7.3h-8.3zM359.31,89.95l4.15,7.3h-8.3zM360.45,89.95l4.15,7.3h-8.3zM361.6,89.95l4.15,7.3h-8.3zM362.75,89.95l4.15,7.3h-8.3zM363.9,89.95l4.15,7.3h-8.3zM365.04,89.95l4.15,7.3h-8.3zM366.19,89.95l4.15,7.3h-8.3zM367.34,89.95l4.15,7.3h-8.3zM368.49,89.95l4.15,7.3h-8.3zM369.64,89.95l4.15,7.3h-8.3zM370.78,89.95l4.15,7.3h-8.3zM371.93,89.95l4.15,7.3h-8.3zM373.08,89.95l4.15,7.3h-8.3zM374.23,89.95l4.15,7.3h-8.3zM375.38,89.95l4.15,7.3h-8.3zM376.52,89.95l4.15,7.3h-8.3zM377.67,89.95l4.15,7.3h-8.3zM378.82,89.95l4.15,7.3h-8.3zM379.97,89.95l4.15,7.3h-8.3zM381.12,89.95l4.15,7.3h-8.3zM382.26,89.95l4.15,7.3h-8.3zM383.41,89.95l4.15,7.3h-8.3zM384.56,89.95l4.15,7.3h-8.3zM385.71,89.95l4.15,7.3h-8.3zM386.86,89.95l4.15,7.3h-8.3zM388,89.95l4.15,7.3h-8.3zM389.15,89.95l4.15,7.3h-8.3zM390.3,89.95l4.15,7.3h-8.3zM391.45,89.95l4.15,7.3h-8.3zM392.59,89.95l4.15,7.3h-8.3zM393.74,89.95l4.15,7.3h-8.3zM394.89,89.95l4.15,7.3h-8.3zM396.04,89.95l4.15,7.3h-8.3zM397.19,89.95l4.15,7.3h-8.3zM398.33,89.95l4.15,7.3h-8.3zM399.48,89.95l4.15,7.3h-8.3zM400.63,89.95l4.15,7.3h-8.3zM401.78,89.95l4.15,7.3h-8.3zM402.93,89.95l4.15,7.3h-8.3zM404.07,89.95l4.15,7.3h-8.3zM405.22,89.95l4.15,7.3h-8.3zM406.37,89.95l4.15,7.3h-8.3zM407.52,89.95l4.15,7.3h-8.3zM408.67,89.95l4.15,7.3h-8.3zM409.81,89.95l4.15,7.3h-8.3zM410.96,89.95l4.15,7.3h-8.3zM412.11,89.95l4.15,7.3h-8.3zM413.26,89.95l4.15,7.3h-8.3zM414.4,89.95l4.15,7.3h-8.3zM415.55,89.95l4.15,7.3h-8.3zM416.7,89.95l4.15,7.3h-8.3zM417.85,89.95l4.15,7.3h-8.3zM419,89.95l4.15,7.3h-8.3zM420.14,89.95l4.15,7.3h-8.3zM421.29,89.95l4.15,7.3h-8.3zM422.44,89.95l4.15,7.3h-8.3zM423.59,89.95l4.15,7.3h-8.3zM424.74,89.95l4.15,7.3h-8.3zM425.88,89.95l4.15,7.3h-8.3zM427.03,89.95l4.15,7.3h-8.3zM428.18,89.95l4.15,7.3h-8.3zM429.33,89.95l4.15,7.3h-8.3zM430.48,89.95l4.15,7.3h-8.3zM431.62,89.95l4.15,7.3h-8.3zM432.77,89.95l4.15,7.3h-8.3zM433.92,89.95l4.15,7.3h-8.3zM435.07,89.95l4.15,7.3h-8.3zM436.21,89.95l4.15,7.3h-8.3zM437.36,89.95l4.15,7.3h-8.3zM438.51,89.95l4.15,7.3h-8.3zM439.66,89.95l4.15,7.3h-8.3zM440.81,89.95l4.15,7.3h-8.3zM441.95,89.95l4.15,7.3h-8.3zM443.1,89.95l4.15,7.3h-8.3zM444.25,89.95l4.15,7.3h-8.3zM445.4,89.95l4.15,7.3h-8.3zM446.55,89.95l4.15,7.3h-8.3zM447.69,89.95l4.15,7.3h-8.3zM448.84,89.95l4.15,7.3h-8.3zM449.99,89.95l4.15,7.3h-8.3zM451.14,89.95l4.15,7.3h-8.3zM452.29,89.95l4.15,7.3h-8.3zM453.43,89.95l4.15,7.3h-8.3zM454.58,89.95l4.15,7.3h-8.3zM455.73,89.95l4.15,7.3h-8.3zM456.88,89.95l4.15,7.3h-8.3zM458.02,89.95l4.15,7.3h-8.3zM459.17,89.95l4.15,7.3h-8.3zM460.32,89.95l4.15,7.3h-8.3zM461.47,89.95l4.15,7.3h-8.3zM462.62,89.95l4.15,7.3h-8.3zM463.76,89.95l4.15,7.3h-8.3zM464.91,89.95l4.15,7.3h-8.3zM466.06,89.95l4.15,7.3h-8.3zM467.21,89.95l4.15,7.3h-8.3zM468.36,89.95l4.15,7.3h-8.3zM469.5,89.95l4.15,7.3h-8.3zM470.65,89.95l4.15,7.3h-8.3zM471.8,89.95l4.15,7.3h-8.3zM472.95,89.95l4.15,7.3h-8.3zM474.1,89.95l4.15,7.3h-8.3zM475.24,89.95l4.15,7.3h-8.3zM476.39,89.95l4.15,7.3h-8.3zM477.54,89.95l4.15,7.3h-8.3zM478.69,89.95l4.15,7.3h-8.3zM479.83,89.95l4.15,7.3h-8.3zM480.98,89.95l4.15,7.3h-8.3zM482.13,89.95l4.15,7.3h-8.3zM483.28,89.95l4.15,7.3h-8.3zM484.43,89.95l4.15,7.3h-8.3zM485.57,89.95l4.15,7.3h-8.3zM486.72,89.95l4.15,7.3h-8.3zM487.87,89.95l4.15,7.3h-8.3zM489.02,89.95l4.15,7.3h-8.3zM490.17,89.95l4.15,7.3h-8.3zM491.31,89.95l4.15,7.3h-8.3zM492.46,89.95l4.15,7.3h-8.3zM493.61,89.95l4.15,7.3h-8.3zM494.76,89.95l4.15,7.3h-8.3zM495.91,89.95l4.15,7.3h-8.3zM497.05,89.95l4.15,7.3h-8.3zM498.2,89.95l4.15,7.3h-8.3zM499.35,89.95l4.15,7.3h-8.3zM500.5,89.95l4.15,7.3h-8.3zM501.64,89.95l4.15,7.3h-8.3zM502.79,89.95l4.15,7.3h-8.3zM503.94,89.95l4.15,7.3h-8.3zM505.09,89.95l4.15,7.3h-8.3zM506.24,89.95l4.15,7.3h-8.3zM507.38,89.95l4.15,7.3h-8.3zM508.53,89.95l4.15,7.3h-8.3zM509.68,89.95l4.15,7.3h-8.3zM510.83,89.95l4.15,7.3h-8.3zM511.98,89.95l4.15,7.3h-8.3zM513.12,89.95l4.15,7.3h-8.3zM514.27,89.95l4.15,7.3h-8.3zM515.42,89.95l4.15,7.3h-8.3zM516.57,89.95l4.15,7.3h-8.3zM517.72,89.95l4.15,7.3h-8.3zM518.86,89.95l4.15,7.3h-8.3zM520.01,89.95l4.15,7.3h-8.3zM521.16,89.95l4.15,7.3h-8.3zM522.31,89.95l4.15,7.3h-8.3zM523.45,89.95l4.15,7.3h-8.3zM524.6,89.95l4.15,7.3h-8.3zM525.75,89.95l4.15,7.3h-8.3zM526.9,89.95l4.15,7.3h-8.3zM528.05,89.95l4.15,7.3h-8.3zM529.19,89.95l4.15,7.3h-8.3zM530.34,89.95l4.15,7.3h-8.3zM531.49,89.95l4.15,7.3h-8.3zM532.64,89.95l4.15,7.3h-8.3zM533.79,89.95l4.15,7.3h-8.3zM534.93,89.95l4.15,7.3h-8.3zM536.08,89.95l4.15,7.3h-8.3zM537.23,89.95l4.15,7.3h-8.3zM538.38,89.95l4.15,7.3h-8.3zM539.53,89.95l4.15,7.3h-8.3zM540.67,89.95l4.15,7.3h-8.3zM541.82,89.95l4.15,7.3h-8.3zM542.97,89.95l4.15,7.3h-8.3zM544.12,89.95l4.15,7.3h-8.3zM545.26,89.95l4.15,7.3h-8.3zM546.41,89.95l4.15,7.3h-8.3zM547.56,89.95l4.15,7.3h-8.3zM548.71,89.95l4.15,7.3h-8.3zM549.86,89.95l4.15,7.3h-8.3zM551,89.95l4.15,7.3h-8.3zM552.15,89.95l4.15,7.3h-8.3zM553.3,89.95l4.15,7.3h-8.3zM554.45,89.95l4.15,7.3h-8.3zM555.6,89.95l4.15,7.3h-8.3zM556.74,89.95l4.15,7.3h-8.3zM557.89,89.95l4.15,7.3h-8.3zM559.04,89.95l4.15,7.3h-8.3zM560.19,89.95l4.15,7.3h-8.3zM561.34,89.95l4.15,7.3h-8.3zM562.48,89.95l4.15,7.3h-8.3zM563.63,89.95l4.15,7.3h-8.3zM564.78,89.95l4.15,7.3h-8.3zM565.93,89.95l4.15,7.3h-8.3zM567.07,89.95l4.15,7.3h-8.3zM568.22,89.95l4.15,7.3h-8.3zM569.37,89.95l4.15,7.3h-8.3zM570.52,89.95l4.15,7.3h-8.3zM571.67,89.95l4.15,7.3h-8.3zM572.81,89.95l4.15,7.3h-8.3zM573.96,89.95l4.15,7.3h-8.3zM575.11,89.95l4.15,7.3h-8.3zM576.26,89.95l4.15,7.3h-8.3zM577.41,89.95l4.15,7.3h-8.3zM578.55,89.95l4.15,7.3h-8.3zM579.7,89.95l4.15,7.3h-8.3zM580.85,89.95l4.15,7.3h-8.3zM582,89.95l4.15,7.3h-8.3zM583.15,89.95l4.15,7.3h-8.3zM584.29,89.95l4.15,7.3h-8.3zM585.44,89.95l4.15,7.3h-8.3zM586.59,89.95l4.15,7.3h-8.3zM587.74,89.95l4.15,7.3h-8.3zM588.88,89.95l4.15,7.3h-8.3zM590.03,89.95l4.15,7.3h-8.3zM591.18,89.95l4.15,7.3h-8.3zM592.33,89.95l4.15,7.3h-8.3zM593.48,89.95l4.15,7.3h-8.3zM594.62,89.95l4.15,7.3h-8.3zM595.77,89.95l4.15,7.3h-8.3zM596.92,89.95l4.15,7.3h-8.3zM598.07,89.95l4.15,7.3h-8.3zM599.22,89.95l4.15,7.3h-8.3zM600.36,89.95l4.15,7.3h-8.3zM601.51,89.95l4.15,7.3h-8.3zM602.66,89.95l4.15,7.3h-8.3zM603.81,89.95l4.15,7.3h-8.3zM604.96,89.95l4.15,7.3h-8.3zM606.1,89.95l4.15,7.3h-8.3zM607.25,89.95l4.15,7.3h-8.3zM608.4,89.95l4.15,7.3h-8.3zM609.55,89.95l4.15,7.3h-8.3zM610.69,89.95l4.15,7.3h-8.3zM611.84,89.95l4.15,7.3h-8.3zM612.99,89.95l4.15,7.3h-8.3zM614.14,89.95l4.15,7.3h-8.3zM615.29,89.95l4.15,7.3h-8.3zM616.43,89.95l4.15,7.3h-8.3zM617.58,89.95l4.15,7.3h-8.3zM618.73,89.95l4.15,7.3h-8.3zM619.88,89.95l4.15,7.3h-8.3zM621.03,89.95l4.15,7.3h-8.3zM622.17,89.95l4.15,7.3h-8.3zM623.32,89.95l4.15,7.3h-8.3zM624.47,89.95l4.15,7.3h-8.3zM625.62,89.95l4.15,7.3h-8.3zM626.77,89.95l4.15,7.3h-8.3zM627.91,89.95l4.15,7.3h-8.3zM629.06,89.95l4.15,7.3h-8.3zM630.21,89.95l4.15,7.3h-8.3zM631.36,89.95l4.15,7.3h-8.3zM632.5,89.95l4.15,7.3h-8.3zM633.65,89.95l4.15,7.3h-8.3zM634.8,89.95l4.15,7.3h-8.3zM635.95,89.95l4.15,7.3h-8.3zM637.1,89.95l4.15,7.3h-8.3zM638.24,89.95l4.15,7.3h-8.3zM639.39,89.95l4.15,7.3h-8.3zM640.54,89.95l4.15,7.3h-8.3zM641.69,89.95l4.15,7.3h-8.3zM642.84,89.95l4.15,7.3h-8.3zM643.98,89.95l4.15,7.3h-8.3zM645.13,89.95l4.15,7.3h-8.3zM646.28,89.95l4.15,7.3h-8.3zM647.43,89.95l4.15,7.3h-8.3zM648.58,89.95l4.15,7.3h-8.3zM649.72,89.95l4.15,7.3h-8.3zM650.87,89.95l4.15,7.3h-8.3zM652.02,89.95l4.15,7.3h-8.3zM653.17,89.95l4.15,7.3h-8.3zM654.31,89.95l4.15,7.3h-8.3zM655.46,89.95l4.15,7.3h-8.3zM656.61,89.95l4.15,7.3h-8.3zM657.76,89.95l4.15,7.3h-8.3zM658.91,89.95l4.15,7.3h-8.3zM660.05,89.95l4.15,7.3h-8.3zM661.2,89.95l4.15,7.3h-8.3zM662.35,89.95l4.15,7.3h-8.3z"/>
<polyline fill="none" stroke="#FF8000" stroke-width="1.9" points="90.00,243.34 91.15,239.99 92.30,236.64 93.44,233.29 94.59,229.94 95.74,226.59 96.89,223.24 98.04,219.89 99.18,216.54 100.33,213.18 101.48,209.83 102.63,206.48 103.77,203.13 104.92,199.78 106.07,196.43 107.22,193.08 108.37,189.73 109.51,186.38 110.66,183.03 111.81,179.68 112.96,176.33 114.11,172.98 115.25,169.63 116.40,166.28 117.55,162.93 118.70,159.58 119.85,156.23 120.99,152.87 122.14,149.52 123.29,146.17 124.44,142.82 125.58,139.47 126.73,136.12 127.88,132.77 129.03,129.42 130.18,126.07 131.32,122.72 132.47,119.37 133.62,116.02 134.77,112.67 135.92,109.32 137.06,105.97 138.21,102.62 139.36,99.27 140.51,95.91 141.66,92.56 142.80,89.21 143.95,85.86 145.10,82.51 146.25,79.16 147.39,79.16 148.54,79.16 149.69,79.16 150.84,79.16 151.99,79.16 153.13,79.16 154.28,79.16 155.43,79.16 156.58,79.16 157.73,79.16 158.87,79.16 160.02,79.16 161.17,79.16 162.32,79.16 163.47,79.16 164.61,79.16 165.76,79.16 166.91,79.16 168.06,79.16 169.20,79.16 170.35,79.16 171.50,79.16 172.65,79.16 173.80,79.16 174.94,79.16 176.09,79.16 177.24,79.16 178.39,79.16 179.54,79.16 180.68,79.16 181.83,79.16 182.98,79.16 184.13,79.16 185.28,79.16 186.42,79.16 187.57,79.16 188.72,79.16 189.87,79.16 191.01,79.16 192.16,79.16 193.31,79.16 194.46,79.16 195.61,79.16 196.75,79.16 197.90,79.16 199.05,79.16 200.20,79.16 201.35,79.16 202.49,79.16 203.64,79.16 204.79,79.16 205.94,79.16 207.09,79.16 208.23,79.16 209.38,79.16 210.53,79.16 211.68,79.16 212.82,79.16 213.97,79.16 215.12,79.16 216.27,79.16 217.42,79.16 218.56,79.16 219.71,79.16 220.86,79.16 222.01,79.16 223.16,79.16 224.30,79.16 225.45,79.16 226.60,79.16 227.75,79.16 228.90,79.16 230.04,79.16 231.19,79.16 232.34,79.16 233.49,79.16 234.63,79.16 235.78,79.16 236.93,79.16 238.08,79.16 239.23,79.16 240.37,79.16 241.52,79.16 242.67,79.16 243.82,79.16 244.97,79.16 246.11,79.16 247.26,79.16 248.41,79.16 249.56,79.16 250.71,79.16 251.85,79.16 253.00,79.16 254.15,79.16 255.30,79.16 256.44,79.16 257.59,79.16 258.74,79.16 259.89,79.16 261.04,79.16 262.18,79.16 263.33,79.16 264.48,79.16 265.63,79.16 266.78,79.16 267.92,79.16 269.07,79.16 270.22,79.16 271.37,79.16 272.52,79.16 273.66,79.16 274.81,79.16 275.96,79.16 277.11,79.16 278.25,79.16 279.40,79.16 280.55,79.16 281.70,79.16 282.85,79.16 283.99,79.16 285.14,79.16 286.29,79.16 287.44,79.16 288.59,79.16 289.73,79.16 290.88,79.16 292.03,79.16 293.18,79.16 294.33,79.16 295.47,79.16 296.62,79.16 297.77,79.16 298.92,79.16 300.06,79.16 301.21,79.16 302.36,79.16 303.51,79.16 304.66,79.16 305.80,79.16 306.95,79.16 308.10,79.16 309.25,79.16 310.40,79.16 311.54,79.16 312.69,79.16 313.84,79.16 314.99,79.16 316.14,79.16 317.28,79.16 318.43,79.16 319.58,79.16 320.73,79.16 321.87,79.16 323.02,79.16 324.17,79.16 325.32,79.16 326.47,79.16 327.61,79.16 328.76,79.16 329.91,79.16 331.06,79.16 332.21,79.16 333.35,79.16 334.50,79.16 335.65,79.16 336.80,79.16 337.95,79.16 339.09,79.16 340.24,79.16 341.39,79.16 342.54,79.16 343.68,79.16 344.83,79.16 345.98,79.16 347.13,79.16 348.28,79.16 349.42,79.16 350.57,79.16 351.72,79.16 352.87,79.16 354.02,79.16 355.16,79.16 356.31,79.16 357.46,79.16 358.61,79.16 359.76,79.16 360.90,79.16 362.05,79.16 363.20,79.16 364.35,79.16 365.49,79.16 366.64,79.16 367.79,79.16 368.94,79.16 370.09,79.16 371.23,79.16 372.38,79.16 373.53,79.16 374.68,79.16 375.83,79.16 376.97,79.16 378.12,79.16 379.27,79.16 380.42,79.16 381.57,79.16 382.71,79.16 383.86,79.16 385.01,79.16 386.16,79.16 387.31,79.16 388.45,79.16 389.60,79.16 390.75,79.16 391.90,79.16 393.04,79.16 394.19,79.16 395.34,79.16 396.49,79.16 397.64,79.16 398.78,79.16 399.93,79.16 401.08,79.16 402.23,79.16 403.38,79.16 404.52,79.16 405.67,79.16 406.82,79.16 407.97,79.16 409.12,79.16 410.26,79.16 411.41,79.16 412.56,79.16 413.71,79.16 414.85,79.16 416.00,79.16 417.15,79.16 418.30,79.16 419.45,79.16 420.59,79.16 421.74,79.16 422.89,79.16 424.04,79.16 425.19,79.16 426.33,79.16 427.48,79.16 428.63,79.16 429.78,79.16 430.93,79.16 432.07,79.16 433.22,79.16 434.37,79.16 435.52,79.16 436.66,79.16 437.81,79.16 438.96,79.16 440.11,79.16 441.26,79.16 442.40,79.16 443.55,79.16 444.70,79.16 445.85,79.16 447.00,79.16 448.14,79.16 449.29,79.16 450.44,79.16 451.59,79.16 452.74,79.16 453.88,79.16 455.03,79.16 456.18,79.16 457.33,79.16 458.47,79.16 459.62,79.16 460.77,79.16 461.92,79.16 463.07,79.16 464.21,79.16 465.36,79.16 466.51,79.16 467.66,79.16 468.81,79.16 469.95,79.16 471.10,79.16 472.25,79.16 473.40,79.16 474.55,79.16 475.69,79.16 476.84,79.16 477.99,79.16 479.14,79.16 480.28,79.16 481.43,79.16 482.58,79.16 483.73,79.16 484.88,79.16 486.02,79.16 487.17,79.16 488.32,79.16 489.47,79.16 490.62,79.16 491.76,79.16 492.91,79.16 494.06,79.16 495.21,79.16 496.36,79.16 497.50,79.16 498.65,79.16 499.80,79.16 500.95,79.16 502.09,79.16 503.24,79.16 504.39,79.16 505.54,79.16 506.69,79.16 507.83,79.16 508.98,79.16 510.13,79.16 511.28,79.16 512.43,79.16 513.57,79.16 514.72,79.16 515.87,79.16 517.02,79.16 518.17,79.16 519.31,79.16 520.46,79.16 521.61,79.16 522.76,79.16 523.90,79.16 525.05,79.16 526.20,79.16 527.35,79.16 528.50,79.16 529.64,79.16 530.79,79.16 531.94,79.16 533.09,79.16 534.24,79.16 535.38,79.16 536.53,79.16 537.68,79.16 538.83,79.16 539.98,79.16 541.12,79.16 542.27,79.16 543.42,79.16 544.57,79.16 545.71,79.16 546.86,79.16 548.01,79.16 549.16,79.16 550.31,79.16 551.45,79.16 552.60,79.16 553.75,79.16 554.90,79.16 556.05,79.16 557.19,79.16 558.34,79.16 559.49,79.16 560.64,79.16 561.79,79.16 562.93,79.16 564.08,79.16 565.23,79.16 566.38,79.16 567.52,79.16 568.67,79.16 569.82,79.16 570.97,79.16 572.12,79.16 573.26,79.16 574.41,79.16 575.56,79.16 576.71,79.16 577.86,79.16 579.00,79.16 580.15,79.16 581.30,79.16 582.45,79.16 583.60,79.16 584.74,79.16 585.89,79.16 587.04,79.16 588.19,79.16 589.33,79.16 590.48,79.16 591.63,79.16 592.78,79.16 593.93,79.16 595.07,79.16 596.22,79.16 597.37,79.16 598.52,79.16 599.67,79.16 600.81,79.16 601.96,79.16 603.11,79.16 604.26,79.16 605.41,79.16 606.55,79.16 607.70,79.16 608.85,79.16 610.00,79.16 611.14,79.16 612.29,79.16 613.44,79.16 614.59,79.16 615.74,79.16 616.88,79.16 618.03,79.16 619.18,79.16 620.33,79.16 621.48,79.16 622.62,79.16 623.77,79.16 624.92,79.16 626.07,79.16 627.22,79.16 628.36,79.16 629.51,79.16 630.66,79.16 631.81,79.16 632.95,79.16 634.10,79.16 635.25,79.16 636.40,79.16 637.55,79.16 638.69,79.16 639.84,79.16 640.99,79.16 642.14,79.16 643.29,79.16 644.43,79.16 645.58,79.16 646.73,79.16 647.88,79.16 649.03,79.16 650.17,79.16 651.32,79.16 652.47,79.16 653.62,79.16 654.76,79.16 655.91,79.16 657.06,79.16 658.21,79.16 659.36,79.16 660.50,79.16 661.65,79.16 662.80,79.16"/>
<path fill="#FF8000" d="M89.55,248.19l4.15,-7.3h-8.3zM90.7,244.84l4.15,-7.3h-8.3zM91.85,241.49l4.15,-7.3h-8.3zM92.99,238.14l4.15,-7.3h-8.3zM94.14,234.79l4.15,-7.3h-8.3zM95.29,231.44l4.15,-7.3h-8.3zM96.44,228.09l4.15,-7.3h-8.3zM97.59,224.74l4.15,-7.3h-8.3zM98.73,221.39l4.15,-7.3h-8.3zM99.88,218.03l4.15,-7.3h-8.3zM101.03,214.68l4.15,-7.3h-8.3zM102.18,211.33l4.15,-7.3h-8.3zM103.32,207.98l4.15,-7.3h-8.3zM104.47,204.63l4.15,-7.3h-8.3zM105.62,201.28l4.15,-7.3h-8.3zM106.77,197.93l4.15,-7.3h-8.3zM107.92,194.58l4.15,-7.3h-8.3zM109.06,191.23l4.15,-7.3h-8.3zM110.21,187.88l4.15,-7.3h-8.3zM111.36,184.53l4.15,-7.3h-8.3zM112.51,181.18l4.15,-7.3h-8.3zM113.66,177.83l4.15,-7.3h-8.3zM114.8,174.48l4.15,-7.3h-8.3zM115.95,171.13l4.15,-7.3h-8.3zM117.1,167.78l4.15,-7.3h-8.3zM118.25,164.43l4.15,-7.3h-8.3zM119.4,161.08l4.15,-7.3h-8.3zM120.54,157.72l4.15,-7.3h-8.3zM121.69,154.37l4.15,-7.3h-8.3zM122.84,151.02l4.15,-7.3h-8.3zM123.99,147.67l4.15,-7.3h-8.3zM125.13,144.32l4.15,-7.3h-8.3zM126.28,140.97l4.15,-7.3h-8.3zM127.43,137.62l4.15,-7.3h-8.3zM128.58,134.27l4.15,-7.3h-8.3zM129.73,130.92l4.15,-7.3h-8.3zM130.87,127.57l4.15,-7.3h-8.3zM132.02,124.22l4.15,-7.3h-8.3zM133.17,120.87l4.15,-7.3h-8.3zM134.32,117.52l4.15,-7.3h-8.3zM135.47,114.17l4.15,-7.3h-8.3zM136.61,110.82l4.15,-7.3h-8.3zM137.76,107.47l4.15,-7.3h-8.3zM138.91,104.12l4.15,-7.3h-8.3zM140.06,100.76l4.15,-7.3h-8.3zM141.21,97.41l4.15,-7.3h-8.3zM142.35,94.06l4.15,-7.3h-8.3zM143.5,90.71l4.15,-7.3h-8.3zM144.65,87.36l4.15,-7.3h-8.3zM145.8,84.01l4.15,-7.3h-8.3zM146.94,84.01l4.15,-7.3h-8.3zM148.09,84.01l4.15,-7.3h-8.3zM149.24,84.01l4.15,-7.3h-8.3zM150.39,84.01l4.15,-7.3h-8.3zM151.54,84.01l4.15,-7.3h-8.3zM152.68,84.01l4.15,-7.3h-8.3zM153.83,84.01l4.15,-7.3h-8.3zM154.98,84.01l4.15,-7.3h-8.3zM156.13,84.01l4.15,-7.3h-8.3zM157.28,84.01l4.15,-7.3h-8.3zM158.42,84.01l4.15,-7.3h-8.3zM159.57,84.01l4.15,-7.3h-8.3zM160.72,84.01l4.15,-7.3h-8.3zM161.87,84.01l4.15,-7.3h-8.3zM163.02,84.01l4.15,-7.3h-8.3zM164.16,84.01l4.15,-7.3h-8.3zM165.31,84.01l4.15,-7.3h-8.3zM166.46,84.01l4.15,-7.3h-8.3zM167.61,84.01l4.15,-7.3h-8.3zM168.75,84.01l4.15,-7.3h-8.3zM169.9,84.01l4.15,-7.3h-8.3zM171.05,84.01l4.15,-7.3h-8.3zM172.2,84.01l4.15,-7.3h-8.3zM173.35,84.01l4.15,-7.3h-8.3zM174.49,84.01l4.15,-7.3h-8.3zM175.64,84.01l4.15,-7.3h-8.3zM176.79,84.01l4.15,-7.3h-8.3zM177.94,84.01l4.15,-7.3h-8.3zM179.09,84.01l4.15,-7.3h-8.3zM180.23,84.01l4.15,-7.3h-8.3zM181.38,84.01l4.15,-7.3h-8.3zM182.53,84.01l4.15,-7.3h-8.3zM183.68,84.01l4.15,-7.3h-8.3zM184.83,84.01l4.15,-7.3h-8.3zM185.97,84.01l4.15,-7.3h-8.3zM187.12,84.01l4.15,-7.3h-8.3zM188.27,84.01l4.15,-7.3h-8.3zM189.42,84.01l4.15,-7.3h-8.3zM190.56,84.01l4.15,-7.3h-8.3zM191.71,84.01l4.15,-7.3h-8.3zM192.86,84.01l4.15,-7.3h-8.3zM194.01,84.01l4.15,-7.3h-8.3zM195.16,84.01l4.15,-7.3h-8.3zM196.3,84.01l4.15,-7.3h-8.3zM197.45,84.01l4.15,-7.3h-8.3zM198.6,84.01l4.15,-7.3h-8.3zM199.75,84.01l4.15,-7.3h-8.3zM200.9,84.01l4.15,-7.3h-8.3zM202.04,84.01l4.15,-7.3h-8.3zM203.19,84.01l4.15,-7.3h-8.3zM204.34,84.01l4.15,-7.3h-8.3zM205.49,84.01l4.15,-7.3h-8.3zM206.64,84.01l4.15,-7.3h-8.3zM207.78,84.01l4.15,-7.3h-8.3zM208.93,84.01l4.15,-7.3h-8.3zM210.08,84.01l4.15,-7.3h-8.3zM211.23,84.01l4.15,-7.3h-8.3zM212.37,84.01l4.15,-7.3h-8.3zM213.52,84.01l4.15,-7.3h-8.3zM214.67,84.01l4.15,-7.3h-8.3zM215.82,84.01l4.15,-7.3h-8.3zM216.97,84.01l4.15,-7.3h-8.3zM218.11,84.01l4.15,-7.3h-8.3zM219.26,84.01l4.15,-7.3h-8.3zM220.41,84.01l4.15,-7.3h-8.3zM221.56,84.01l4.15,-7.3h-8.3zM222.71,84.01l4.15,-7.3h-8.3zM223.85,84.01l4.15,-7.3h-8.3zM225,84.01l4.15,-7.3h-8.3zM226.15,84.01l4.15,-7.3h-8.3zM227.3,84.01l4.15,-7.3h-8.3zM228.45,84.01l4.15,-7.3h-8.3zM229.59,84.01l4.15,-7.3h-8.3zM230.74,84.01l4.15,-7.3h-8.3zM231.89,84.01l4.15,-7.3h-8.3zM233.04,84.01l4.15,-7.3h-8.3zM234.18,84.01l4.15,-7.3h-8.3zM235.33,84.01l4.15,-7.3h-8.3zM236.48,84.01l4.15,-7.3h-8.3zM237.63,84.01l4.15,-7.3h-8.3zM238.78,84.01l4.15,-7.3h-8.3zM239.92,84.01l4.15,-7.3h-8.3zM241.07,84.01l4.15,-7.3h-8.3zM242.22,84.01l4.15,-7.3h-8.3zM243.37,84.01l4.15,-7.3h-8.3zM244.52,84.01l4.15,-7.3h-8.3zM245.66,84.01l4.15,-7.3h-8.3zM246.81,84.01l4.15,-7.3h-8.3zM247.96,84.01l4.15,-7.3h-8.3zM249.11,84.01l4.15,-7.3h-8.3zM250.26,84.01l4.15,-7.3h-8.3zM251.4,84.01l4.15,-7.3h-8.3zM252.55,84.01l4.15,-7.3h-8.3zM253.7,84.01l4.15,-7.3h-8.3zM254.85,84.01l4.15,-7.3h-8.3zM255.99,84.01l4.15,-7.3h-8.3zM257.14,84.01l4.15,-7.3h-8.3zM258.29,84.01l4.15,-7.3h-8.3zM259.44,84.01l4.15,-7.3h-8.3zM260.59,84.01l4.15,-7.3h-8.3zM261.73,84.01l4.15,-7.3h-8.3zM262.88,84.01l4.15,-7.3h-8.3zM264.03,84.01l4.15,-7.3h-8.3zM265.18,84.01l4.15,-7.3h-8.3zM266.33,84.01l4.15,-7.3h-8.3zM267.47,84.01l4.15,-7.3h-8.3zM268.62,84.01l4.15,-7.3h-8.3zM269.77,84.01l4.15,-7.3h-8.3zM270.92,84.01l4.15,-7.3h-8.3zM272.07,84.01l4.15,-7.3h-8.3zM273.21,84.01l4.15,-7.3h-8.3zM274.36,84.01l4.15,-7.3h-8.3zM275.51,84.01l4.15,-7.3h-8.3zM276.66,84.01l4.15,-7.3h-8.3zM277.8,84.01l4.15,-7.3h-8.3zM278.95,84.01l4.15,-7.3h-8.3zM280.1,84.01l4.15,-7.3h-8.3zM281.25,84.01l4.15,-7.3h-8.3zM282.4,84.01l4.15,-7.3h-8.3zM283.54,84.01l4.15,-7.3h-8.3zM284.69,84.01l4.15,-7.3h-8.3zM285.84,84.01l4.15,-7.3h-8.3zM286.99,84.01l4.15,-7.3h-8.3zM288.14,84.01l4.15,-7.3h-8.3zM289.28,84.01l4.15,-7.3h-8.3zM290.43,84.01l4.15,-7.3h-8.3zM291.58,84.01l4.15,-7.3h-8.3zM292.73,84.01l4.15,-7.3h-8.3zM293.88,84.01l4.15,-7.3h-8.3zM295.02,84.01l4.15,-7.3h-8.3zM296.17,84.01l4.15,-7.3h-8.3zM297.32,84.01l4.15,-7.3h-8.3zM298.47,84.01l4.15,-7.3h-8.3zM299.61,84.01l4.15,-7.3h-8.3zM300.76,84.01l4.15,-7.3h-8.3zM301.91,84.01l4.15,-7.3h-8.3zM303.06,84.01l4.15,-7.3h-8.3zM304.21,84.01l4.15,-7.3h-8.3zM305.35,84.01l4.15,-7.3h-8.3zM306.5,84.01l4.15,-7.3h-8.3zM307.65,84.01l4.15,-7.3h-8.3zM308.8,84.01l4.15,-7.3h-8.3zM309.95,84.01l4.15,-7.3h-8.3zM311.09,84.01l4.15,-7.3h-8.3zM312.24,84.01l4.15,-7.3h-8.3zM313.39,84.01l4.15,-7.3h-8.3zM314.54,84.01l4.15,-7.3h-8.3zM315.69,84.01l4.15,-7.3h-8.3zM316.83,84.01l4.15,-7.3h-8.3zM317.98,84.01l4.15,-7.3h-8.3zM319.13,84.01l4.15,-7.3h-8.3zM320.28,84.01l4.15,-7.3h-8.3zM321.42,84.01l4.15,-7.3h-8.3zM322.57,84.01l4.15,-7.3h-8.3zM323.72,84.01l4.15,-7.3h-8.3zM324.87,84.01l4.15,-7.3h-8.3zM326.02,84.01l4.15,-7.3h-8.3zM327.16,84.01l4.15,-7.3h-8.3zM328.31,84.01l4.15,-7.3h-8.3zM329.46,84.01l4.15,-7.3h-8.3zM330.61,84.01l4.15,-7.3h-8.3zM331.76,84.01l4.15,-7.3h-8.3zM332.9,84.01l4.15,-7.3h-8.3zM334.05,84.01l4.15,-7.3h-8.3zM335.2,84.01l4.15,-7.3h-8.3zM336.35,84.01l4.15,-7.3h-8.3zM337.5,84.01l4.15,-7.3h-8.3zM338.64,84.01l4.15,-7.3h-8.3zM339.79,84.01l4.15,-7.3h-8.3zM340.94,84.01l4.15,-7.3h-8.3zM342.09,84.01l4.15,-7.3h-8.3zM343.23,84.01l4.15,-7.3h-8.3zM344.38,84.01l4.15,-7.3h-8.3zM345.53,84.01l4.15,-7.3h-8.3zM346.68,84.01l4.15,-7.3h-8.3zM347.83,84.01l4.15,-7.3h-8.3zM348.97,84.01l4.15,-7.3h-8.3zM350.12,84.01l4.15,-7.3h-8.3zM351.27,84.01l4.15,-7.3h-8.3zM352.42,84.01l4.15,-7.3h-8.3zM353.57,84.01l4.15,-7.3h-8.3zM354.71,84.01l4.15,-7.3h-8.3zM355.86,84.01l4.15,-7.3h-8.3zM357.01,84.01l4.15,-7.3h-8.3zM358.16,84.01l4.15,-7.3h-8.3zM359.31,84.01l4.15,-7.3h-8.3zM360.45,84.01l4.15,-7.3h-8.3zM361.6,84.01l4.15,-7.3h-8.3zM362.75,84.01l4.15,-7.3h-8.3zM363.9,84.01l4.15,-7.3h-8.3zM365.04,84.01l4.15,-7.3h-8.3zM366.19,84.01l4.15,-7.3h-8.3zM367.34,84.01l4.15,-7.3h-8.3zM368.49,84.01l4.15,-7.3h-8.3zM369.64,84.01l4.15,-7.3h-8.3zM370.78,84.01l4.15,-7.3h-8.3zM371.93,84.01l4.15,-7.3h-8.3zM373.08,84.01l4.15,-7.3h-8.3zM374.23,84.01l4.15,-7.3h-8.3zM375.38,84.01l4.15,-7.3h-8.3zM376.52,84.01l4.15,-7.3h-8.3zM377.67,84.01l4.15,-7.3h-8.3zM378.82,84.01l4.15,-7.3h-8.3zM379.97,84.01l4.15,-7.3h-8.3zM381.12,84.01l4.15,-7.3h-8.3zM382.26,84.01l4.15,-7.3h-8.3zM383.41,84.01l4.15,-7.3h-8.3zM384.56,84.01l4.15,-7.3h-8.3zM385.71,84.01l4.15,-7.3h-8.3zM386.86,84.01l4.15,-7.3h-8.3zM388,84.01l4.15,-7.3h-8.3zM389.15,84.01l4.15,-7.3h-8.3zM390.3,84.01l4.15,-7.3h-8.3zM391.45,84.01l4.15,-7.3h-8.3zM392.59,84.01l4.15,-7.3h-8.3zM393.74,84.01l4.15,-7.3h-8.3zM394.89,84.01l4.15,-7.3h-8.3zM396.04,84.01l4.15,-7.3h-8.3zM397.19,84.01l4.15,-7.3h-8.3zM398.33,84.01l4.15,-7.3h-8.3zM399.48,84.01l4.15,-7.3h-8.3zM400.63,84.01l4.15,-7.3h-8.3zM401.78,84.01l4.15,-7.3h-8.3zM402.93,84.01l4.15,-7.3h-8.3zM404.07,84.01l4.15,-7.3h-8.3zM405.22,84.01l4.15,-7.3h-8.3zM406.37,84.01l4.15,-7.3h-8.3zM407.52,84.01l4.15,-7.3h-8.3zM408.67,84.01l4.15,-7.3h-8.3zM409.81,84.01l4.15,-7.3h-8.3zM410.96,84.01l4.15,-7.3h-8.3zM412.11,84.01l4.15,-7.3h-8.3zM413.26,84.01l4.15,-7.3h-8.3zM414.4,84.01l4.15,-7.3h-8.3zM415.55,84.01l4.15,-7.3h-8.3zM416.7,84.01l4.15,-7.3h-8.3zM417.85,84.01l4.15,-7.3h-8.3zM419,84.01l4.15,-7.3h-8.3zM420.14,84.01l4.15,-7.3h-8.3zM421.29,84.01l4.15,-7.3h-8.3zM422.44,84.01l4.15,-7.3h-8.3zM423.59,84.01l4.15,-7.3h-8.3zM424.74,84.01l4.15,-7.3h-8.3zM425.88,84.01l4.15,-7.3h-8.3zM427.03,84.01l4.15,-7.3h-8.3zM428.18,84.01l4.15,-7.3h-8.3zM429.33,84.01l4.15,-7.3h-8.3zM430.48,84.01l4.15,-7.3h-8.3zM431.62,84.01l4.15,-7.3h-8.3zM432.77,84.01l4.15,-7.3h-8.3zM433.92,84.01l4.15,-7.3h-8.3zM435.07,84.01l4.15,-7.3h-8.3zM436.21,84.01l4.15,-7.3h-8.3zM437.36,84.01l4.15,-7.3h-8.3zM438.51,84.01l4.15,-7.3h-8.3zM439.66,84.01l4.15,-7.3h-8.3zM440.81,84.01l4.15,-7.3h-8.3zM441.95,84.01l4.15,-7.3h-8.3zM443.1,84.01l4.15,-7.3h-8.3zM444.25,84.01l4.15,-7.3h-8.3zM445.4,84.01l4.15,-7.3h-8.3zM446.55,84.01l4.15,-7.3h-8.3zM447.69,84.01l4.15,-7.3h-8.3zM448.84,84.01l4.15,-7.3h-8.3zM449.99,84.01l4.15,-7.3h-8.3zM451.14,84.01l4.15,-7.3h-8.3zM452.29,84.01l4.15,-7.3h-8.3zM453.43,84.01l4.15,-7.3h-8.3zM454.58,84.01l4.15,-7.3h-8.3zM455.73,84.01l4.15,-7.3h-8.3zM456.88,84.01l4.15,-7.3h-8.3zM458.02,84.01l4.15,-7.3h-8.3zM459.17,84.01l4.15,-7.3h-8.3zM460.32,84.01l4.15,-7.3h-8.3zM461.47,84.01l4.15,-7.3h-8.3zM462.62,84.01l4.15,-7.3h-8.3zM463.76,84.01l4.15,-7.3h-8.3zM464.91,84.01l4.15,-7.3h-8.3zM466.06,84.01l4.15,-7.3h-8.3zM467.21,84.01l4.15,-7.3h-8.3zM468.36,84.01l4.15,-7.3h-8.3zM469.5,84.01l4.15,-7.3h-8.3zM470.65,84.01l4.15,-7.3h-8.3zM471.8,84.01l4.15,-7.3h-8.3zM472.95,84.01l4.15,-7.3h-8.3zM474.1,84.01l4.15,-7.3h-8.3zM475.24,84.01l4.15,-7.3h-8.3zM476.39,84.01l4.15,-7.3h-8.3zM477.54,84.01l4.15,-7.3h-8.3zM478.69,84.01l4.15,-7.3h-8.3zM479.83,84.01l4.15,-7.3h-8.3zM480.98,84.01l4.15,-7.3h-8.3zM482.13,84.01l4.15,-7.3h-8.3zM483.28,84.01l4.15,-7.3h-8.3zM484.43,84.01l4.15,-7.3h-8.3zM485.57,84.01l4.15,-7.3h-8.3zM486.72,84.01l4.15,-7.3h-8.3zM487.87,84.01l4.15,-7.3h-8.3zM489.02,84.01l4.15,-7.3h-8.3zM490.17,84.01l4.15,-7.3h-8.3zM491.31,84.01l4.15,-7.3h-8.3zM492.46,84.01l4.15,-7.3h-8.3zM493.61,84.01l4.15,-7.3h-8.3zM494.76,84.01l4.15,-7.3h-8.3zM495.91,84.01l4.15,-7.3h-8.3zM497.05,84.01l4.15,-7.3h-8.3zM498.2,84.01l4.15,-7.3h-8.3zM499.35,84.01l4.15,-7.3h-8.3zM500.5,84.01l4.15,-7.3h-8.3zM501.64,84.01l4.15,-7.3h-8.3zM502.79,84.01l4.15,-7.3h-8.3zM503.94,84.01l4.15,-7.3h-8.3zM505.09,84.01l4.15,-7.3h-8.3zM506.24,84.01l4.15,-7.3h-8.3zM507.38,84.01l4.15,-7.3h-8.3zM508.53,84.01l4.15,-7.3h-8.3zM509.68,84.01l4.15,-7.3h-8.3zM510.83,84.01l4.15,-7.3h-8.3zM511.98,84.01l4.15,-7.3h-8.3zM513.12,84.01l4.15,-7.3h-8.3zM514.27,84.01l4.15,-7.3h-8.3zM515.42,84.01l4.15,-7.3h-8.3zM516.57,84.01l4.15,-7.3h-8.3zM517.72,84.01l4.15,-7.3h-8.3zM518.86,84.01l4.15,-7.3h-8.3zM520.01,84.01l4.15,-7.3h-8.3zM521.16,84.01l4.15,-7.3h-8.3zM522.31,84.01l4.15,-7.3h-8.3zM523.45,84.01l4.15,-7.3h-8.3zM524.6,84.01l4.15,-7.3h-8.3zM525.75,84.01l4.15,-7.3h-8.3zM526.9,84.01l4.15,-7.3h-8.3zM528.05,84.01l4.15,-7.3h-8.3zM529.19,84.01l4.15,-7.3h-8.3zM530.34,84.01l4.15,-7.3h-8.3zM531.49,84.01l4.15,-7.3h-8.3zM532.64,84.01l4.15,-7.3h-8.3zM533.79,84.01l4.15,-7.3h-8.3zM534.93,84.01l4.15,-7.3h-8.3zM536.08,84.01l4.15,-7.3h-8.3zM537.23,84.01l4.15,-7.3h-8.3zM538.38,84.01l4.15,-7.3h-8.3zM539.53,84.01l4.15,-7.3h-8.3zM540.67,84.01l4.15,-7.3h-8.3zM541.82,84.01l4.15,-7.3h-8.3zM542.97,84.01l4.15,-7.3h-8.3zM544.12,84.01l4.15,-7.3h-8.3zM545.26,84.01l4.15,-7.3h-8.3zM546.41,84.01l4.15,-7.3h-8.3zM547.56,84.01l4.15,-7.3h-8.3zM548.71,84.01l4.15,-7.3h-8.3zM549.86,84.01l4.15,-7.3h-8.3zM551,84.01l4.15,-7.3h-8.3zM552.15,84.01l4.15,-7.3h-8.3zM553.3,84.01l4.15,-7.3h-8.3zM554.45,84.01l4.15,-7.3h-8.3zM555.6,84.01l4.15,-7.3h-8.3zM556.74,84.01l4.15,-7.3h-8.3zM557.89,84.01l4.15,-7.3h-8.3zM559.04,84.01l4.15,-7.3h-8.3zM560.19,84.01l4.15,-7.3h-8.3zM561.34,84.01l4.15,-7.3h-8.3zM562.48,84.01l4.15,-7.3h-8.3zM563.63,84.01l4.15,-7.3h-8.3zM564.78,84.01l4.15,-7.3h-8.3zM565.93,84.01l4.15,-7.3h-8.3zM567.07,84.01l4.15,-7.3h-8.3zM568.22,84.01l4.15,-7.3h-8.3zM569.37,84.01l4.15,-7.3h-8.3zM570.52,84.01l4.15,-7.3h-8.3zM571.67,84.01l4.15,-7.3h-8.3zM572.81,84.01l4.15,-7.3h-8.3zM573.96,84.01l4.15,-7.3h-8.3zM575.11,84.01l4.15,-7.3h-8.3zM576.26,84.01l4.15,-7.3h-8.3zM577.41,84.01l4.15,-7.3h-8.3zM578.55,84.01l4.15,-7.3h-8.3zM579.7,84.01l4.15,-7.3h-8.3zM580.85,84.01l4.15,-7.3h-8.3zM582,84.01l4.15,-7.3h-8.3zM583.15,84.01l4.15,-7.3h-8.3zM584.29,84.01l4.15,-7.3h-8.3zM585.44,84.01l4.15,-7.3h-8.3zM586.59,84.01l4.15,-7.3h-8.3zM587.74,84.01l4.15,-7.3h-8.3zM588.88,84.01l4.15,-7.3h-8.3zM590.03,84.01l4.15,-7.3h-8.3zM591.18,84.01l4.15,-7.3h-8.3zM592.33,84.01l4.15,-7.3h-8.3zM593.48,84.01l4.15,-7.3h-8.3zM594.62,84.01l4.15,-7.3h-8.3zM595.77,84.01l4.15,-7.3h-8.3zM596.92,84.01l4.15,-7.3h-8.3zM598.07,84.01l4.15,-7.3h-8.3zM599.22,84.01l4.15,-7.3h-8.3zM600.36,84.01l4.15,-7.3h-8.3zM601.51,84.01l4.15,-7.3h-8.3zM602.66,84.01l4.15,-7.3h-8.3zM603.81,84.01l4.15,-7.3h-8.3zM604.96,84.01l4.15,-7.3h-8.3zM606.1,84.01l4.15,-7.3h-8.3zM607.25,84.01l4.15,-7.3h-8.3zM608.4,84.01l4.15,-7.3h-8.3zM609.55,84.01l4.15,-7.3h-8.3zM610.69,84.01l4.15,-7.3h-8.3zM611.84,84.01l4.15,-7.3h-8.3zM612.99,84.01l4.15,-7.3h-8.3zM614.14,84.01l4.15,-7.3h-8.3zM615.29,84.01l4.15,-7.3h-8.3zM616.43,84.01l4.15,-7.3h-8.3zM617.58,84.01l4.15,-7.3h-8.3zM618.73,84.01l4.15,-7.3h-8.3zM619.88,84.01l4.15,-7.3h-8.3zM621.03,84.01l4.15,-7.3h-8.3zM622.17,84.01l4.15,-7.3h-8.3zM623.32,84.01l4.15,-7.3h-8.3zM624.47,84.01l4.15,-7.3h-8.3zM625.62,84.01l4.15,-7.3h-8.3zM626.77,84.01l4.15,-7.3h-8.3zM627.91,84.01l4.15,-7.3h-8.3zM629.06,84.01l4.15,-7.3h-8.3zM630.21,84.01l4.15,-7.3h-8.3zM631.36,84.01l4.15,-7.3h-8.3zM632.5,84.01l4.15,-7.3h-8.3zM633.65,84.01l4.15,-7.3h-8.3zM634.8,84.01l4.15,-7.3h-8.3zM635.95,84.01l4.15,-7.3h-8.3zM637.1,84.01l4.15,-7.3h-8.3zM638.24,84.01l4.15,-7.3h-8.3zM639.39,84.01l4.15,-7.3h-8.3zM640.54,84.01l4.15,-7.3h-8.3zM641.69,84.01l4.15,-7.3h-8.3zM642.84,84.01l4.15,-7.3h-8.3zM643.98,84.01l4.15,-7.3h-8.3zM645.13,84.01l4.15,-7.3h-8.3zM646.28,84.01l4.15,-7.3h-8.3zM647.43,84.01l4.15,-7.3h-8.3zM648.58,84.01l4.15,-7.3h-8.3zM649.72,84.01l4.15,-7.3h-8.3zM650.87,84.01l4.15,-7.3h-8.3zM652.02,84.01l4.15,-7.3h-8.3zM653.17,84.01l4.15,-7.3h-8.3zM654.31,84.01l4.15,-7.3h-8.3zM655.46,84.01l4.15,-7.3h-8.3zM656.61,84.01l4.15,-7.3h-8.3zM657.76,84.01l4.15,-7.3h-8.3zM658.91,84.01l4.15,-7.3h-8.3zM660.05,84.01l4.15,-7.3h-8.3zM661.2,84.01l4.15,-7.3h-8.3zM662.35,84.01l4.15,-7.3h-8.3z"/>
<polyline fill="none" stroke="#800080" stroke-width="1.9" points="90.00,204.25 91.15,201.54 92.30,198.83 93.44,196.11 94.59,193.40 95.74,190.69 96.89,187.98 98.04,185.26 99.18,182.55 100.33,179.84 101.48,177.13 102.63,174.41 103.77,171.70 104.92,168.99 106.07,166.28 107.22,163.56 108.37,160.85 109.51,158.14 110.66,155.43 111.81,152.72 112.96,150.00 114.11,147.29 115.25,144.58 116.40,141.87 117.55,139.15 118.70,136.44 119.85,133.73 120.99,131.02 122.14,128.30 123.29,125.59 124.44,122.88 125.58,120.17 126.73,117.45 127.88,114.74 129.03,112.03 130.18,109.32 131.32,106.60 132.47,103.89 133.62,101.18 134.77,98.47 135.92,95.76 137.06,93.04 138.21,90.33 139.36,87.62 140.51,84.91 141.66,82.19 142.80,79.48 143.95,76.77 145.10,74.06 146.25,71.34 147.39,71.34 148.54,71.34 149.69,71.34 150.84,71.34 151.99,71.34 153.13,71.34 154.28,71.34 155.43,71.34 156.58,71.34 157.73,71.34 158.87,71.34 160.02,71.34 161.17,71.34 162.32,71.34 163.47,71.34 164.61,71.34 165.76,71.34 166.91,71.34 168.06,71.34 169.20,71.34 170.35,71.34 171.50,71.34 172.65,71.34 173.80,71.34 174.94,71.34 176.09,71.34 177.24,71.34 178.39,71.34 179.54,71.34 180.68,71.34 181.83,71.34 182.98,71.34 184.13,71.34 185.28,71.34 186.42,71.34 187.57,71.34 188.72,71.34 189.87,71.34 191.01,71.34 192.16,71.34 193.31,71.34 194.46,71.34 195.61,71.34 196.75,71.34 197.90,71.34 199.05,71.34 200.20,71.34 201.35,71.34 202.49,71.34 203.64,71.34 204.79,71.34 205.94,71.34 207.09,71.34 208.23,71.34 209.38,71.34 210.53,71.34 211.68,71.34 212.82,71.34 213.97,71.34 215.12,71.34 216.27,71.34 217.42,71.34 218.56,71.34 219.71,71.34 220.86,71.34 222.01,71.34 223.16,71.34 224.30,71.34 225.45,71.34 226.60,71.34 227.75,71.34 228.90,71.34 230.04,71.34 231.19,71.34 232.34,71.34 233.49,71.34 234.63,71.34 235.78,71.34 236.93,71.34 238.08,71.34 239.23,71.34 240.37,71.34 241.52,71.34 242.67,71.34 243.82,71.34 244.97,71.34 246.11,71.34 247.26,71.34 248.41,71.34 249.56,71.34 250.71,71.34 251.85,71.34 253.00,71.34 254.15,71.34 255.30,71.34 256.44,71.34 257.59,71.34 258.74,71.34 259.89,71.34 261.04,71.34 262.18,71.34 263.33,71.34 264.48,71.34 265.63,71.34 266.78,71.34 267.92,71.34 269.07,71.34 270.22,71.34 271.37,71.34 272.52,71.34 273.66,71.34 274.81,71.34 275.96,71.34 277.11,71.34 278.25,71.34 279.40,71.34 280.55,71.34 281.70,71.34 282.85,71.34 283.99,71.34 285.14,71.34 286.29,71.34 287.44,71.34 288.59,71.34 289.73,71.34 290.88,71.34 292.03,71.34 293.18,71.34 294.33,71.34 295.47,71.34 296.62,71.34 297.77,71.34 298.92,71.34 300.06,71.34 301.21,71.34 302.36,71.34 303.51,71.34 304.66,71.34 305.80,71.34 306.95,71.34 308.10,71.34 309.25,71.34 310.40,71.34 311.54,71.34 312.69,71.34 313.84,71.34 314.99,71.34 316.14,71.34 317.28,71.34 318.43,71.34 319.58,71.34 320.73,71.34 321.87,71.34 323.02,71.34 324.17,71.34 325.32,71.34 326.47,71.34 327.61,71.34 328.76,71.34 329.91,71.34 331.06,71.34 332.21,71.34 333.35,71.34 334.50,71.34 335.65,71.34 336.80,71.34 337.95,71.34 339.09,71.34 340.24,71.34 341.39,71.34 342.54,71.34 343.68,71.34 344.83,71.34 345.98,71.34 347.13,71.34 348.28,71.34 349.42,71.34 350.57,71.34 351.72,71.34 352.87,71.34 354.02,71.34 355.16,71.34 356.31,71.34 357.46,71.34 358.61,71.34 359.76,71.34 360.90,71.34 362.05,71.34 363.20,71.34 364.35,71.34 365.49,71.34 366.64,71.34 367.79,71.34 368.94,71.34 370.09,71.34 371.23,71.34 372.38,71.34 373.53,71.34 374.68,71.34 375.83,71.34 376.97,71.34 378.12,71.34 379.27,71.34 380.42,71.34 381.57,71.34 382.71,71.34 383.86,71.34 385.01,71.34 386.16,71.34 387.31,71.34 388.45,71.34 389.60,71.34 390.75,71.34 391.90,71.34 393.04,71.34 394.19,71.34 395.34,71.34 396.49,71.34 397.64,71.34 398.78,71.34 399.93,71.34 401.08,71.34 402.23,71.34 403.38,71.34 404.52,71.34 405.67,71.34 406.82,71.34 407.97,71.34 409.12,71.34 410.26,71.34 411.41,71.34 412.56,71.34 413.71,71.34 414.85,71.34 416.00,71.34 417.15,71.34 418.30,71.34 419.45,71.34 420.59,71.34 421.74,71.34 422.89,71.34 424.04,71.34 425.19,71.34 426.33,71.34 427.48,71.34 428.63,71.34 429.78,71.34 430.93,71.34 432.07,71.34 433.22,71.34 434.37,71.34 435.52,71.34 436.66,71.34 437.81,71.34 438.96,71.34 440.11,71.34 441.26,71.34 442.40,71.34 443.55,71.34 444.70,71.34 445.85,71.34 447.00,71.34 448.14,71.34 449.29,71.34 450.44,71.34 451.59,71.34 452.74,71.34 453.88,71.34 455.03,71.34 456.18,71.34 457.33,71.34 458.47,71.34 459.62,71.34 460.77,71.34 461.92,71.34 463.07,71.34 464.21,71.34 465.36,71.34 466.51,71.34 467.66,71.34 468.81,71.34 469.95,71.34 471.10,71.34 472.25,71.34 473.40,71.34 474.55,71.34 475.69,71.34 476.84,71.34 477.99,71.34 479.14,71.34 480.28,71.34 481.43,71.34 482.58,71.34 483.73,71.34 484.88,71.34 486.02,71.34 487.17,71.34 488.32,71.34 489.47,71.34 490.62,71.34 491.76,71.34 492.91,71.34 494.06,71.34 495.21,71.34 496.36,71.34 497.50,71.34 498.65,71.34 499.80,71.34 500.95,71.34 502.09,71.34 503.24,71.34 504.39,71.34 505.54,71.34 506.69,71.34 507.83,71.34 508.98,71.34 510.13,71.34 511.28,71.34 512.43,71.34 513.57,71.34 514.72,71.34 515.87,71.34 517.02,71.34 518.17,71.34 519.31,71.34 520.46,71.34 521.61,71.34 522.76,71.34 523.90,71.34 525.05,71.34 526.20,71.34 527.35,71.34 528.50,71.34 529.64,71.34 530.79,71.34 531.94,71.34 533.09,71.34 534.24,71.34 535.38,71.34 536.53,71.34 537.68,71.34 538.83,71.34 539.98,71.34 541.12,71.34 542.27,71.34 543.42,71.34 544.57,71.34 545.71,71.34 546.86,71.34 548.01,71.34 549.16,71.34 550.31,71.34 551.45,71.34 552.60,71.34 553.75,71.34 554.90,71.34 556.05,71.34 557.19,71.34 558.34,71.34 559.49,71.34 560.64,71.34 561.79,71.34 562.93,71.34 564.08,71.34 565.23,71.34 566.38,71.34 567.52,71.34 568.67,71.34 569.82,71.34 570.97,71.34 572.12,71.34 573.26,71.34 574.41,71.34 575.56,71.34 576.71,71.34 577.86,71.34 579.00,71.34 580.15,71.34 581.30,71.34 582.45,71.34 583.60,71.34 584.74,71.34 585.89,71.34 587.04,71.34 588.19,71.34 589.33,71.34 590.48,71.34 591.63,71.34 592.78,71.34 593.93,71.34 595.07,71.34 596.22,71.34 597.37,71.34 598.52,71.34 599.67,71.34 600.81,71.34 601.96,71.34 603.11,71.34 604.26,71.34 605.41,71.34 606.55,71.34 607.70,71.34 608.85,71.34 610.00,71.34 611.14,71.34 612.29,71.34 613.44,71.34 614.59,71.34 615.74,71.34 616.88,71.34 618.03,71.34 619.18,71.34 620.33,71.34 621.48,71.34 622.62,71.34 623.77,71.34 624.92,71.34 626.07,71.34 627.22,71.34 628.36,71.34 629.51,71.34 630.66,71.34 631.81,71.34 632.95,71.34 634.10,71.34 635.25,71.34 636.40,71.34 637.55,71.34 638.69,71.34 639.84,71.34 640.99,71.34 642.14,71.34 643.29,71.34 644.43,71.34 645.58,71.34 646.73,71.34 647.88,71.34 649.03,71.34 650.17,71.34 651.32,71.34 652.47,71.34 653.62,71.34 654.76,71.34 655.91,71.34 657.06,71.34 658.21,71.34 659.36,71.34 660.50,71.34 661.65,71.34 662.80,71.34"/>
<path fill="#800080" d="M87.6,204.25a2.4,2.4 0 1,0 4.8,0a2.4,2.4 0 1,0 -4.8,0zM88.75,201.54a2.4,2.4 0 1,0 4.8,0a2.4,2.4 0 1,0 -4.8,0zM89.9,198.83a2.4,2.4 0 1,0 4.8,0a2.4,2.4 0 1,0 -4.8,0zM91.04,196.11a2.4,2.4 0 1,0 4.8,0a2.4,2.4 0 1,0 -4.8,0zM92.19,193.4a2.4,2.4 0 1,0 4.8,0a2.4,2.4 0 1,0 -4.8,0zM93.34,190.69a2.4,2.4 0 1,0 4.8,0a2.4,2.4 0 1,0 -4.8,0zM94.49,187.98a2.4,2.4 0 1,0 4.8,0a2.4,2.4 0 1,0 -4.8,0zM95.64,185.26a2.4,2.4 0 1,0 4.8,0a2.4,2.4 0 1,0 -4.8,0zM96.78,182.55a2.4,2.4 0 1,0 4.8,0a2.4,2.4 0 1,0 -4.8,0zM97.93,179.84a2.4,2.4 0 1,0 4.8,0a2.4,2.4 0 1,0 -4.8,0zM99.08,177.13a2.4,2.4 0 1,0 4.8,0a2.4,2.4 0 1,0 -4.8,0zM100.23,174.41a2.4,2.4 0 1,0 4.8,0a2.4,2.4 0 1,0 -4.8,0zM101.37,171.7a2.4,2.4 0 1,0 4.8,0a2.4,2.4 0 1,0 -4.8,0zM102.52,168.99a2.4,2.4 0 1,0 4.8,0a2.4,2.4 0 1,0 -4.8,0zM103.67,166.28a2.4,2.4 0 1,0 4.8,0a2.4,2.4 0 1,0 -4.8,0zM104.82,163.56a2.4,2.4 0 1,0 4.8,0a2.4,2.4 0 1,0 -4.8,0zM105.97,160.85a2.4,2.4 0 1,0 4.8,0a2.4,2.4 0 1,0 -4.8,0zM107.11,158.14a2.4,2.4 0 1,0 4.8,0a2.4,2.4 0 1,0 -4.8,0zM108.26,155.43a2.4,2.4 0 1,0 4.8,0a2.4,2.4 0 1,0 -4.8,0zM109.41,152.72a2.4,2.4 0 1,0 4.8,0a2.4,2.4 0 1,0 -4.8,0zM110.56,150a2.4,2.4 0 1,0 4.8,0a2.4,2.4 0 1,0 -4.8,0zM111.71,147.29a2.4,2.4 0 1,0 4.8,0a2.4,2.4 0 1,0 -4.8,0zM112.85,144.58a2.4,2.4 0 1,0 4.8,0a2.4,2.4 0 1,0 -4.8,0zM114,141.87a2.4,2.4 0 1,0 4.8,0a2.4,2.4 0 1,0 -4.8,0zM115.15,139.15a2.4,2.4 0 1,0 4.8,0a2.4,2.4 0 1,0 -4.8,0zM116.3,136.44a2.4,2.4 0 1,0 4.8,0a2.4,2.4 0 1,0 -4.8,0zM117.45,133.73a2.4,2.4 0 1,0 4.8,0a2.4,2.4 0 1,0 -4.8,0zM118.59,131.02a2.4,2.4 0 1,0 4.8,0a2.4,2.4 0 1,0 -4.8,0zM119.74,128.3a2.4,2.4 0 1,0 4.8,0a2.4,2.4 0 1,0 -4.8,0zM120.89,125.59a2.4,2.4 0 1,0 4.8,0a2.4,2.4 0 1,0 -4.8,0zM122.04,122.88a2.4,2.4 0 1,0 4.8,0a2.4,2.4 0 1,0 -4.8,0zM123.18,120.17a2.4,2.4 0 1,0 4.8,0a2.4,2.4 0 1,0 -4.8,0zM124.33,117.45a2.4,2.4 0 1,0 4.8,0a2.4,2.4 0 1,0 -4.8,0zM125.48,114.74a2.4,2.4 0 1,0 4.8,0a2.4,2.4 0 1,0 -4.8,0zM126.63,112.03a2.4,2.4 0 1,0 4.8,0a2.4,2.4 0 1,0 -4.8,0zM127.78,109.32a2.4,2.4 0 1,0 4.8,0a2.4,2.4 0 1,0 -4.8,0zM128.92,106.6a2.4,2.4 0 1,0 4.8,0a2.4,2.4 0 1,0 -4.8,0zM130.07,103.89a2.4,2.4 0 1,0 4.8,0a2.4,2.4 0 1,0 -4.8,0zM131.22,101.18a2.4,2.4 0 1,0 4.8,0a2.4,2.4 0 1,0 -4.8,0zM132.37,98.47a2.4,2.4 0 1,0 4.8,0a2.4,2.4 0 1,0 -4.8,0zM133.52,95.76a2.4,2.4 0 1,0 4.8,0a2.4,2.4 0 1,0 -4.8,0zM134.66,93.04a2.4,2.4 0 1,0 4.8,0a2.4,2.4 0 1,0 -4.8,0zM135.81,90.33a2.4,2.4 0 1,0 4.8,0a2.4,2.4 0 1,0 -4.8,0zM136.96,87.62a2.4,2.4 0 1,0 4.8,0a2.4,2.4 0 1,0 -4.8,0zM138.11,84.91a2.4,2.4 0 1,0 4.8,0a2.4,2.4 0 1,0 -4.8,0zM139.26,82.19a2.4,2.4 0 1,0 4.8,0a2.4,2.4 0 1,0 -4.8,0zM140.4,79.48a2.4,2.4 0 1,0 4.8,0a2.4,2.4 0 1,0 -4.8,0zM141.55,76.77a2.4,2.4 0 1,0 4.8,0a2.4,2.4 0 1,0 -4.8,0zM142.7,74.06a2.4,2.4 0 1,0 4.8,0a2.4,2.4 0 1,0 -4.8,0zM143.85,71.34a2.4,2.4 0 1,0 4.8,0a2.4,2.4 0 1,0 -4.8,0zM144.99,71.34a2.4,2.4 0 1,0 4.8,0a2.4,2.4 0 1,0 -4.8,0zM146.14,71.34a2.4,2.4 0 1,0 4.8,0a2.4,2.4 0 1,0 -4.8,0zM147.29,71.34a2.4,2.4 0 1,0 4.8,0a2.4,2.4 0 1,0 -4.8,0zM148.44,71.34a2.4,2.4 0 1,0 4.8,0a2.4,2.4 0 1,0 -4.8,0zM149.59,71.34a2.4,2.4 0 1,0 4.8,0a2.4,2.4 0 1,0 -4.8,0zM150.73,71.34a2.4,2.4 0 1,0 4.8,0a2.4,2.4 0 1,0 -4.8,0zM151.88,71.34a2.4,2.4 0 1,0 4.8,0a2.4,2.4 0 1,0 -4.8,0zM153.03,71.34a2.4,2.4 0 1,0 4.8,0a2.4,2.4 0 1,0 -4.8,0zM154.18,71.34a2.4,2.4 0 1,0 4.8,0a2.4,2.4 0 1,0 -4.8,0zM155.33,71.34a2.4,2.4 0 1,0 4.8,0a2.4,2.4 0 1,0 -4.8,0zM156.47,71.34a2.4,2.4 0 1,0 4.8,0a2.4,2.4 0 1,0 -4.8,0zM157.62,71.34a2.4,2.4 0 1,0 4.8,0a2.4,2.4 0 1,0 -4.8,0zM158.77,71.34a2.4,2.4 0 1,0 4.8,0a2.4,2.4 0 1,0 -4.8,0zM159.92,71.34a2.4,2.4 0 1,0 4.8,0a2.4,2.4 0 1,0 -4.8,0zM161.07,71.34a2.4,2.4 0 1,0 4.8,0a2.4,2.4 0 1,0 -4.8,0zM162.21,71.34a2.4,2.4 0 1,0 4.8,0a2.4,2.4 0 1,0 -4.8,0zM163.36,71.34a2.4,2.4 0 1,0 4.8,0a2.4,2.4 0 1,0 -4.8,0zM164.51,71.34a2.4,2.4 0 1,0 4.8,0a2.4,2.4 0 1,0 -4.8,0zM165.66,71.34a2.4,2.4 0 1,0 4.8,0a2.4,2.4 0 1,0 -4.8,0zM166.8,71.34a2.4,2.4 0 1,0 4.8,0a2.4,2.4 0 1,0 -4.8,0zM167.95,71.34a2.4,2.4 0 1,0 4.8,0a2.4,2.4 0 1,0 -4.8,0zM169.1,71.34a2.4,2.4 0 1,0 4.8,0a2.4,2.4 0 1,0 -4.8,0zM170.25,71.34a2.4,2.4 0 1,0 4.8,0a2.4,2.4 0 1,0 -4.8,0zM171.4,71.34a2.4,2.4 0 1,0 4.8,0a2.4,2.4 0 1,0 -4.8,0zM172.54,71.34a2.4,2.4 0 1,0 4.8,0a2.4,2.4 0 1,0 -4.8,0zM173.69,71.34a2.4,2.4 0 1,0 4.8,0a2.4,2.4 0 1,0 -4.8,0zM174.84,71.34a2.4,2.4 0 1,0 4.8,0a2.4,2.4 0 1,0 -4.8,0zM175.99,71.34a2.4,2.4 0 1,0 4.8,0a2.4,2.4 0 1,0 -4.8,0zM177.14,71.34a2.4,2.4 0 1,0 4.8,0a2.4,2.4 0 1,0 -4.8,0zM178.28,71.34a2.4,2.4 0 1,0 4.8,0a2.4,2.4 0 1,0 -4.8,0zM179.43,71.34a2.4,2.4 0 1,0 4.8,0a2.4,2.4 0 1,0 -4.8,0zM180.58,71.34a2.4,2.4 0 1,0 4.8,0a2.4,2.4 0 1,0 -4.8,0zM181.73,71.34a2.4,2.4 0 1,0 4.8,0a2.4,2.4 0 1,0 -4.8,0zM182.88,71.34a2.4,2.4 0 1,0 4.8,0a2.4,2.4 0 1,0 -4.8,0zM184.02,71.34a2.4,2.4 0 1,0 4.8,0a2.4,2.4 0 1,0 -4.8,0zM185.17,71.34a2.4,2.4 0 1,0 4.8,0a2.4,2.4 0 1,0 -4.8,0zM186.32,71.34a2.4,2.4 0 1,0 4.8,0a2.4,2.4 0 1,0 -4.8,0zM187.47,71.34a2.4,2.4 0 1,0 4.8,0a2.4,2.4 0 1,0 -4.8,0zM188.61,71.34a2.4,2.4 0 1,0 4.8,0a2.4,2.4 0 1,0 -4.8,0zM189.76,71.34a2.4,2.4 0 1,0 4.8,0a2.4,2.4 0 1,0 -4.8,0zM190.91,71.34a2.4,2.4 0 1,0 4.8,0a2.4,2.4 0 1,0 -4.8,0zM192.06,71.34a2.4,2.4 0 1,0 4.8,0a2.4,2.4 0 1,0 -4.8,0zM193.21,71.34a2.4,2.4 0 1,0 4.8,0a2.4,2.4 0 1,0 -4.8,0zM194.35,71.34a2.4,2.4 0 1,0 4.8,0a2.4,2.4 0 1,0 -4.8,0zM195.5,71.34a2.4,2.4 0 1,0 4.8,0a2.4,2.4 0 1,0 -4.8,0zM196.65,71.34a2.4,2.4 0 1,0 4.8,0a2.4,2.4 0 1,0 -4.8,0zM197.8,71.34a2.4,2.4 0 1,0 4.8,0a2.4,2.4 0 1,0 -4.8,0zM198.95,71.34a2.4,2.4 0 1,0 4.8,0a2.4,2.4 0 1,0 -4.8,0zM200.09,71.34a2.4,2.4 0 1,0 4.8,0a2.4,2.4 0 1,0 -4.8,0zM201.24,71.34a2.4,2.4 0 1,0 4.8,0a2.4,2.4 0 1,0 -4.8,0zM202.39,71.34a2.4,2.4 0 1,0 4.8,0a2.4,2.4 0 1,0 -4.8,0zM203.54,71.34a2.4,2.4 0 1,0 4.8,0a2.4,2.4 0 1,0 -4.8,0zM204.69,71.34a2.4,2.4 0 1,0 4.8,0a2.4,2.4 0 1,0 -4.8,0zM205.83,71.34a2.4,2.4 0 1,0 4.8,0a2.4,2.4 0 1,0 -4.8,0zM206.98,71.34a2.4,2.4 0 1,0 4.8,0a2.4,2.4 0 1,0 -4.8,0zM208.13,71.34a2.4,2.4 0 1,0 4.8,0a2.4,2.4 0 1,0 -4.8,0zM209.28,71.34a2.4,2.4 0 1,0 4.8,0a2.4,2.4 0 1,0 -4.8,0zM210.42,71.34a2.4,2.4 0 1,0 4.8,0a2.4,2.4 0 1,0 -4.8,0zM211.57,71.34a2.4,2.4 0 1,0 4.8,0a2.4,2.4 0 1,0 -4.8,0zM212.72,71.34a2.4,2.4 0 1,0 4.8,0a2.4,2.4 0 1,0 -4.8,0zM213.87,71.34a2.4,2.4 0 1,0 4.8,0a2.4,2.4 0 1,0 -4.8,0zM215.02,71.34a2.4,2.4 0 1,0 4.8,0a2.4,2.4 0 1,0 -4.8,0zM216.16,71.34a2.4,2.4 0 1,0 4.8,0a2.4,2.4 0 1,0 -4.8,0zM217.31,71.34a2.4,2.4 0 1,0 4.8,0a2.4,2.4 0 1,0 -4.8,0zM218.46,71.34a2.4,2.4 0 1,0 4.8,0a2.4,2.4 0 1,0 -4.8,0zM219.61,71.34a2.4,2.4 0 1,0 4.8,0a2.4,2.4 0 1,0 -4.8,0zM220.76,71.34a2.4,2.4 0 1,0 4.8,0a2.4,2.4 0 1,0 -4.8,0zM221.9,71.34a2.4,2.4 0 1,0 4.8,0a2.4,2.4 0 1,0 -4.8,0zM223.05,71.34a2.4,2.4 0 1,0 4.8,0a2.4,2.4 0 1,0 -4.8,0zM224.2,71.34a2.4,2.4 0 1,0 4.8,0a2.4,2.4 0 1,0 -4.8,0zM225.35,71.34a2.4,2.4 0 1,0 4.8,0a2.4,2.4 0 1,0 -4.8,0zM226.5,71.34a2.4,2.4 0 1,0 4.8,0a2.4,2.4 0 1,0 -4.8,0zM227.64,71.34a2.4,2.4 0 1,0 4.8,0a2.4,2.4 0 1,0 -4.8,0zM228.79,71.34a2.4,2.4 0 1,0 4.8,0a2.4,2.4 0 1,0 -4.8,0zM229.94,71.34a2.4,2.4 0 1,0 4.8,0a2.4,2.4 0 1,0 -4.8,0zM231.09,71.34a2.4,2.4 0 1,0 4.8,0a2.4,2.4 0 1,0 -4.8,0zM232.23,71.34a2.4,2.4 0 1,0 4.8,0a2.4,2.4 0 1,0 -4.8,0zM233.38,71.34a2.4,2.4 0 1,0 4.8,0a2.4,2.4 0 1,0 -4.8,0zM234.53,71.34a2.4,2.4 0 1,0 4.8,0a2.4,2.4 0 1,0 -4.8,0zM235.68,71.34a2.4,2.4 0 1,0 4.8,0a2.4,2.4 0 1,0 -4.8,0zM236.83,71.34a2.4,2.4 0 1,0 4.8,0a2.4,2.4 0 1,0 -4.8,0zM237.97,71.34a2.4,2.4 0 1,0 4.8,0a2.4,2.4 0 1,0 -4.8,0zM239.12,71.34a2.4,2.4 0 1,0 4.8,0a2.4,2.4 0 1,0 -4.8,0zM240.27,71.34a2.4,2.4 0 1,0 4.8,0a2.4,2.4 0 1,0 -4.8,0zM241.42,71.34a2.4,2.4 0 1,0 4.8,0a2.4,2.4 0 1,0 -4.8,0zM242.57,71.34a2.4,2.4 0 1,0 4.8,0a2.4,2.4 0 1,0 -4.8,0zM243.71,71.34a2.4,2.4 0 1,0 4.8,0a2.4,2.4 0 1,0 -4.8,0zM244.86,71.34a2.4,2.4 0 1,0 4.8,0a2.4,2.4 0 1,0 -4.8,0zM246.01,71.34a2.4,2.4 0 1,0 4.8,0a2.4,2.4 0 1,0 -4.8,0zM247.16,71.34a2.4,2.4 0 1,0 4.8,0a2.4,2.4 0 1,0 -4.8,0zM248.31,71.34a2.4,2.4 0 1,0 4.8,0a2.4,2.4 0 1,0 -4.8,0zM249.45,71.34a2.4,2.4 0 1,0 4.8,0a2.4,2.4 0 1,0 -4.8,0zM250.6,71.34a2.4,2.4 0 1,0 4.8,0a2.4,2.4 0 1,0 -4.8,0zM251.75,71.34a2.4,2.4 0 1,0 4.8,0a2.4,2.4 0 1,0 -4.8,0zM252.9,71.34a2.4,2.4 0 1,0 4.8,0a2.4,2.4 0 1,0 -4.8,0zM254.04,71.34a2.4,2.4 0 1,0 4.8,0a2.4,2.4 0 1,0 -4.8,0zM255.19,71.34a2.4,2.4 0 1,0 4.8,0a2.4,2.4 0 1,0 -4.8,0zM256.34,71.34a2.4,2.4 0 1,0 4.8,0a2.4,2.4 0 1,0 -4.8,0zM257.49,71.34a2.4,2.4 0 1,0 4.8,0a2.4,2.4 0 1,0 -4.8,0zM258.64,71.34a2.4,2.4 0 1,0 4.8,0a2.4,2.4 0 1,0 -4.8,0zM259.78,71.34a2.4,2.4 0 1,0 4.8,0a2.4,2.4 0 1,0 -4.8,0zM260.93,71.34a2.4,2.4 0 1,0 4.8,0a2.4,2.4 0 1,0 -4.8,0zM262.08,71.34a2.4,2.4 0 1,0 4.8,0a2.4,2.4 0 1,0 -4.8,0zM263.23,71.34a2.4,2.4 0 1,0 4.8,0a2.4,2.4 0 1,0 -4.8,0zM264.38,71.34a2.4,2.4 0 1,0 4.8,0a2.4,2.4 0 1,0 -4.8,0zM265.52,71.34a2.4,2.4 0 1,0 4.8,0a2.4,2.4 0 1,0 -4.8,0zM266.67,71.34a2.4,2.4 0 1,0 4.8,0a2.4,2.4 0 1,0 -4.8,0zM267.82,71.34a2.4,2.4 0 1,0 4.8,0a2.4,2.4 0 1,0 -4.8,0zM268.97,71.34a2.4,2.4 0 1,0 4.8,0a2.4,2.4 0 1,0 -4.8,0zM270.12,71.34a2.4,2.4 0 1,0 4.8,0a2.4,2.4 0 1,0 -4.8,0zM271.26,71.34a2.4,2.4 0 1,0 4.8,0a2.4,2.4 0 1,0 -4.8,0zM272.41,71.34a2.4,2.4 0 1,0 4.8,0a2.4,2.4 0 1,0 -4.8,0zM273.56,71.34a2.4,2.4 0 1,0 4.8,0a2.4,2.4 0 1,0 -4.8,0zM274.71,71.34a2.4,2.4 0 1,0 4.8,0a2.4,2.4 0 1,0 -4.8,0zM275.85,71.34a2.4,2.4 0 1,0 4.8,0a2.4,2.4 0 1,0 -4.8,0zM277,71.34a2.4,2.4 0 1,0 4.8,0a2.4,2.4 0 1,0 -4.8,0zM278.15,71.34a2.4,2.4 0 1,0 4.8,0a2.4,2.4 0 1,0 -4.8,0zM279.3,71.34a2.4,2.4 0 1,0 4.8,0a2.4,2.4 0 1,0 -4.8,0zM280.45,71.34a2.4,2.4 0 1,0 4.8,0a2.4,2.4 0 1,0 -4.8,0zM281.59,71.34a2.4,2.4 0 1,0 4.8,0a2.4,2.4 0 1,0 -4.8,0zM282.74,71.34a2.4,2.4 0 1,0 4.8,0a2.4,2.4 0 1,0 -4.8,0zM283.89,71.34a2.4,2.4 0 1,0 4.8,0a2.4,2.4 0 1,0 -4.8,0zM285.04,71.34a2.4,2.4 0 1,0 4.8,0a2.4,2.4 0 1,0 -4.8,0zM286.19,71.34a2.4,2.4 0 1,0 4.8,0a2.4,2.4 0 1,0 -4.8,0zM287.33,71.34a2.4,2.4 0 1,0 4.8,0a2.4,2.4 0 1,0 -4.8,0zM288.48,71.34a2.4,2.4 0 1,0 4.8,0a2.4,2.4 0 1,0 -4.8,0zM289.63,71.34a2.4,2.4 0 1,0 4.8,0a2.4,2.4 0 1,0 -4.8,0zM290.78,71.34a2.4,2.4 0 1,0 4.8,0a2.4,2.4 0 1,0 -4.8,0zM291.93,71.34a2.4,2.4 0 1,0 4.8,0a2.4,2.4 0 1,0 -4.8,0zM293.07,71.34a2.4,2.4 0 1,0 4.8,0a2.4,2.4 0 1,0 -4.8,0zM294.22,71.34a2.4,2.4 0 1,0 4.8,0a2.4,2.4 0 1,0 -4.8,0zM295.37,71.34a2.4,2.4 0 1,0 4.8,0a2.4,2.4 0 1,0 -4.8,0zM296.52,71.34a2.4,2.4 0 1,0 4.8,0a2.4,2.4 0 1,0 -4.8,0zM297.66,71.34a2.4,2.4 0 1,0 4.8,0a2.4,2.4 0 1,0 -4.8,0zM298.81,71.34a2.4,2.4 0 1,0 4.8,0a2.4,2.4 0 1,0 -4.8,0zM299.96,71.34a2.4,2.4 0 1,0 4.8,0a2.4,2.4 0 1,0 -4.8,0zM301.11,71.34a2.4,2.4 0 1,0 4.8,0a2.4,2.4 0 1,0 -4.8,0zM302.26,71.34a2.4,2.4 0 1,0 4.8,0a2.4,2.4 0 1,0 -4.8,0zM303.4,71.34a2.4,2.4 0 1,0 4.8,0a2.4,2.4 0 1,0 -4.8,0zM304.55,71.34a2.4,2.4 0 1,0 4.8,0a2.4,2.4 0 1,0 -4.8,0zM305.7,71.34a2.4,2.4 0 1,0 4.8,0a2.4,2.4 0 1,0 -4.8,0zM306.85,71.34a2.4,2.4 0 1,0 4.8,0a2.4,2.4 0 1,0 -4.8,0zM308,71.34a2.4,2.4 0 1,0 4.8,0a2.4,2.4 0 1,0 -4.8,0zM309.14,71.34a2.4,2.4 0 1,0 4.8,0a2.4,2.4 0 1,0 -4.8,0zM310.29,71.34a2.4,2.4 0 1,0 4.8,0a2.4,2.4 0 1,0 -4.8,0zM311.44,71.34a2.4,2.4 0 1,0 4.8,0a2.4,2.4 0 1,0 -4.8,0zM312.59,71.34a2.4,2.4 0 1,0 4.8,0a2.4,2.4 0 1,0 -4.8,0zM313.74,71.34a2.4,2.4 0 1,0 4.8,0a2.4,2.4 0 1,0 -4.8,0zM314.88,71.34a2.4,2.4 0 1,0 4.8,0a2.4,2.4 0 1,0 -4.8,0zM316.03,71.34a2.4,2.4 0 1,0 4.8,0a2.4,2.4 0 1,0 -4.8,0zM317.18,71.34a2.4,2.4 0 1,0 4.8,0a2.4,2.4 0 1,0 -4.8,0zM318.33,71.34a2.4,2.4 0 1,0 4.8,0a2.4,2.4 0 1,0 -4.8,0zM319.47,71.34a2.4,2.4 0 1,0 4.8,0a2.4,2.4 0 1,0 -4.8,0zM320.62,71.34a2.4,2.4 0 1,0 4.8,0a2.4,2.4 0 1,0 -4.8,0zM321.77,71.34a2.4,2.4 0 1,0 4.8,0a2.4,2.4 0 1,0 -4.8,0zM322.92,71.34a2.4,2.4 0 1,0 4.8,0a2.4,2.4 0 1,0 -4.8,0zM324.07,71.34a2.4,2.4 0 1,0 4.8,0a2.4,2.4 0 1,0 -4.8,0zM325.21,71.34a2.4,2.4 0 1,0 4.8,0a2.4,2.4 0 1,0 -4.8,0zM326.36,71.34a2.4,2.4 0 1,0 4.8,0a2.4,2.4 0 1,0 -4.8,0zM327.51,71.34a2.4,2.4 0 1,0 4.8,0a2.4,2.4 0 1,0 -4.8,0zM328.66,71.34a2.4,2.4 0 1,0 4.8,0a2.4,2.4 0 1,0 -4.8,0zM329.81,71.34a2.4,2.4 0 1,0 4.8,0a2.4,2.4 0 1,0 -4.8,0zM330.95,71.34a2.4,2.4 0 1,0 4.8,0a2.4,2.4 0 1,0 -4.8,0zM332.1,71.34a2.4,2.4 0 1,0 4.8,0a2.4,2.4 0 1,0 -4.8,0zM333.25,71.34a2.4,2.4 0 1,0 4.8,0a2.4,2.4 0 1,0 -4.8,0zM334.4,71.34a2.4,2.4 0 1,0 4.8,0a2.4,2.4 0 1,0 -4.8,0zM335.55,71.34a2.4,2.4 0 1,0 4.8,0a2.4,2.4 0 1,0 -4.8,0zM336.69,71.34a2.4,2.4 0 1,0 4.8,0a2.4,2.4 0 1,0 -4.8,0zM337.84,71.34a2.4,2.4 0 1,0 4.8,0a2.4,2.4 0 1,0 -4.8,0zM338.99,71.34a2.4,2.4 0 1,0 4.8,0a2.4,2.4 0 1,0 -4.8,0zM340.14,71.34a2.4,2.4 0 1,0 4.8,0a2.4,2.4 0 1,0 -4.8,0zM341.28,71.34a2.4,2.4 0 1,0 4.8,0a2.4,2.4 0 1,0 -4.8,0zM342.43,71.34a2.4,2.4 0 1,0 4.8,0a2.4,2.4 0 1,0 -4.8,0zM343.58,71.34a2.4,2.4 0 1,0 4.8,0a2.4,2.4 0 1,0 -4.8,0zM344.73,71.34a2.4,2.4 0 1,0 4.8,0a2.4,2.4 0 1,0 -4.8,0zM345.88,71.34a2.4,2.4 0 1,0 4.8,0a2.4,2.4 0 1,0 -4.8,0zM347.02,71.34a2.4,2.4 0 1,0 4.8,0a2.4,2.4 0 1,0 -4.8,0zM348.17,71.34a2.4,2.4 0 1,0 4.8,0a2.4,2.4 0 1,0 -4.8,0zM349.32,71.34a2.4,2.4 0 1,0 4.8,0a2.4,2.4 0 1,0 -4.8,0zM350.47,71.34a2.4,2.4 0 1,0 4.8,0a2.4,2.4 0 1,0 -4.8,0zM351.62,71.34a2.4,2.4 0 1,0 4.8,0a2.4,2.4 0 1,0 -4.8,0zM352.76,71.34a2.4,2.4 0 1,0 4.8,0a2.4,2.4 0 1,0 -4.8,0zM353.91,71.34a2.4,2.4 0 1,0 4.8,0a2.4,2.4 0 1,0 -4.8,0zM355.06,71.34a2.4,2.4 0 1,0 4.8,0a2.4,2.4 0 1,0 -4.8,0zM356.21,71.34a2.4,2.4 0 1,0 4.8,0a2.4,2.4 0 1,0 -4.8,0zM357.36,71.34a2.4,2.4 0 1,0 4.8,0a2.4,2.4 0 1,0 -4.8,0zM358.5,71.34a2.4,2.4 0 1,0 4.8,0a2.4,2.4 0 1,0 -4.8,0zM359.65,71.34a2.4,2.4 0 1,0 4.8,0a2.4,2.4 0 1,0 -4.8,0zM360.8,71.34a2.4,2.4 0 1,0 4.8,0a2.4,2.4 0 1,0 -4.8,0zM361.95,71.34a2.4,2.4 0 1,0 4.8,0a2.4,2.4 0 1,0 -4.8,0zM363.09,71.34a2.4,2.4 0 1,0 4.8,0a2.4,2.4 0 1,0 -4.8,0zM364.24,71.34a2.4,2.4 0 1,0 4.8,0a2.4,2.4 0 1,0 -4.8,0zM365.39,71.34a2.4,2.4 0 1,0 4.8,0a2.4,2.4 0 1,0 -4.8,0zM366.54,71.34a2.4,2.4 0 1,0 4.8,0a2.4,2.4 0 1,0 -4.8,0zM367.69,71.34a2.4,2.4 0 1,0 4.8,0a2.4,2.4 0 1,0 -4.8,0zM368.83,71.34a2.4,2.4 0 1,0 4.8,0a2.4,2.4 0 1,0 -4.8,0zM369.98,71.34a2.4,2.4 0 1,0 4.8,0a2.4,2.4 0 1,0 -4.8,0zM371.13,71.34a2.4,2.4 0 1,0 4.8,0a2.4,2.4 0 1,0 -4.8,0zM372.28,71.34a2.4,2.4 0 1,0 4.8,0a2.4,2.4 0 1,0 -4.8,0zM373.43,71.34a2.4,2.4 0 1,0 4.8,0a2.4,2.4 0 1,0 -4.8,0zM374.57,71.34a2.4,2.4 0 1,0 4.8,0a2.4,2.4 0 1,0 -4.8,0zM375.72,71.34a2.4,2.4 0 1,0 4.8,0a2.4,2.4 0 1,0 -4.8,0zM376.87,71.34a2.4,2.4 0 1,0 4.8,0a2.4,2.4 0 1,0 -4.8,0zM378.02,71.34a2.4,2.4 0 1,0 4.8,0a2.4,2.4 0 1,0 -4.8,0zM379.17,71.34a2.4,2.4 0 1,0 4.8,0a2.4,2.4 0 1,0 -4.8,0zM380.31,71.34a2.4,2.4 0 1,0 4.8,0a2.4,2.4 0 1,0 -4.8,0zM381.46,71.34a2.4,2.4 0 1,0 4.8,0a2.4,2.4 0 1,0 -4.8,0zM382.61,71.34a2.4,2.4 0 1,0 4.8,0a2.4,2.4 0 1,0 -4.8,0zM383.76,71.34a2.4,2.4 0 1,0 4.8,0a2.4,2.4 0 1,0 -4.8,0zM384.91,71.34a2.4,2.4 0 1,0 4.8,0a2.4,2.4 0 1,0 -4.8,0zM386.05,71.34a2.4,2.4 0 1,0 4.8,0a2.4,2.4 0 1,0 -4.8,0zM387.2,71.34a2.4,2.4 0 1,0 4.8,0a2.4,2.4 0 1,0 -4.8,0zM388.35,71.34a2.4,2.4 0 1,0 4.8,0a2.4,2.4 0 1,0 -4.8,0zM389.5,71.34a2.4,2.4 0 1,0 4.8,0a2.4,2.4 0 1,0 -4.8,0zM390.64,71.34a2.4,2.4 0 1,0 4.8,0a2.4,2.4 0 1,0 -4.8,0zM391.79,71.34a2.4,2.4 0 1,0 4.8,0a2.4,2.4 0 1,0 -4.8,0zM392.94,71.34a2.4,2.4 0 1,0 4.8,0a2.4,2.4 0 1,0 -4.8,0zM394.09,71.34a2.4,2.4 0 1,0 4.8,0a2.4,2.4 0 1,0 -4.8,0zM395.24,71.34a2.4,2.4 0 1,0 4.8,0a2.4,2.4 0 1,0 -4.8,0zM396.38,71.34a2.4,2.4 0 1,0 4.8,0a2.4,2.4 0 1,0 -4.8,0zM397.53,71.34a2.4,2.4 0 1,0 4.8,0a2.4,2.4 0 1,0 -4.8,0zM398.68,71.34a2.4,2.4 0 1,0 4.8,0a2.4,2.4 0 1,0 -4.8,0zM399.83,71.34a2.4,2.4 0 1,0 4.8,0a2.4,2.4 0 1,0 -4.8,0zM400.98,71.34a2.4,2.4 0 1,0 4.8,0a2.4,2.4 0 1,0 -4.8,0zM402.12,71.34a2.4,2.4 0 1,0 4.8,0a2.4,2.4 0 1,0 -4.8,0zM403.27,71.34a2.4,2.4 0 1,0 4.8,0a2.4,2.4 0 1,0 -4.8,0zM404.42,71.34a2.4,2.4 0 1,0 4.8,0a2.4,2.4 0 1,0 -4.8,0zM405.57,71.34a2.4,2.4 0 1,0 4.8,0a2.4,2.4 0 1,0 -4.8,0zM406.72,71.34a2.4,2.4 0 1,0 4.8,0a2.4,2.4 0 1,0 -4.8,0zM407.86,71.34a2.4,2.4 0 1,0 4.8,0a2.4,2.4 0 1,0 -4.8,0zM409.01,71.34a2.4,2.4 0 1,0 4.8,0a2.4,2.4 0 1,0 -4.8,0zM410.16,71.34a2.4,2.4 0 1,0 4.8,0a2.4,2.4 0 1,0 -4.8,0zM411.31,71.34a2.4,2.4 0 1,0 4.8,0a2.4,2.4 0 1,0 -4.8,0zM412.45,71.34a2.4,2.4 0 1,0 4.8,0a2.4,2.4 0 1,0 -4.8,0zM413.6,71.34a2.4,2.4 0 1,0 4.8,0a2.4,2.4 0 1,0 -4.8,0zM414.75,71.34a2.4,2.4 0 1,0 4.8,0a2.4,2.4 0 1,0 -4.8,0zM415.9,71.34a2.4,2.4 0 1,0 4.8,0a2.4,2.4 0 1,0 -4.8,0zM417.05,71.34a2.4,2.4 0 1,0 4.8,0a2.4,2.4 0 1,0 -4.8,0zM418.19,71.34a2.4,2.4 0 1,0 4.8,0a2.4,2.4 0 1,0 -4.8,0zM419.34,71.34a2.4,2.4 0 1,0 4.8,0a2.4,2.4 0 1,0 -4.8,0zM420.49,71.34a2.4,2.4 0 1,0 4.8,0a2.4,2.4 0 1,0 -4.8,0zM421.64,71.34a2.4,2.4 0 1,0 4.8,0a2.4,2.4 0 1,0 -4.8,0zM422.79,71.34a2.4,2.4 0 1,0 4.8,0a2.4,2.4 0 1,0 -4.8,0zM423.93,71.34a2.4,2.4 0 1,0 4.8,0a2.4,2.4 0 1,0 -4.8,0zM425.08,71.34a2.4,2.4 0 1,0 4.8,0a2.4,2.4 0 1,0 -4.8,0zM426.23,71.34a2.4,2.4 0 1,0 4.8,0a2.4,2.4 0 1,0 -4.8,0zM427.38,71.34a2.4,2.4 0 1,0 4.8,0a2.4,2.4 0 1,0 -4.8,0zM428.53,71.34a2.4,2.4 0 1,0 4.8,0a2.4,2.4 0 1,0 -4.8,0zM429.67,71.34a2.4,2.4 0 1,0 4.8,0a2.4,2.4 0 1,0 -4.8,0zM430.82,71.34a2.4,2.4 0 1,0 4.8,0a2.4,2.4 0 1,0 -4.8,0zM431.97,71.34a2.4,2.4 0 1,0 4.8,0a2.4,2.4 0 1,0 -4.8,0zM433.12,71.34a2.4,2.4 0 1,0 4.8,0a2.4,2.4 0 1,0 -4.8,0zM434.26,71.34a2.4,2.4 0 1,0 4.8,0a2.4,2.4 0 1,0 -4.8,0zM435.41,71.34a2.4,2.4 0 1,0 4.8,0a2.4,2.4 0 1,0 -4.8,0zM436.56,71.34a2.4,2.4 0 1,0 4.8,0a2.4,2.4 0 1,0 -4.8,0zM437.71,71.34a2.4,2.4 0 1,0 4.8,0a2.4,2.4 0 1,0 -4.8,0zM438.86,71.34a2.4,2.4 0 1,0 4.8,0a2.4,2.4 0 1,0 -4.8,0zM440,71.34a2.4,2.4 0 1,0 4.8,0a2.4,2.4 0 1,0 -4.8,0zM441.15,71.34a2.4,2.4 0 1,0 4.8,0a2.4,2.4 0 1,0 -4.8,0zM442.3,71.34a2.4,2.4 0 1,0 4.8,0a2.4,2.4 0 1,0 -4.8,0zM443.45,71.34a2.4,2.4 0 1,0 4.8,0a2.4,2.4 0 1,0 -4.8,0zM444.6,71.34a2.4,2.4 0 1,0 4.8,0a2.4,2.4 0 1,0 -4.8,0zM445.74,71.34a2.4,2.4 0 1,0 4.8,0a2.4,2.4 0 1,0 -4.8,0zM446.89,71.34a2.4,2.4 0 1,0 4.8,0a2.4,2.4 0 1,0 -4.8,0zM448.04,71.34a2.4,2.4 0 1,0 4.8,0a2.4,2.4 0 1,0 -4.8,0zM449.19,71.34a2.4,2.4 0 1,0 4.8,0a2.4,2.4 0 1,0 -4.8,0zM450.34,71.34a2.4,2.4 0 1,0 4.8,0a2.4,2.4 0 1,0 -4.8,0zM451.48,71.34a2.4,2.4 0 1,0 4.8,0a2.4,2.4 0 1,0 -4.8,0zM452.63,71.34a2.4,2.4 0 1,0 4.8,0a2.4,2.4 0 1,0 -4.8,0zM453.78,71.34a2.4,2.4 0 1,0 4.8,0a2.4,2.4 0 1,0 -4.8,0zM454.93,71.34a2.4,2.4 0 1,0 4.8,0a2.4,2.4 0 1,0 -4.8,0zM456.07,71.34a2.4,2.4 0 1,0 4.8,0a2.4,2.4 0 1,0 -4.8,0zM457.22,71.34a2.4,2.4 0 1,0 4.8,0a2.4,2.4 0 1,0 -4.8,0zM458.37,71.34a2.4,2.4 0 1,0 4.8,0a2.4,2.4 0 1,0 -4.8,0zM459.52,71.34a2.4,2.4 0 1,0 4.8,0a2.4,2.4 0 1,0 -4.8,0zM460.67,71.34a2.4,2.4 0 1,0 4.8,0a2.4,2.4 0 1,0 -4.8,0zM461.81,71.34a2.4,2.4 0 1,0 4.8,0a2.4,2.4 0 1,0 -4.8,0zM462.96,71.34a2.4,2.4 0 1,0 4.8,0a2.4,2.4 0 1,0 -4.8,0zM464.11,71.34a2.4,2.4 0 1,0 4.8,0a2.4,2.4 0 1,0 -4.8,0zM465.26,71.34a2.4,2.4 0 1,0 4.8,0a2.4,2.4 0 1,0 -4.8,0zM466.41,71.34a2.4,2.4 0 1,0 4.8,0a2.4,2.4 0 1,0 -4.8,0zM467.55,71.34a2.4,2.4 0 1,0 4.8,0a2.4,2.4 0 1,0 -4.8,0zM468.7,71.34a2.4,2.4 0 1,0 4.8,0a2.4,2.4 0 1,0 -4.8,0zM469.85,71.34a2.4,2.4 0 1,0 4.8,0a2.4,2.4 0 1,0 -4.8,0zM471,71.34a2.4,2.4 0 1,0 4.8,0a2.4,2.4 0 1,0 -4.8,0zM472.15,71.34a2.4,2.4 0 1,0 4.8,0a2.4,2.4 0 1,0 -4.8,0zM473.29,71.34a2.4,2.4 0 1,0 4.8,0a2.4,2.4 0 1,0 -4.8,0zM474.44,71.34a2.4,2.4 0 1,0 4.8,0a2.4,2.4 0 1,0 -4.8,0zM475.59,71.34a2.4,2.4 0 1,0 4.8,0a2.4,2.4 0 1,0 -4.8,0zM476.74,71.34a2.4,2.4 0 1,0 4.8,0a2.4,2.4 0 1,0 -4.8,0zM477.88,71.34a2.4,2.4 0 1,0 4.8,0a2.4,2.4 0 1,0 -4.8,0zM479.03,71.34a2.4,2.4 0 1,0 4.8,0a2.4,2.4 0 1,0 -4.8,0zM480.18,71.34a2.4,2.4 0 1,0 4.8,0a2.4,2.4 0 1,0 -4.8,0zM481.33,71.34a2.4,2.4 0 1,0 4.8,0a2.4,2.4 0 1,0 -4.8,0zM482.48,71.34a2.4,2.4 0 1,0 4.8,0a2.4,2.4 0 1,0 -4.8,0zM483.62,71.34a2.4,2.4 0 1,0 4.8,0a2.4,2.4 0 1,0 -4.8,0zM484.77,71.34a2.4,2.4 0 1,0 4.8,0a2.4,2.4 0 1,0 -4.8,0zM485.92,71.34a2.4,2.4 0 1,0 4.8,0a2.4,2.4 0 1,0 -4.8,0zM487.07,71.34a2.4,2.4 0 1,0 4.8,0a2.4,2.4 0 1,0 -4.8,0zM488.22,71.34a2.4,2.4 0 1,0 4.8,0a2.4,2.4 0 1,0 -4.8,0zM489.36,71.34a2.4,2.4 0 1,0 4.8,0a2.4,2.4 0 1,0 -4.8,0zM490.51,71.34a2.4,2.4 0 1,0 4.8,0a2.4,2.4 0 1,0 -4.8,0zM491.66,71.34a2.4,2.4 0 1,0 4.8,0a2.4,2.4 0 1,0 -4.8,0zM492.81,71.34a2.4,2.4 0 1,0 4.8,0a2.4,2.4 0 1,0 -4.8,0zM493.96,71.34a2.4,2.4 0 1,0 4.8,0a2.4,2.4 0 1,0 -4.8,0zM495.1,71.34a2.4,2.4 0 1,0 4.8,0a2.4,2.4 0 1,0 -4.8,0zM496.25,71.34a2.4,2.4 0 1,0 4.8,0a2.4,2.4 0 1,0 -4.8,0zM497.4,71.34a2.4,2.4 0 1,0 4.8,0a2.4,2.4 0 1,0 -4.8,0zM498.55,71.34a2.4,2.4 0 1,0 4.8,0a2.4,2.4 0 1,0 -4.8,0zM499.69,71.34a2.4,2.4 0 1,0 4.8,0a2.4,2.4 0 1,0 -4.8,0zM500.84,71.34a2.4,2.4 0 1,0 4.8,0a2.4,2.4 0 1,0 -4.8,0zM501.99,71.34a2.4,2.4 0 1,0 4.8,0a2.4,2.4 0 1,0 -4.8,0zM503.14,71.34a2.4,2.4 0 1,0 4.8,0a2.4,2.4 0 1,0 -4.8,0zM504.29,71.34a2.4,2.4 0 1,0 4.8,0a2.4,2.4 0 1,0 -4.8,0zM505.43,71.34a2.4,2.4 0 1,0 4.8,0a2.4,2.4 0 1,0 -4.8,0zM506.58,71.34a2.4,2.4 0 1,0 4.8,0a2.4,2.4 0 1,0 -4.8,0zM507.73,71.34a2.4,2.4 0 1,0 4.8,0a2.4,2.4 0 1,0 -4.8,0zM508.88,71.34a2.4,2.4 0 1,0 4.8,0a2.4,2.4 0 1,0 -4.8,0zM510.03,71.34a2.4,2.4 0 1,0 4.8,0a2.4,2.4 0 1,0 -4.8,0zM511.17,71.34a2.4,2.4 0 1,0 4.8,0a2.4,2.4 0 1,0 -4.8,0zM512.32,71.34a2.4,2.4 0 1,0 4.8,0a2.4,2.4 0 1,0 -4.8,0zM513.47,71.34a2.4,2.4 0 1,0 4.8,0a2.4,2.4 0 1,0 -4.8,0zM514.62,71.34a2.4,2.4 0 1,0 4.8,0a2.4,2.4 0 1,0 -4.8,0zM515.77,71.34a2.4,2.4 0 1,0 4.8,0a2.4,2.4 0 1,0 -4.8,0zM516.91,71.34a2.4,2.4 0 1,0 4.8,0a2.4,2.4 0 1,0 -4.8,0zM518.06,71.34a2.4,2.4 0 1,0 4.8,0a2.4,2.4 0 1,0 -4.8,0zM519.21,71.34a2.4,2.4 0 1,0 4.8,0a2.4,2.4 0 1,0 -4.8,0zM520.36,71.34a2.4,2.4 0 1,0 4.8,0a2.4,2.4 0 1,0 -4.8,0zM521.5,71.34a2.4,2.4 0 1,0 4.8,0a2.4,2.4 0 1,0 -4.8,0zM522.65,71.34a2.4,2.4 0 1,0 4.8,0a2.4,2.4 0 1,0 -4.8,0zM523.8,71.34a2.4,2.4 0 1,0 4.8,0a2.4,2.4 0 1,0 -4.8,0zM524.95,71.34a2.4,2.4 0 1,0 4.8,0a2.4,2.4 0 1,0 -4.8,0zM526.1,71.34a2.4,2.4 0 1,0 4.8,0a2.4,2.4 0 1,0 -4.8,0zM527.24,71.34a2.4,2.4 0 1,0 4.8,0a2.4,2.4 0 1,0 -4.8,0zM528.39,71.34a2.4,2.4 0 1,0 4.8,0a2.4,2.4 0 1,0 -4.8,0zM529.54,71.34a2.4,2.4 0 1,0 4.8,0a2.4,2.4 0 1,0 -4.8,0zM530.69,71.34a2.4,2.4 0 1,0 4.8,0a2.4,2.4 0 1,0 -4.8,0zM531.84,71.34a2.4,2.4 0 1,0 4.8,0a2.4,2.4 0 1,0 -4.8,0zM532.98,71.34a2.4,2.4 0 1,0 4.8,0a2.4,2.4 0 1,0 -4.8,0zM534.13,71.34a2.4,2.4 0 1,0 4.8,0a2.4,2.4 0 1,0 -4.8,0zM535.28,71.34a2.4,2.4 0 1,0 4.8,0a2.4,2.4 0 1,0 -4.8,0zM536.43,71.34a2.4,2.4 0 1,0 4.8,0a2.4,2.4 0 1,0 -4.8,0zM537.58,71.34a2.4,2.4 0 1,0 4.8,0a2.4,2.4 0 1,0 -4.8,0zM538.72,71.34a2.4,2.4 0 1,0 4.8,0a2.4,2.4 0 1,0 -4.8,0zM539.87,71.34a2.4,2.4 0 1,0 4.8,0a2.4,2.4 0 1,0 -4.8,0zM541.02,71.34a2.4,2.4 0 1,0 4.8,0a2.4,2.4 0 1,0 -4.8,0zM542.17,71.34a2.4,2.4 0 1,0 4.8,0a2.4,2.4 0 1,0 -4.8,0zM543.31,71.34a2.4,2.4 0 1,0 4.8,0a2.4,2.4 0 1,0 -4.8,0zM544.46,71.34a2.4,2.4 0 1,0 4.8,0a2.4,2.4 0 1,0 -4.8,0zM545.61,71.34a2.4,2.4 0 1,0 4.8,0a2.4,2.4 0 1,0 -4.8,0zM546.76,71.34a2.4,2.4 0 1,0 4.8,0a2.4,2.4 0 1,0 -4.8,0zM547.91,71.34a2.4,2.4 0 1,0 4.8,0a2.4,2.4 0 1,0 -4.8,0zM549.05,71.34a2.4,2.4 0 1,0 4.8,0a2.4,2.4 0 1,0 -4.8,0zM550.2,71.34a2.4,2.4 0 1,0 4.8,0a2.4,2.4 0 1,0 -4.8,0zM551.35,71.34a2.4,2.4 0 1,0 4.8,0a2.4,2.4 0 1,0 -4.8,0zM552.5,71.34a2.4,2.4 0 1,0 4.8,0a2.4,2.4 0 1,0 -4.8,0zM553.65,71.34a2.4,2.4 0 1,0 4.8,0a2.4,2.4 0 1,0 -4.8,0zM554.79,71.34a2.4,2.4 0 1,0 4.8,0a2.4,2.4 0 1,0 -4.8,0zM555.94,71.34a2.4,2.4 0 1,0 4.8,0a2.4,2.4 0 1,0 -4.8,0zM557.09,71.34a2.4,2.4 0 1,0 4.8,0a2.4,2.4 0 1,0 -4.8,0zM558.24,71.34a2.4,2.4 0 1,0 4.8,0a2.4,2.4 0 1,0 -4.8,0zM559.39,71.34a2.4,2.4 0 1,0 4.8,0a2.4,2.4 0 1,0 -4.8,0zM560.53,71.34a2.4,2.4 0 1,0 4.8,0a2.4,2.4 0 1,0 -4.8,0zM561.68,71.34a2.4,2.4 0 1,0 4.8,0a2.4,2.4 0 1,0 -4.8,0zM562.83,71.34a2.4,2.4 0 1,0 4.8,0a2.4,2.4 0 1,0 -4.8,0zM563.98,71.34a2.4,2.4 0 1,0 4.8,0a2.4,2.4 0 1,0 -4.8,0zM565.12,71.34a2.4,2.4 0 1,0 4.8,0a2.4,2.4 0 1,0 -4.8,0zM566.27,71.34a2.4,2.4 0 1,0 4.8,0a2.4,2.4 0 1,0 -4.8,0zM567.42,71.34a2.4,2.4 0 1,0 4.8,0a2.4,2.4 0 1,0 -4.8,0zM568.57,71.34a2.4,2.4 0 1,0 4.8,0a2.4,2.4 0 1,0 -4.8,0zM569.72,71.34a2.4,2.4 0 1,0 4.8,0a2.4,2.4 0 1,0 -4.8,0zM570.86,71.34a2.4,2.4 0 1,0 4.8,0a2.4,2.4 0 1,0 -4.8,0zM572.01,71.34a2.4,2.4 0 1,0 4.8,0a2.4,2.4 0 1,0 -4.8,0zM573.16,71.34a2.4,2.4 0 1,0 4.8,0a2.4,2.4 0 1,0 -4.8,0zM574.31,71.34a2.4,2.4 0 1,0 4.8,0a2.4,2.4 0 1,0 -4.8,0zM575.46,71.34a2.4,2.4 0 1,0 4.8,0a2.4,2.4 0 1,0 -4.8,0zM576.6,71.34a2.4,2.4 0 1,0 4.8,0a2.4,2.4 0 1,0 -4.8,0zM577.75,71.34a2.4,2.4 0 1,0 4.8,0a2.4,2.4 0 1,0 -4.8,0zM578.9,71.34a2.4,2.4 0 1,0 4.8,0a2.4,2.4 0 1,0 -4.8,0zM580.05,71.34a2.4,2.4 0 1,0 4.8,0a2.4,2.4 0 1,0 -4.8,0zM581.2,71.34a2.4,2.4 0 1,0 4.8,0a2.4,2.4 0 1,0 -4.8,0zM582.34,71.34a2.4,2.4 0 1,0 4.8,0a2.4,2.4 0 1,0 -4.8,0zM583.49,71.34a2.4,2.4 0 1,0 4.8,0a2.4,2.4 0 1,0 -4.8,0zM584.64,71.34a2.4,2.4 0 1,0 4.8,0a2.4,2.4 0 1,0 -4.8,0zM585.79,71.34a2.4,2.4 0 1,0 4.8,0a2.4,2.4 0 1,0 -4.8,0zM586.93,71.34a2.4,2.4 0 1,0 4.8,0a2.4,2.4 0 1,0 -4.8,0zM588.08,71.34a2.4,2.4 0 1,0 4.8,0a2.4,2.4 0 1,0 -4.8,0zM589.23,71.34a2.4,2.4 0 1,0 4.8,0a2.4,2.4 0 1,0 -4.8,0zM590.38,71.34a2.4,2.4 0 1,0 4.8,0a2.4,2.4 0 1,0 -4.8,0zM591.53,71.34a2.4,2.4 0 1,0 4.8,0a2.4,2.4 0 1,0 -4.8,0zM592.67,71.34a2.4,2.4 0 1,0 4.8,0a2.4,2.4 0 1,0 -4.8,0zM593.82,71.34a2.4,2.4 0 1,0 4.8,0a2.4,2.4 0 1,0 -4.8,0zM594.97,71.34a2.4,2.4 0 1,0 4.8,0a2.4,2.4 0 1,0 -4.8,0zM596.12,71.34a2.4,2.4 0 1,0 4.8,0a2.4,2.4 0 1,0 -4.8,0zM597.27,71.34a2.4,2.4 0 1,0 4.8,0a2.4,2.4 0 1,0 -4.8,0zM598.41,71.34a2.4,2.4 0 1,0 4.8,0a2.4,2.4 0 1,0 -4.8,0zM599.56,71.34a2.4,2.4 0 1,0 4.8,0a2.4,2.4 0 1,0 -4.8,0zM600.71,71.34a2.4,2.4 0 1,0 4.8,0a2.4,2.4 0 1,0 -4.8,0zM601.86,71.34a2.4,2.4 0 1,0 4.8,0a2.4,2.4 0 1,0 -4.8,0zM603.01,71.34a2.4,2.4 0 1,0 4.8,0a2.4,2.4 0 1,0 -4.8,0zM604.15,71.34a2.4,2.4 0 1,0 4.8,0a2.4,2.4 0 1,0 -4.8,0zM605.3,71.34a2.4,2.4 0 1,0 4.8,0a2.4,2.4 0 1,0 -4.8,0zM606.45,71.34a2.4,2.4 0 1,0 4.8,0a2.4,2.4 0 1,0 -4.8,0zM607.6,71.34a2.4,2.4 0 1,0 4.8,0a2.4,2.4 0 1,0 -4.8,0zM608.74,71.34a2.4,2.4 0 1,0 4.8,0a2.4,2.4 0 1,0 -4.8,0zM609.89,71.34a2.4,2.4 0 1,0 4.8,0a2.4,2.4 0 1,0 -4.8,0zM611.04,71.34a2.4,2.4 0 1,0 4.8,0a2.4,2.4 0 1,0 -4.8,0zM612.19,71.34a2.4,2.4 0 1,0 4.8,0a2.4,2.4 0 1,0 -4.8,0zM613.34,71.34a2.4,2.4 0 1,0 4.8,0a2.4,2.4 0 1,0 -4.8,0zM614.48,71.34a2.4,2.4 0 1,0 4.8,0a2.4,2.4 0 1,0 -4.8,0zM615.63,71.34a2.4,2.4 0 1,0 4.8,0a2.4,2.4 0 1,0 -4.8,0zM616.78,71.34a2.4,2.4 0 1,0 4.8,0a2.4,2.4 0 1,0 -4.8,0zM617.93,71.34a2.4,2.4 0 1,0 4.8,0a2.4,2.4 0 1,0 -4.8,0zM619.08,71.34a2.4,2.4 0 1,0 4.8,0a2.4,2.4 0 1,0 -4.8,0zM620.22,71.34a2.4,2.4 0 1,0 4.8,0a2.4,2.4 0 1,0 -4.8,0zM621.37,71.34a2.4,2.4 0 1,0 4.8,0a2.4,2.4 0 1,0 -4.8,0zM622.52,71.34a2.4,2.4 0 1,0 4.8,0a2.4,2.4 0 1,0 -4.8,0zM623.67,71.34a2.4,2.4 0 1,0 4.8,0a2.4,2.4 0 1,0 -4.8,0zM624.82,71.34a2.4,2.4 0 1,0 4.8,0a2.4,2.4 0 1,0 -4.8,0zM625.96,71.34a2.4,2.4 0 1,0 4.8,0a2.4,2.4 0 1,0 -4.8,0zM627.11,71.34a2.4,2.4 0 1,0 4.8,0a2.4,2.4 0 1,0 -4.8,0zM628.26,71.34a2.4,2.4 0 1,0 4.8,0a2.4,2.4 0 1,0 -4.8,0zM629.41,71.34a2.4,2.4 0 1,0 4.8,0a2.4,2.4 0 1,0 -4.8,0zM630.55,71.34a2.4,2.4 0 1,0 4.8,0a2.4,2.4 0 1,0 -4.8,0zM631.7,71.34a2.4,2.4 0 1,0 4.8,0a2.4,2.4 0 1,0 -4.8,0zM632.85,71.34a2.4,2.4 0 1,0 4.8,0a2.4,2.4 0 1,0 -4.8,0zM634,71.34a2.4,2.4 0 1,0 4.8,0a2.4,2.4 0 1,0 -4.8,0zM635.15,71.34a2.4,2.4 0 1,0 4.8,0a2.4,2.4 0 1,0 -4.8,0zM636.29,71.34a2.4,2.4 0 1,0 4.8,0a2.4,2.4 0 1,0 -4.8,0zM637.44,71.34a2.4,2.4 0 1,0 4.8,0a2.4,2.4 0 1,0 -4.8,0zM638.59,71.34a2.4,2.4 0 1,0 4.8,0a2.4,2.4 0 1,0 -4.8,0zM639.74,71.34a2.4,2.4 0 1,0 4.8,0a2.4,2.4 0 1,0 -4.8,0zM640.89,71.34a2.4,2.4 0 1,0 4.8,0a2.4,2.4 0 1,0 -4.8,0zM642.03,71.34a2.4,2.4 0 1,0 4.8,0a2.4,2.4 0 1,0 -4.8,0zM643.18,71.34a2.4,2.4 0 1,0 4.8,0a2.4,2.4 0 1,0 -4.8,0zM644.33,71.34a2.4,2.4 0 1,0 4.8,0a2.4,2.4 0 1,0 -4.8,0zM645.48,71.34a2.4,2.4 0 1,0 4.8,0a2.4,2.4 0 1,0 -4.8,0zM646.63,71.34a2.4,2.4 0 1,0 4.8,0a2.4,2.4 0 1,0 -4.8,0zM647.77,71.34a2.4,2.4 0 1,0 4.8,0a2.4,2.4 0 1,0 -4.8,0zM648.92,71.34a2.4,2.4 0 1,0 4.8,0a2.4,2.4 0 1,0 -4.8,0zM650.07,71.34a2.4,2.4 0 1,0 4.8,0a2.4,2.4 0 1,0 -4.8,0zM651.22,71.34a2.4,2.4 0 1,0 4.8,0a2.4,2.4 0 1,0 -4.8,0zM652.36,71.34a2.4,2.4 0 1,0 4.8,0a2.4,2.4 0 1,0 -4.8,0zM653.51,71.34a2.4,2.4 0 1,0 4.8,0a2.4,2.4 0 1,0 -4.8,0zM654.66,71.34a2.4,2.4 0 1,0 4.8,0a2.4,2.4 0 1,0 -4.8,0zM655.81,71.34a2.4,2.4 0 1,0 4.8,0a2.4,2.4 0 1,0 -4.8,0zM656.96,71.34a2.4,2.4 0 1,0 4.8,0a2.4,2.4 0 1,0 -4.8,0zM658.1,71.34a2.4,2.4 0 1,0 4.8,0a2.4,2.4 0 1,0 -4.8,0zM659.25,71.34a2.4,2.4 0 1,0 4.8,0a2.4,2.4 0 1,0 -4.8,0zM660.4,71.34a2.4,2.4 0 1,0 4.8,0a2.4,2.4 0 1,0 -4.8,0z"/>
<circle cx="89.5" cy="243.47" r="0.8" fill="#303030" fill-opacity="0.6"/>
<circle cx="89.5" cy="321.74" r="0.8" fill="#303030" fill-opacity="0.6"/>
<rect x="278.0" y="146.75" width="233.65" height="217.98" fill="#ffffff" stroke="#404040" stroke-width="1.4"/>
<polyline fill="none" stroke="#4DBEEE" stroke-width="1.9" marker-mid="url(#m0)" points="281.6,166.00 299.3,166.00 317.1,166.00"/>
<text transform="translate(320.00,176.70) scale(1,1.05)" style="font-size:28.2px;fill:#000000;text-anchor:start;stroke:#000000;stroke-width:0.2px;letter-spacing:0.25px;">GA</text>
<polyline fill="none" stroke="#0000FF" stroke-width="1.9" marker-mid="url(#m1)" points="281.6,202.20 299.3,202.20 317.1,202.20"/>
<text transform="translate(320.00,213.30) scale(1,1.05)" style="font-size:28.2px;fill:#000000;text-anchor:start;stroke:#000000;stroke-width:0.2px;letter-spacing:0.25px;">PSO</text>
<polyline fill="none" stroke="#00FF00" stroke-width="1.9" marker-mid="url(#m2)" points="281.6,237.80 299.3,237.80 317.1,237.80"/>
<text transform="translate(320.00,249.65) scale(1,1.05)" style="font-size:28.2px;fill:#000000;text-anchor:start;stroke:#000000;stroke-width:0.2px;letter-spacing:0.25px;">CCS-GWO</text>
<polyline fill="none" stroke="#B54DFF" stroke-width="1.9" marker-mid="url(#m3)" points="281.6,273.90 299.3,273.90 317.1,273.90"/>
<text transform="translate(320.00,284.90) scale(1,1.05)" style="font-size:28.2px;fill:#000000;text-anchor:start;stroke:#000000;stroke-width:0.2px;letter-spacing:0.25px;">MMSCC-GWO</text>
<polyline fill="none" stroke="#FF8000" stroke-width="1.9" marker-mid="url(#m4)" points="281.6,309.35 299.3,309.35 317.1,309.35"/>
<text transform="translate(320.00,321.30) scale(1,1.05)" style="font-size:28.2px;fill:#000000;text-anchor:start;stroke:#000000;stroke-width:0.2px;letter-spacing:0.25px;">WCA</text>
<polyline fill="none" stroke="#800080" stroke-width="1.9" marker-mid="url(#m5)" points="281.6,345.70 299.3,345.70 317.1,345.70"/>
<text transform="translate(320.00,358.20) scale(1,1.05)" style="font-size:28.2px;fill:#000000;text-anchor:start;stroke:#000000;stroke-width:0.2px;letter-spacing:0.25px;">HMS-GWO</text>
</svg></body></html>
